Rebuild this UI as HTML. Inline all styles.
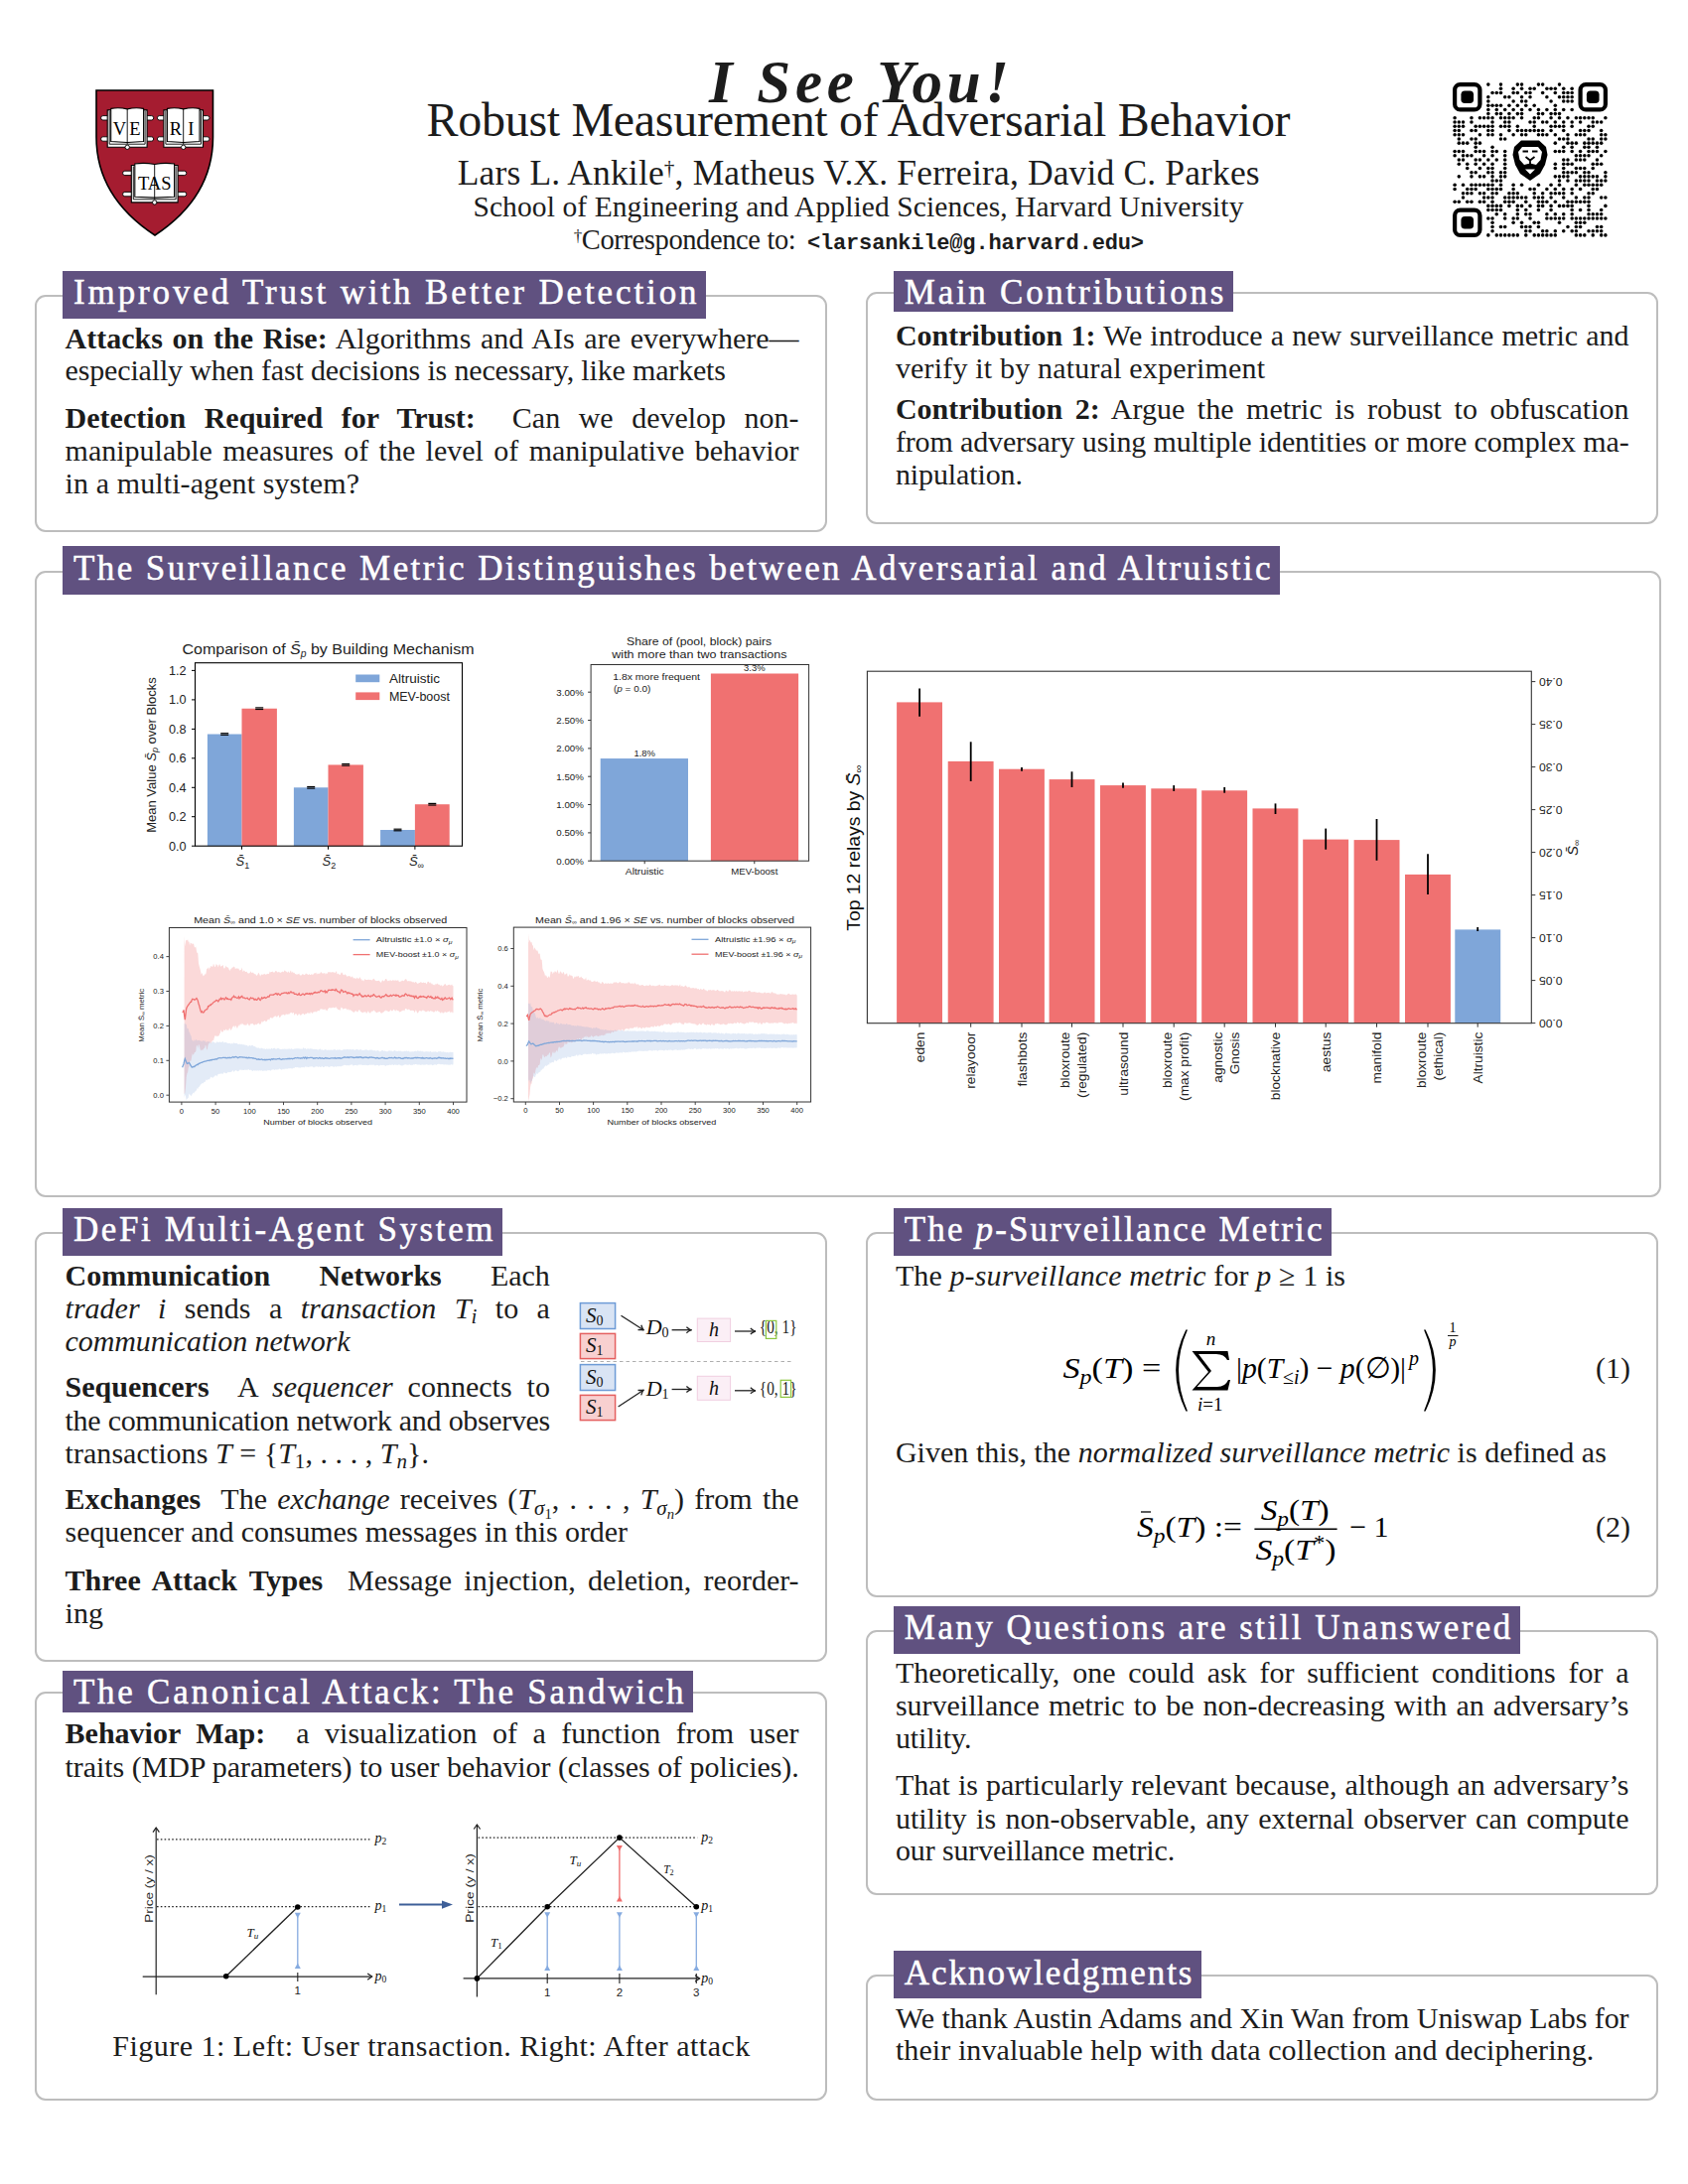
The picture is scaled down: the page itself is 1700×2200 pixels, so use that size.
<!DOCTYPE html><html><head><meta charset='utf-8'><title>I See You! Poster</title><style>
*{margin:0;padding:0;box-sizing:border-box}
html,body{width:1700px;height:2200px;background:#fff;overflow:hidden}
body{position:relative;font-family:"Liberation Serif",serif;color:#1c1c1c}
.t{position:absolute;white-space:nowrap;font-family:"Liberation Serif",serif}
.bx{position:absolute;border:2px solid #bdbdbd;border-radius:11px}
.hd{position:absolute;background:#605180}
.abs{position:absolute}
i{font-style:italic}
b{font-weight:bold}
.m{font-family:"Liberation Mono",monospace;font-weight:bold}
sub{font-size:70%;vertical-align:-0.25em;line-height:0}
sup{font-size:70%;vertical-align:0.45em;line-height:0}
svg text{font-family:"Liberation Sans",sans-serif}
svg text.ser{font-family:"Liberation Serif",serif}
</style></head><body>
<div class="bx" style="left:35.0px;top:297.0px;width:798.0px;height:239.4px"></div>
<div class="bx" style="left:871.7px;top:294.0px;width:798.1px;height:233.8px"></div>
<div class="bx" style="left:35.0px;top:574.5px;width:1637.7px;height:631.3px"></div>
<div class="bx" style="left:35.0px;top:1241.0px;width:798.0px;height:433.0px"></div>
<div class="bx" style="left:35.0px;top:1704.0px;width:798.0px;height:411.6px"></div>
<div class="bx" style="left:871.7px;top:1241.0px;width:798.0px;height:368.3px"></div>
<div class="bx" style="left:871.7px;top:1642.0px;width:798.0px;height:267.0px"></div>
<div class="bx" style="left:871.7px;top:1989.0px;width:798.0px;height:126.6px"></div>
<div class="hd" style="left:63.0px;top:272.5px;width:648.0px;height:48.5px"></div>
<div class="t" style="left:74.0px;top:277.1px;font-size:35px;line-height:35px;color:#fff;-webkit-text-stroke:0.5px #fff;letter-spacing:2.875px;">Improved Trust with Better Detection</div>
<div class="hd" style="left:900.2px;top:272.6px;width:341.6px;height:41.9px"></div>
<div class="t" style="left:910.8px;top:277.0px;font-size:35px;line-height:35px;color:#fff;-webkit-text-stroke:0.5px #fff;letter-spacing:2.726px;">Main Contributions</div>
<div class="hd" style="left:63.0px;top:550.2px;width:1226.0px;height:48.6px"></div>
<div class="t" style="left:74.0px;top:554.6px;font-size:35px;line-height:35px;color:#fff;-webkit-text-stroke:0.5px #fff;letter-spacing:2.427px;">The Surveillance Metric Distinguishes between Adversarial and Altruistic</div>
<div class="hd" style="left:63.0px;top:1217.1px;width:443.0px;height:47.7px"></div>
<div class="t" style="left:74.0px;top:1221.4px;font-size:35px;line-height:35px;color:#fff;-webkit-text-stroke:0.5px #fff;letter-spacing:2.588px;">DeFi Multi-Agent System</div>
<div class="hd" style="left:63.0px;top:1683.0px;width:635.0px;height:41.5px"></div>
<div class="t" style="left:74.0px;top:1687.0px;font-size:35px;line-height:35px;color:#fff;-webkit-text-stroke:0.5px #fff;letter-spacing:2.736px;">The Canonical Attack: The Sandwich</div>
<div class="hd" style="left:900.2px;top:1217.2px;width:440.8px;height:47.4px"></div>
<div class="t" style="left:910.8px;top:1221.4px;font-size:35px;line-height:35px;color:#fff;-webkit-text-stroke:0.5px #fff;letter-spacing:2.141px;">The <i>p</i>-Surveillance Metric</div>
<div class="hd" style="left:900.2px;top:1618.0px;width:630.6px;height:47.7px"></div>
<div class="t" style="left:910.8px;top:1622.0px;font-size:35px;line-height:35px;color:#fff;-webkit-text-stroke:0.5px #fff;letter-spacing:2.460px;">Many Questions are still Unanswered</div>
<div class="hd" style="left:900.2px;top:1965.0px;width:309.8px;height:47.9px"></div>
<div class="t" style="left:910.8px;top:1969.5px;font-size:35px;line-height:35px;color:#fff;-webkit-text-stroke:0.5px #fff;letter-spacing:1.946px;">Acknowledgments</div>
<div class="t" style="left:714.0px;top:52.2px;font-size:61px;line-height:61px;letter-spacing:4.679px;"><b><i>I See You!</i></b></div>
<div class="t" style="left:429.6px;top:97.2px;font-size:48px;line-height:48px;letter-spacing:-0.304px;">Robust Measurement of Adversarial Behavior</div>
<div class="t" style="left:460.7px;top:156.6px;font-size:35.5px;line-height:35.5px;letter-spacing:0.147px;">Lars L. Ankile<sup style='font-size:60%'>&dagger;</sup>, Matheus V.X. Ferreira, David C. Parkes</div>
<div class="t" style="left:476.4px;top:194.1px;font-size:29.5px;line-height:29.5px;letter-spacing:0.097px;">School of Engineering and Applied Sciences, Harvard University</div>
<div class="t" style="left:577.7px;top:228.4px;font-size:28.5px;line-height:28.5px;letter-spacing:-0.386px;"><sup style='font-size:60%'>&dagger;</sup>Correspondence to:</div>
<div class="t" style="left:813.0px;top:235.4px;font-size:22px;line-height:22px;font-family:'Liberation Mono',monospace;font-weight:bold;letter-spacing:-0.171px;">&lt;larsankile@g.harvard.edu&gt;</div>
<div class="t" style="left:65.6px;top:325.5px;font-size:30px;line-height:30px;width:739.0px;text-align:justify;text-align-last:justify;"><b>Attacks on the Rise:</b> Algorithms and AIs are everywhere&mdash;</div>
<div class="t" style="left:65.6px;top:358.3px;font-size:30px;line-height:30px;letter-spacing:-0.163px;">especially when fast decisions is necessary, like markets</div>
<div class="t" style="left:65.6px;top:406.1px;font-size:30px;line-height:30px;width:739.0px;text-align:justify;text-align-last:justify;"><b>Detection Required for Trust:</b>&nbsp; Can we develop non-</div>
<div class="t" style="left:65.6px;top:438.9px;font-size:30px;line-height:30px;width:739.0px;text-align:justify;text-align-last:justify;">manipulable measures of the level of manipulative behavior</div>
<div class="t" style="left:65.6px;top:471.6px;font-size:30px;line-height:30px;letter-spacing:0.100px;">in a multi-agent system?</div>
<div class="t" style="left:901.9px;top:323.0px;font-size:30px;line-height:30px;width:738.6px;text-align:justify;text-align-last:justify;"><b>Contribution 1:</b> We introduce a new surveillance metric and</div>
<div class="t" style="left:901.9px;top:355.7px;font-size:30px;line-height:30px;letter-spacing:0.185px;">verify it by natural experiment</div>
<div class="t" style="left:901.9px;top:397.0px;font-size:30px;line-height:30px;width:738.6px;text-align:justify;text-align-last:justify;"><b>Contribution 2:</b> Argue the metric is robust to obfuscation</div>
<div class="t" style="left:901.9px;top:430.3px;font-size:30px;line-height:30px;width:738.6px;text-align:justify;text-align-last:justify;letter-spacing:-0.151px;">from adversary using multiple identities or more complex ma-</div>
<div class="t" style="left:901.9px;top:462.9px;font-size:30px;line-height:30px;letter-spacing:-0.106px;">nipulation.</div>
<div class="t" style="left:65.6px;top:1269.6px;font-size:30px;line-height:30px;width:488.3px;text-align:justify;text-align-last:justify;"><b>Communication Networks</b> Each</div>
<div class="t" style="left:65.6px;top:1303.3px;font-size:30px;line-height:30px;width:488.3px;text-align:justify;text-align-last:justify;"><i>trader i</i> sends a <i>transaction T<sub>i</sub></i> to a</div>
<div class="t" style="left:65.6px;top:1335.9px;font-size:30px;line-height:30px;letter-spacing:-0.111px;"><i>communication network</i></div>
<div class="t" style="left:65.6px;top:1382.4px;font-size:30px;line-height:30px;width:488.3px;text-align:justify;text-align-last:justify;"><b>Sequencers</b>&nbsp; A <i>sequencer</i> connects to</div>
<div class="t" style="left:65.6px;top:1415.6px;font-size:30px;line-height:30px;width:488.3px;text-align:justify;text-align-last:justify;letter-spacing:-0.340px;">the communication network and observes</div>
<div class="t" style="left:65.6px;top:1449.3px;font-size:30px;line-height:30px;letter-spacing:0.040px;">transactions <i>T</i> = {<i>T</i><sub>1</sub>, . . . , <i>T<sub>n</sub></i>}.</div>
<div class="t" style="left:65.6px;top:1495.3px;font-size:30px;line-height:30px;width:739.0px;text-align:justify;text-align-last:justify;"><b>Exchanges</b>&nbsp; The <i>exchange</i> receives (<i>T</i><sub><i>&sigma;</i><sub>1</sub></sub>, . . . , <i>T</i><sub><i>&sigma;<sub>n</sub></i></sub>) from the</div>
<div class="t" style="left:65.6px;top:1527.9px;font-size:30px;line-height:30px;letter-spacing:-0.078px;">sequencer and consumes messages in this order</div>
<div class="t" style="left:65.6px;top:1576.9px;font-size:30px;line-height:30px;width:739.0px;text-align:justify;text-align-last:justify;"><b>Three Attack Types</b>&nbsp; Message injection, deletion, reorder-</div>
<div class="t" style="left:65.6px;top:1609.9px;font-size:30px;line-height:30px;">ing</div>
<div class="t" style="left:65.6px;top:1731.4px;font-size:30px;line-height:30px;width:739.0px;text-align:justify;text-align-last:justify;"><b>Behavior Map:</b>&nbsp; a visualization of a function from user</div>
<div class="t" style="left:65.6px;top:1764.6px;font-size:30px;line-height:30px;width:739.0px;text-align:justify;text-align-last:justify;letter-spacing:-0.078px;">traits (MDP parameters) to user behavior (classes of policies).</div>
<div class="t" style="left:113.3px;top:2046.1px;font-size:30px;line-height:30px;letter-spacing:0.490px;">Figure 1: Left: User transaction. Right: After attack</div>
<div class="t" style="left:901.9px;top:1269.6px;font-size:30px;line-height:30px;letter-spacing:0.115px;">The <i>p-surveillance metric</i> for <i>p</i> &ge; 1 is</div>
<div class="t" style="left:901.9px;top:1447.9px;font-size:30px;line-height:30px;letter-spacing:0.033px;">Given this, the <i>normalized surveillance metric</i> is defined as</div>
<div class="t" style="left:1607.0px;top:1362.9px;font-size:30px;line-height:30px;">(1)</div>
<div class="t" style="left:1607.0px;top:1522.9px;font-size:30px;line-height:30px;">(2)</div>
<div class="t" style="left:901.9px;top:1669.6px;font-size:30px;line-height:30px;width:738.6px;text-align:justify;text-align-last:justify;">Theoretically, one could ask for sufficient conditions for a</div>
<div class="t" style="left:901.9px;top:1703.3px;font-size:30px;line-height:30px;width:738.6px;text-align:justify;text-align-last:justify;">surveillance metric to be non-decreasing with an adversary&rsquo;s</div>
<div class="t" style="left:901.9px;top:1736.0px;font-size:30px;line-height:30px;letter-spacing:-0.105px;">utility.</div>
<div class="t" style="left:901.9px;top:1782.9px;font-size:30px;line-height:30px;width:738.6px;text-align:justify;text-align-last:justify;">That is particularly relevant because, although an adversary&rsquo;s</div>
<div class="t" style="left:901.9px;top:1816.6px;font-size:30px;line-height:30px;width:738.6px;text-align:justify;text-align-last:justify;">utility is non-observable, any external observer can compute</div>
<div class="t" style="left:901.9px;top:1849.3px;font-size:30px;line-height:30px;letter-spacing:-0.116px;">our surveillance metric.</div>
<div class="t" style="left:901.9px;top:2017.9px;font-size:30px;line-height:30px;width:738.6px;text-align:justify;text-align-last:justify;letter-spacing:-0.097px;">We thank Austin Adams and Xin Wan from Uniswap Labs for</div>
<div class="t" style="left:901.9px;top:2050.4px;font-size:30px;line-height:30px;letter-spacing:0.091px;">their invaluable help with data collection and deciphering.</div>
<svg class="abs" style="left:0;top:0" width="260" height="260" viewBox="0 0 260 260"><path d="M97,91 L214.5,91 L214.5,138 C214.5,180 194,212 156,237 C118,212 97,180 97,138 Z" fill="#a51c30" stroke="#000" stroke-width="1.6"/><rect x="101.6" y="116.6" width="53.1" height="4.4" rx="2.2" fill="#fff" stroke="#000" stroke-width="0.9"/><rect x="101.6" y="137.8" width="53.1" height="4.4" rx="2.2" fill="#fff" stroke="#000" stroke-width="0.9"/><path d="M108.2,110.9 L148.1,110.9 L148.1,148.3 L108.2,148.3 Z" fill="#fff" stroke="#000" stroke-width="1.1"/><path d="M110.2,111.8 L110.2,145.2 L146.1,145.2 L146.1,111.8" fill="none" stroke="#000" stroke-width="0.9"/><path d="M111.7,109.4 Q119.9,107.9 128.2,109.9 Q136.4,107.9 144.6,109.4 L144.6,142.6 L128.2,143.5 L111.7,142.6 Z" fill="#fff" stroke="#000" stroke-width="1.1"/><line x1="128.2" y1="109.9" x2="128.2" y2="145.2" stroke="#000" stroke-width="0.9"/><circle cx="128.2" cy="148.3" r="2.2" fill="#fff" stroke="#000" stroke-width="0.9"/><text x="120.4" y="135.6" font-size="18.5" text-anchor="middle" font-family="Liberation Serif" class="ser">V</text><text x="135.9" y="135.6" font-size="18.5" text-anchor="middle" font-family="Liberation Serif" class="ser">E</text><rect x="158.4" y="116.6" width="52.6" height="4.4" rx="2.2" fill="#fff" stroke="#000" stroke-width="0.9"/><rect x="158.4" y="137.8" width="52.6" height="4.4" rx="2.2" fill="#fff" stroke="#000" stroke-width="0.9"/><path d="M164.9,110.9 L204.5,110.9 L204.5,148.3 L164.9,148.3 Z" fill="#fff" stroke="#000" stroke-width="1.1"/><path d="M166.9,111.8 L166.9,145.2 L202.5,145.2 L202.5,111.8" fill="none" stroke="#000" stroke-width="0.9"/><path d="M168.4,109.4 Q176.5,107.9 184.7,109.9 Q192.9,107.9 201.0,109.4 L201.0,142.6 L184.7,143.5 L168.4,142.6 Z" fill="#fff" stroke="#000" stroke-width="1.1"/><line x1="184.7" y1="109.9" x2="184.7" y2="145.2" stroke="#000" stroke-width="0.9"/><circle cx="184.7" cy="148.3" r="2.2" fill="#fff" stroke="#000" stroke-width="0.9"/><text x="177.0" y="135.6" font-size="18.5" text-anchor="middle" font-family="Liberation Serif" class="ser">R</text><text x="192.4" y="135.6" font-size="18.5" text-anchor="middle" font-family="Liberation Serif" class="ser">I</text><rect x="123.6" y="172.2" width="64.2" height="4.4" rx="2.2" fill="#fff" stroke="#000" stroke-width="0.9"/><rect x="123.6" y="193.4" width="64.2" height="4.4" rx="2.2" fill="#fff" stroke="#000" stroke-width="0.9"/><path d="M132.3,166.5 L179.1,166.5 L179.1,203.9 L132.3,203.9 Z" fill="#fff" stroke="#000" stroke-width="1.1"/><path d="M134.3,167.4 L134.3,200.8 L177.1,200.8 L177.1,167.4" fill="none" stroke="#000" stroke-width="0.9"/><path d="M135.8,165.0 Q145.7,163.5 155.7,165.5 Q165.7,163.5 175.6,165.0 L175.6,198.2 L155.7,199.1 L135.8,198.2 Z" fill="#fff" stroke="#000" stroke-width="1.1"/><line x1="155.7" y1="165.5" x2="155.7" y2="200.8" stroke="#000" stroke-width="0.9"/><circle cx="155.7" cy="203.9" r="2.2" fill="#fff" stroke="#000" stroke-width="0.9"/><text x="155.7" y="191.2" font-size="18.5" text-anchor="middle" font-family="Liberation Serif" class="ser">TAS</text></svg>
<svg class="abs" style="left:1463.0px;top:83.0px" width="156.0" height="156.0" viewBox="0 0 156.0 156.0"><g fill="#000"><circle cx="35.84" cy="2.11" r="1.77"/><circle cx="48.49" cy="2.11" r="1.77"/><circle cx="65.35" cy="2.11" r="1.77"/><circle cx="69.57" cy="2.11" r="1.77"/><circle cx="86.43" cy="2.11" r="1.77"/><circle cx="90.65" cy="2.11" r="1.77"/><circle cx="107.51" cy="2.11" r="1.77"/><circle cx="48.49" cy="6.32" r="1.77"/><circle cx="61.14" cy="6.32" r="1.77"/><circle cx="69.57" cy="6.32" r="1.77"/><circle cx="78.00" cy="6.32" r="1.77"/><circle cx="82.22" cy="6.32" r="1.77"/><circle cx="94.86" cy="6.32" r="1.77"/><circle cx="99.08" cy="6.32" r="1.77"/><circle cx="103.30" cy="6.32" r="1.77"/><circle cx="111.73" cy="6.32" r="1.77"/><circle cx="120.16" cy="6.32" r="1.77"/><circle cx="40.05" cy="10.54" r="1.77"/><circle cx="44.27" cy="10.54" r="1.77"/><circle cx="48.49" cy="10.54" r="1.77"/><circle cx="61.14" cy="10.54" r="1.77"/><circle cx="65.35" cy="10.54" r="1.77"/><circle cx="73.78" cy="10.54" r="1.77"/><circle cx="78.00" cy="10.54" r="1.77"/><circle cx="90.65" cy="10.54" r="1.77"/><circle cx="103.30" cy="10.54" r="1.77"/><circle cx="111.73" cy="10.54" r="1.77"/><circle cx="115.95" cy="10.54" r="1.77"/><circle cx="120.16" cy="10.54" r="1.77"/><circle cx="35.84" cy="14.76" r="1.77"/><circle cx="52.70" cy="14.76" r="1.77"/><circle cx="56.92" cy="14.76" r="1.77"/><circle cx="69.57" cy="14.76" r="1.77"/><circle cx="78.00" cy="14.76" r="1.77"/><circle cx="94.86" cy="14.76" r="1.77"/><circle cx="107.51" cy="14.76" r="1.77"/><circle cx="111.73" cy="14.76" r="1.77"/><circle cx="115.95" cy="14.76" r="1.77"/><circle cx="120.16" cy="14.76" r="1.77"/><circle cx="35.84" cy="18.97" r="1.77"/><circle cx="61.14" cy="18.97" r="1.77"/><circle cx="69.57" cy="18.97" r="1.77"/><circle cx="73.78" cy="18.97" r="1.77"/><circle cx="99.08" cy="18.97" r="1.77"/><circle cx="111.73" cy="18.97" r="1.77"/><circle cx="115.95" cy="18.97" r="1.77"/><circle cx="120.16" cy="18.97" r="1.77"/><circle cx="35.84" cy="23.19" r="1.77"/><circle cx="40.05" cy="23.19" r="1.77"/><circle cx="44.27" cy="23.19" r="1.77"/><circle cx="48.49" cy="23.19" r="1.77"/><circle cx="56.92" cy="23.19" r="1.77"/><circle cx="65.35" cy="23.19" r="1.77"/><circle cx="73.78" cy="23.19" r="1.77"/><circle cx="82.22" cy="23.19" r="1.77"/><circle cx="103.30" cy="23.19" r="1.77"/><circle cx="35.84" cy="27.41" r="1.77"/><circle cx="44.27" cy="27.41" r="1.77"/><circle cx="52.70" cy="27.41" r="1.77"/><circle cx="61.14" cy="27.41" r="1.77"/><circle cx="69.57" cy="27.41" r="1.77"/><circle cx="78.00" cy="27.41" r="1.77"/><circle cx="86.43" cy="27.41" r="1.77"/><circle cx="94.86" cy="27.41" r="1.77"/><circle cx="103.30" cy="27.41" r="1.77"/><circle cx="111.73" cy="27.41" r="1.77"/><circle cx="120.16" cy="27.41" r="1.77"/><circle cx="35.84" cy="31.62" r="1.77"/><circle cx="44.27" cy="31.62" r="1.77"/><circle cx="48.49" cy="31.62" r="1.77"/><circle cx="56.92" cy="31.62" r="1.77"/><circle cx="65.35" cy="31.62" r="1.77"/><circle cx="69.57" cy="31.62" r="1.77"/><circle cx="86.43" cy="31.62" r="1.77"/><circle cx="90.65" cy="31.62" r="1.77"/><circle cx="99.08" cy="31.62" r="1.77"/><circle cx="103.30" cy="31.62" r="1.77"/><circle cx="107.51" cy="31.62" r="1.77"/><circle cx="2.11" cy="35.84" r="1.77"/><circle cx="18.97" cy="35.84" r="1.77"/><circle cx="27.41" cy="35.84" r="1.77"/><circle cx="31.62" cy="35.84" r="1.77"/><circle cx="35.84" cy="35.84" r="1.77"/><circle cx="40.05" cy="35.84" r="1.77"/><circle cx="48.49" cy="35.84" r="1.77"/><circle cx="52.70" cy="35.84" r="1.77"/><circle cx="56.92" cy="35.84" r="1.77"/><circle cx="61.14" cy="35.84" r="1.77"/><circle cx="69.57" cy="35.84" r="1.77"/><circle cx="82.22" cy="35.84" r="1.77"/><circle cx="86.43" cy="35.84" r="1.77"/><circle cx="99.08" cy="35.84" r="1.77"/><circle cx="107.51" cy="35.84" r="1.77"/><circle cx="115.95" cy="35.84" r="1.77"/><circle cx="124.38" cy="35.84" r="1.77"/><circle cx="128.59" cy="35.84" r="1.77"/><circle cx="132.81" cy="35.84" r="1.77"/><circle cx="137.03" cy="35.84" r="1.77"/><circle cx="141.24" cy="35.84" r="1.77"/><circle cx="153.89" cy="35.84" r="1.77"/><circle cx="2.11" cy="40.05" r="1.77"/><circle cx="6.32" cy="40.05" r="1.77"/><circle cx="10.54" cy="40.05" r="1.77"/><circle cx="18.97" cy="40.05" r="1.77"/><circle cx="40.05" cy="40.05" r="1.77"/><circle cx="52.70" cy="40.05" r="1.77"/><circle cx="56.92" cy="40.05" r="1.77"/><circle cx="78.00" cy="40.05" r="1.77"/><circle cx="82.22" cy="40.05" r="1.77"/><circle cx="90.65" cy="40.05" r="1.77"/><circle cx="94.86" cy="40.05" r="1.77"/><circle cx="103.30" cy="40.05" r="1.77"/><circle cx="111.73" cy="40.05" r="1.77"/><circle cx="120.16" cy="40.05" r="1.77"/><circle cx="128.59" cy="40.05" r="1.77"/><circle cx="141.24" cy="40.05" r="1.77"/><circle cx="145.46" cy="40.05" r="1.77"/><circle cx="149.68" cy="40.05" r="1.77"/><circle cx="2.11" cy="44.27" r="1.77"/><circle cx="6.32" cy="44.27" r="1.77"/><circle cx="10.54" cy="44.27" r="1.77"/><circle cx="23.19" cy="44.27" r="1.77"/><circle cx="27.41" cy="44.27" r="1.77"/><circle cx="31.62" cy="44.27" r="1.77"/><circle cx="35.84" cy="44.27" r="1.77"/><circle cx="40.05" cy="44.27" r="1.77"/><circle cx="48.49" cy="44.27" r="1.77"/><circle cx="52.70" cy="44.27" r="1.77"/><circle cx="56.92" cy="44.27" r="1.77"/><circle cx="65.35" cy="44.27" r="1.77"/><circle cx="82.22" cy="44.27" r="1.77"/><circle cx="99.08" cy="44.27" r="1.77"/><circle cx="103.30" cy="44.27" r="1.77"/><circle cx="107.51" cy="44.27" r="1.77"/><circle cx="111.73" cy="44.27" r="1.77"/><circle cx="120.16" cy="44.27" r="1.77"/><circle cx="137.03" cy="44.27" r="1.77"/><circle cx="141.24" cy="44.27" r="1.77"/><circle cx="2.11" cy="48.49" r="1.77"/><circle cx="6.32" cy="48.49" r="1.77"/><circle cx="18.97" cy="48.49" r="1.77"/><circle cx="23.19" cy="48.49" r="1.77"/><circle cx="35.84" cy="48.49" r="1.77"/><circle cx="40.05" cy="48.49" r="1.77"/><circle cx="56.92" cy="48.49" r="1.77"/><circle cx="65.35" cy="48.49" r="1.77"/><circle cx="69.57" cy="48.49" r="1.77"/><circle cx="73.78" cy="48.49" r="1.77"/><circle cx="78.00" cy="48.49" r="1.77"/><circle cx="82.22" cy="48.49" r="1.77"/><circle cx="86.43" cy="48.49" r="1.77"/><circle cx="90.65" cy="48.49" r="1.77"/><circle cx="99.08" cy="48.49" r="1.77"/><circle cx="111.73" cy="48.49" r="1.77"/><circle cx="128.59" cy="48.49" r="1.77"/><circle cx="132.81" cy="48.49" r="1.77"/><circle cx="137.03" cy="48.49" r="1.77"/><circle cx="149.68" cy="48.49" r="1.77"/><circle cx="2.11" cy="52.70" r="1.77"/><circle cx="6.32" cy="52.70" r="1.77"/><circle cx="10.54" cy="52.70" r="1.77"/><circle cx="27.41" cy="52.70" r="1.77"/><circle cx="35.84" cy="52.70" r="1.77"/><circle cx="40.05" cy="52.70" r="1.77"/><circle cx="48.49" cy="52.70" r="1.77"/><circle cx="61.14" cy="52.70" r="1.77"/><circle cx="69.57" cy="52.70" r="1.77"/><circle cx="73.78" cy="52.70" r="1.77"/><circle cx="86.43" cy="52.70" r="1.77"/><circle cx="90.65" cy="52.70" r="1.77"/><circle cx="94.86" cy="52.70" r="1.77"/><circle cx="103.30" cy="52.70" r="1.77"/><circle cx="115.95" cy="52.70" r="1.77"/><circle cx="124.38" cy="52.70" r="1.77"/><circle cx="128.59" cy="52.70" r="1.77"/><circle cx="132.81" cy="52.70" r="1.77"/><circle cx="149.68" cy="52.70" r="1.77"/><circle cx="153.89" cy="52.70" r="1.77"/><circle cx="6.32" cy="56.92" r="1.77"/><circle cx="18.97" cy="56.92" r="1.77"/><circle cx="23.19" cy="56.92" r="1.77"/><circle cx="48.49" cy="56.92" r="1.77"/><circle cx="52.70" cy="56.92" r="1.77"/><circle cx="107.51" cy="56.92" r="1.77"/><circle cx="111.73" cy="56.92" r="1.77"/><circle cx="115.95" cy="56.92" r="1.77"/><circle cx="137.03" cy="56.92" r="1.77"/><circle cx="141.24" cy="56.92" r="1.77"/><circle cx="149.68" cy="56.92" r="1.77"/><circle cx="153.89" cy="56.92" r="1.77"/><circle cx="6.32" cy="61.14" r="1.77"/><circle cx="10.54" cy="61.14" r="1.77"/><circle cx="14.76" cy="61.14" r="1.77"/><circle cx="23.19" cy="61.14" r="1.77"/><circle cx="27.41" cy="61.14" r="1.77"/><circle cx="103.30" cy="61.14" r="1.77"/><circle cx="115.95" cy="61.14" r="1.77"/><circle cx="120.16" cy="61.14" r="1.77"/><circle cx="124.38" cy="61.14" r="1.77"/><circle cx="132.81" cy="61.14" r="1.77"/><circle cx="137.03" cy="61.14" r="1.77"/><circle cx="141.24" cy="61.14" r="1.77"/><circle cx="145.46" cy="61.14" r="1.77"/><circle cx="149.68" cy="61.14" r="1.77"/><circle cx="23.19" cy="65.35" r="1.77"/><circle cx="40.05" cy="65.35" r="1.77"/><circle cx="111.73" cy="65.35" r="1.77"/><circle cx="120.16" cy="65.35" r="1.77"/><circle cx="132.81" cy="65.35" r="1.77"/><circle cx="137.03" cy="65.35" r="1.77"/><circle cx="145.46" cy="65.35" r="1.77"/><circle cx="2.11" cy="69.57" r="1.77"/><circle cx="6.32" cy="69.57" r="1.77"/><circle cx="10.54" cy="69.57" r="1.77"/><circle cx="23.19" cy="69.57" r="1.77"/><circle cx="27.41" cy="69.57" r="1.77"/><circle cx="31.62" cy="69.57" r="1.77"/><circle cx="40.05" cy="69.57" r="1.77"/><circle cx="44.27" cy="69.57" r="1.77"/><circle cx="52.70" cy="69.57" r="1.77"/><circle cx="103.30" cy="69.57" r="1.77"/><circle cx="107.51" cy="69.57" r="1.77"/><circle cx="111.73" cy="69.57" r="1.77"/><circle cx="120.16" cy="69.57" r="1.77"/><circle cx="128.59" cy="69.57" r="1.77"/><circle cx="137.03" cy="69.57" r="1.77"/><circle cx="141.24" cy="69.57" r="1.77"/><circle cx="145.46" cy="69.57" r="1.77"/><circle cx="153.89" cy="69.57" r="1.77"/><circle cx="2.11" cy="73.78" r="1.77"/><circle cx="10.54" cy="73.78" r="1.77"/><circle cx="14.76" cy="73.78" r="1.77"/><circle cx="18.97" cy="73.78" r="1.77"/><circle cx="31.62" cy="73.78" r="1.77"/><circle cx="40.05" cy="73.78" r="1.77"/><circle cx="52.70" cy="73.78" r="1.77"/><circle cx="124.38" cy="73.78" r="1.77"/><circle cx="128.59" cy="73.78" r="1.77"/><circle cx="132.81" cy="73.78" r="1.77"/><circle cx="137.03" cy="73.78" r="1.77"/><circle cx="149.68" cy="73.78" r="1.77"/><circle cx="6.32" cy="78.00" r="1.77"/><circle cx="10.54" cy="78.00" r="1.77"/><circle cx="23.19" cy="78.00" r="1.77"/><circle cx="27.41" cy="78.00" r="1.77"/><circle cx="35.84" cy="78.00" r="1.77"/><circle cx="44.27" cy="78.00" r="1.77"/><circle cx="52.70" cy="78.00" r="1.77"/><circle cx="111.73" cy="78.00" r="1.77"/><circle cx="115.95" cy="78.00" r="1.77"/><circle cx="124.38" cy="78.00" r="1.77"/><circle cx="128.59" cy="78.00" r="1.77"/><circle cx="132.81" cy="78.00" r="1.77"/><circle cx="145.46" cy="78.00" r="1.77"/><circle cx="6.32" cy="82.22" r="1.77"/><circle cx="14.76" cy="82.22" r="1.77"/><circle cx="23.19" cy="82.22" r="1.77"/><circle cx="31.62" cy="82.22" r="1.77"/><circle cx="40.05" cy="82.22" r="1.77"/><circle cx="52.70" cy="82.22" r="1.77"/><circle cx="103.30" cy="82.22" r="1.77"/><circle cx="111.73" cy="82.22" r="1.77"/><circle cx="115.95" cy="82.22" r="1.77"/><circle cx="120.16" cy="82.22" r="1.77"/><circle cx="141.24" cy="82.22" r="1.77"/><circle cx="145.46" cy="82.22" r="1.77"/><circle cx="149.68" cy="82.22" r="1.77"/><circle cx="14.76" cy="86.43" r="1.77"/><circle cx="27.41" cy="86.43" r="1.77"/><circle cx="35.84" cy="86.43" r="1.77"/><circle cx="40.05" cy="86.43" r="1.77"/><circle cx="52.70" cy="86.43" r="1.77"/><circle cx="103.30" cy="86.43" r="1.77"/><circle cx="111.73" cy="86.43" r="1.77"/><circle cx="124.38" cy="86.43" r="1.77"/><circle cx="128.59" cy="86.43" r="1.77"/><circle cx="132.81" cy="86.43" r="1.77"/><circle cx="141.24" cy="86.43" r="1.77"/><circle cx="18.97" cy="90.65" r="1.77"/><circle cx="23.19" cy="90.65" r="1.77"/><circle cx="35.84" cy="90.65" r="1.77"/><circle cx="40.05" cy="90.65" r="1.77"/><circle cx="48.49" cy="90.65" r="1.77"/><circle cx="52.70" cy="90.65" r="1.77"/><circle cx="111.73" cy="90.65" r="1.77"/><circle cx="115.95" cy="90.65" r="1.77"/><circle cx="120.16" cy="90.65" r="1.77"/><circle cx="124.38" cy="90.65" r="1.77"/><circle cx="132.81" cy="90.65" r="1.77"/><circle cx="137.03" cy="90.65" r="1.77"/><circle cx="153.89" cy="90.65" r="1.77"/><circle cx="6.32" cy="94.86" r="1.77"/><circle cx="18.97" cy="94.86" r="1.77"/><circle cx="27.41" cy="94.86" r="1.77"/><circle cx="31.62" cy="94.86" r="1.77"/><circle cx="40.05" cy="94.86" r="1.77"/><circle cx="48.49" cy="94.86" r="1.77"/><circle cx="52.70" cy="94.86" r="1.77"/><circle cx="103.30" cy="94.86" r="1.77"/><circle cx="107.51" cy="94.86" r="1.77"/><circle cx="111.73" cy="94.86" r="1.77"/><circle cx="115.95" cy="94.86" r="1.77"/><circle cx="128.59" cy="94.86" r="1.77"/><circle cx="132.81" cy="94.86" r="1.77"/><circle cx="137.03" cy="94.86" r="1.77"/><circle cx="141.24" cy="94.86" r="1.77"/><circle cx="145.46" cy="94.86" r="1.77"/><circle cx="153.89" cy="94.86" r="1.77"/><circle cx="40.05" cy="99.08" r="1.77"/><circle cx="44.27" cy="99.08" r="1.77"/><circle cx="48.49" cy="99.08" r="1.77"/><circle cx="107.51" cy="99.08" r="1.77"/><circle cx="115.95" cy="99.08" r="1.77"/><circle cx="124.38" cy="99.08" r="1.77"/><circle cx="128.59" cy="99.08" r="1.77"/><circle cx="132.81" cy="99.08" r="1.77"/><circle cx="137.03" cy="99.08" r="1.77"/><circle cx="145.46" cy="99.08" r="1.77"/><circle cx="149.68" cy="99.08" r="1.77"/><circle cx="153.89" cy="99.08" r="1.77"/><circle cx="2.11" cy="103.30" r="1.77"/><circle cx="10.54" cy="103.30" r="1.77"/><circle cx="18.97" cy="103.30" r="1.77"/><circle cx="23.19" cy="103.30" r="1.77"/><circle cx="27.41" cy="103.30" r="1.77"/><circle cx="31.62" cy="103.30" r="1.77"/><circle cx="35.84" cy="103.30" r="1.77"/><circle cx="40.05" cy="103.30" r="1.77"/><circle cx="48.49" cy="103.30" r="1.77"/><circle cx="61.14" cy="103.30" r="1.77"/><circle cx="69.57" cy="103.30" r="1.77"/><circle cx="86.43" cy="103.30" r="1.77"/><circle cx="99.08" cy="103.30" r="1.77"/><circle cx="107.51" cy="103.30" r="1.77"/><circle cx="124.38" cy="103.30" r="1.77"/><circle cx="132.81" cy="103.30" r="1.77"/><circle cx="137.03" cy="103.30" r="1.77"/><circle cx="141.24" cy="103.30" r="1.77"/><circle cx="145.46" cy="103.30" r="1.77"/><circle cx="149.68" cy="103.30" r="1.77"/><circle cx="2.11" cy="107.51" r="1.77"/><circle cx="14.76" cy="107.51" r="1.77"/><circle cx="18.97" cy="107.51" r="1.77"/><circle cx="23.19" cy="107.51" r="1.77"/><circle cx="35.84" cy="107.51" r="1.77"/><circle cx="40.05" cy="107.51" r="1.77"/><circle cx="44.27" cy="107.51" r="1.77"/><circle cx="48.49" cy="107.51" r="1.77"/><circle cx="61.14" cy="107.51" r="1.77"/><circle cx="78.00" cy="107.51" r="1.77"/><circle cx="82.22" cy="107.51" r="1.77"/><circle cx="94.86" cy="107.51" r="1.77"/><circle cx="103.30" cy="107.51" r="1.77"/><circle cx="111.73" cy="107.51" r="1.77"/><circle cx="120.16" cy="107.51" r="1.77"/><circle cx="128.59" cy="107.51" r="1.77"/><circle cx="141.24" cy="107.51" r="1.77"/><circle cx="145.46" cy="107.51" r="1.77"/><circle cx="10.54" cy="111.73" r="1.77"/><circle cx="14.76" cy="111.73" r="1.77"/><circle cx="18.97" cy="111.73" r="1.77"/><circle cx="27.41" cy="111.73" r="1.77"/><circle cx="31.62" cy="111.73" r="1.77"/><circle cx="40.05" cy="111.73" r="1.77"/><circle cx="44.27" cy="111.73" r="1.77"/><circle cx="56.92" cy="111.73" r="1.77"/><circle cx="61.14" cy="111.73" r="1.77"/><circle cx="65.35" cy="111.73" r="1.77"/><circle cx="82.22" cy="111.73" r="1.77"/><circle cx="90.65" cy="111.73" r="1.77"/><circle cx="99.08" cy="111.73" r="1.77"/><circle cx="103.30" cy="111.73" r="1.77"/><circle cx="107.51" cy="111.73" r="1.77"/><circle cx="111.73" cy="111.73" r="1.77"/><circle cx="120.16" cy="111.73" r="1.77"/><circle cx="137.03" cy="111.73" r="1.77"/><circle cx="141.24" cy="111.73" r="1.77"/><circle cx="10.54" cy="115.95" r="1.77"/><circle cx="31.62" cy="115.95" r="1.77"/><circle cx="35.84" cy="115.95" r="1.77"/><circle cx="40.05" cy="115.95" r="1.77"/><circle cx="52.70" cy="115.95" r="1.77"/><circle cx="56.92" cy="115.95" r="1.77"/><circle cx="61.14" cy="115.95" r="1.77"/><circle cx="65.35" cy="115.95" r="1.77"/><circle cx="69.57" cy="115.95" r="1.77"/><circle cx="73.78" cy="115.95" r="1.77"/><circle cx="82.22" cy="115.95" r="1.77"/><circle cx="86.43" cy="115.95" r="1.77"/><circle cx="90.65" cy="115.95" r="1.77"/><circle cx="99.08" cy="115.95" r="1.77"/><circle cx="111.73" cy="115.95" r="1.77"/><circle cx="124.38" cy="115.95" r="1.77"/><circle cx="132.81" cy="115.95" r="1.77"/><circle cx="137.03" cy="115.95" r="1.77"/><circle cx="149.68" cy="115.95" r="1.77"/><circle cx="153.89" cy="115.95" r="1.77"/><circle cx="2.11" cy="120.16" r="1.77"/><circle cx="6.32" cy="120.16" r="1.77"/><circle cx="14.76" cy="120.16" r="1.77"/><circle cx="18.97" cy="120.16" r="1.77"/><circle cx="27.41" cy="120.16" r="1.77"/><circle cx="31.62" cy="120.16" r="1.77"/><circle cx="40.05" cy="120.16" r="1.77"/><circle cx="52.70" cy="120.16" r="1.77"/><circle cx="56.92" cy="120.16" r="1.77"/><circle cx="61.14" cy="120.16" r="1.77"/><circle cx="73.78" cy="120.16" r="1.77"/><circle cx="86.43" cy="120.16" r="1.77"/><circle cx="90.65" cy="120.16" r="1.77"/><circle cx="94.86" cy="120.16" r="1.77"/><circle cx="103.30" cy="120.16" r="1.77"/><circle cx="115.95" cy="120.16" r="1.77"/><circle cx="120.16" cy="120.16" r="1.77"/><circle cx="124.38" cy="120.16" r="1.77"/><circle cx="128.59" cy="120.16" r="1.77"/><circle cx="132.81" cy="120.16" r="1.77"/><circle cx="137.03" cy="120.16" r="1.77"/><circle cx="35.84" cy="124.38" r="1.77"/><circle cx="40.05" cy="124.38" r="1.77"/><circle cx="44.27" cy="124.38" r="1.77"/><circle cx="48.49" cy="124.38" r="1.77"/><circle cx="56.92" cy="124.38" r="1.77"/><circle cx="65.35" cy="124.38" r="1.77"/><circle cx="69.57" cy="124.38" r="1.77"/><circle cx="78.00" cy="124.38" r="1.77"/><circle cx="86.43" cy="124.38" r="1.77"/><circle cx="90.65" cy="124.38" r="1.77"/><circle cx="99.08" cy="124.38" r="1.77"/><circle cx="107.51" cy="124.38" r="1.77"/><circle cx="111.73" cy="124.38" r="1.77"/><circle cx="115.95" cy="124.38" r="1.77"/><circle cx="120.16" cy="124.38" r="1.77"/><circle cx="137.03" cy="124.38" r="1.77"/><circle cx="153.89" cy="124.38" r="1.77"/><circle cx="35.84" cy="128.59" r="1.77"/><circle cx="40.05" cy="128.59" r="1.77"/><circle cx="44.27" cy="128.59" r="1.77"/><circle cx="48.49" cy="128.59" r="1.77"/><circle cx="65.35" cy="128.59" r="1.77"/><circle cx="73.78" cy="128.59" r="1.77"/><circle cx="86.43" cy="128.59" r="1.77"/><circle cx="99.08" cy="128.59" r="1.77"/><circle cx="120.16" cy="128.59" r="1.77"/><circle cx="128.59" cy="128.59" r="1.77"/><circle cx="137.03" cy="128.59" r="1.77"/><circle cx="149.68" cy="128.59" r="1.77"/><circle cx="44.27" cy="132.81" r="1.77"/><circle cx="52.70" cy="132.81" r="1.77"/><circle cx="65.35" cy="132.81" r="1.77"/><circle cx="73.78" cy="132.81" r="1.77"/><circle cx="78.00" cy="132.81" r="1.77"/><circle cx="94.86" cy="132.81" r="1.77"/><circle cx="103.30" cy="132.81" r="1.77"/><circle cx="111.73" cy="132.81" r="1.77"/><circle cx="120.16" cy="132.81" r="1.77"/><circle cx="137.03" cy="132.81" r="1.77"/><circle cx="141.24" cy="132.81" r="1.77"/><circle cx="145.46" cy="132.81" r="1.77"/><circle cx="149.68" cy="132.81" r="1.77"/><circle cx="35.84" cy="137.03" r="1.77"/><circle cx="40.05" cy="137.03" r="1.77"/><circle cx="52.70" cy="137.03" r="1.77"/><circle cx="61.14" cy="137.03" r="1.77"/><circle cx="65.35" cy="137.03" r="1.77"/><circle cx="78.00" cy="137.03" r="1.77"/><circle cx="94.86" cy="137.03" r="1.77"/><circle cx="99.08" cy="137.03" r="1.77"/><circle cx="103.30" cy="137.03" r="1.77"/><circle cx="107.51" cy="137.03" r="1.77"/><circle cx="111.73" cy="137.03" r="1.77"/><circle cx="120.16" cy="137.03" r="1.77"/><circle cx="124.38" cy="137.03" r="1.77"/><circle cx="128.59" cy="137.03" r="1.77"/><circle cx="132.81" cy="137.03" r="1.77"/><circle cx="137.03" cy="137.03" r="1.77"/><circle cx="141.24" cy="137.03" r="1.77"/><circle cx="145.46" cy="137.03" r="1.77"/><circle cx="149.68" cy="137.03" r="1.77"/><circle cx="153.89" cy="137.03" r="1.77"/><circle cx="40.05" cy="141.24" r="1.77"/><circle cx="61.14" cy="141.24" r="1.77"/><circle cx="69.57" cy="141.24" r="1.77"/><circle cx="82.22" cy="141.24" r="1.77"/><circle cx="86.43" cy="141.24" r="1.77"/><circle cx="107.51" cy="141.24" r="1.77"/><circle cx="124.38" cy="141.24" r="1.77"/><circle cx="128.59" cy="141.24" r="1.77"/><circle cx="132.81" cy="141.24" r="1.77"/><circle cx="40.05" cy="145.46" r="1.77"/><circle cx="48.49" cy="145.46" r="1.77"/><circle cx="52.70" cy="145.46" r="1.77"/><circle cx="69.57" cy="145.46" r="1.77"/><circle cx="73.78" cy="145.46" r="1.77"/><circle cx="78.00" cy="145.46" r="1.77"/><circle cx="86.43" cy="145.46" r="1.77"/><circle cx="115.95" cy="145.46" r="1.77"/><circle cx="124.38" cy="145.46" r="1.77"/><circle cx="128.59" cy="145.46" r="1.77"/><circle cx="145.46" cy="145.46" r="1.77"/><circle cx="149.68" cy="145.46" r="1.77"/><circle cx="40.05" cy="149.68" r="1.77"/><circle cx="73.78" cy="149.68" r="1.77"/><circle cx="78.00" cy="149.68" r="1.77"/><circle cx="90.65" cy="149.68" r="1.77"/><circle cx="94.86" cy="149.68" r="1.77"/><circle cx="103.30" cy="149.68" r="1.77"/><circle cx="111.73" cy="149.68" r="1.77"/><circle cx="120.16" cy="149.68" r="1.77"/><circle cx="124.38" cy="149.68" r="1.77"/><circle cx="137.03" cy="149.68" r="1.77"/><circle cx="141.24" cy="149.68" r="1.77"/><circle cx="145.46" cy="149.68" r="1.77"/><circle cx="149.68" cy="149.68" r="1.77"/><circle cx="35.84" cy="153.89" r="1.77"/><circle cx="44.27" cy="153.89" r="1.77"/><circle cx="48.49" cy="153.89" r="1.77"/><circle cx="52.70" cy="153.89" r="1.77"/><circle cx="56.92" cy="153.89" r="1.77"/><circle cx="61.14" cy="153.89" r="1.77"/><circle cx="65.35" cy="153.89" r="1.77"/><circle cx="73.78" cy="153.89" r="1.77"/><circle cx="82.22" cy="153.89" r="1.77"/><circle cx="86.43" cy="153.89" r="1.77"/><circle cx="90.65" cy="153.89" r="1.77"/><circle cx="94.86" cy="153.89" r="1.77"/><circle cx="99.08" cy="153.89" r="1.77"/><circle cx="103.30" cy="153.89" r="1.77"/><circle cx="124.38" cy="153.89" r="1.77"/><circle cx="128.59" cy="153.89" r="1.77"/><circle cx="132.81" cy="153.89" r="1.77"/><circle cx="141.24" cy="153.89" r="1.77"/><circle cx="149.68" cy="153.89" r="1.77"/><circle cx="153.89" cy="153.89" r="1.77"/></g><rect x="2.11" y="2.11" width="25.30" height="25.30" rx="5.48" fill="none" stroke="#000" stroke-width="4.22"/><rect x="8.43" y="8.43" width="12.65" height="12.65" rx="3.79" fill="#000"/><rect x="128.59" y="2.11" width="25.30" height="25.30" rx="5.48" fill="none" stroke="#000" stroke-width="4.22"/><rect x="134.92" y="8.43" width="12.65" height="12.65" rx="3.79" fill="#000"/><rect x="2.11" y="128.59" width="25.30" height="25.30" rx="5.48" fill="none" stroke="#000" stroke-width="4.22"/><rect x="8.43" y="134.92" width="12.65" height="12.65" rx="3.79" fill="#000"/><polygon points="69.0,58.5 87.0,58.5 94.0,65.0 95.5,73.0 93.0,83.0 88.0,92.0 78.0,99.0 68.0,92.0 63.0,83.0 60.5,73.0 62.0,65.0" fill="#000"/><polygon points="70.0,65.0 86.0,65.0 90.0,70.0 88.5,78.0 84.0,83.0 78.0,81.5 72.0,83.0 67.5,78.0 66.0,70.0" fill="#fff"/><path d="M70.5,69.5 L76.0,69.5 M80.0,69.5 L85.5,69.5 M73.5,75.0 L78.0,78.5 L82.5,75.0 M78.0,78.5 L78.0,82.0" stroke="#000" stroke-width="1.8" fill="none"/><polygon points="73.0,87.5 83.0,87.5 78.0,92.5" fill="#fff"/></svg>
<svg class="abs" style="left:0;top:0" width="1700" height="2200" viewBox="0 0 1700 2200"><rect x="208.90" y="739.52" width="34.60" height="112.68" fill="#7fa6d9" /><rect x="243.50" y="713.74" width="35.40" height="138.46" fill="#f07171" /><line x1="222.2" y1="738.7" x2="230.2" y2="738.7" stroke="#000" stroke-width="1.2" /><line x1="222.2" y1="740.3" x2="230.2" y2="740.3" stroke="#000" stroke-width="1.2" /><line x1="257.2" y1="712.9" x2="265.2" y2="712.9" stroke="#000" stroke-width="1.2" /><line x1="257.2" y1="714.5" x2="265.2" y2="714.5" stroke="#000" stroke-width="1.2" /><rect x="295.90" y="793.28" width="34.60" height="58.92" fill="#7fa6d9" /><rect x="330.50" y="770.45" width="35.40" height="81.75" fill="#f07171" /><line x1="309.2" y1="792.5" x2="317.2" y2="792.5" stroke="#000" stroke-width="1.2" /><line x1="309.2" y1="794.1" x2="317.2" y2="794.1" stroke="#000" stroke-width="1.2" /><line x1="344.2" y1="769.6" x2="352.2" y2="769.6" stroke="#000" stroke-width="1.2" /><line x1="344.2" y1="771.2" x2="352.2" y2="771.2" stroke="#000" stroke-width="1.2" /><rect x="383.10" y="836.00" width="34.80" height="16.20" fill="#7fa6d9" /><rect x="417.90" y="810.22" width="34.80" height="41.98" fill="#f07171" /><line x1="396.5" y1="835.2" x2="404.5" y2="835.2" stroke="#000" stroke-width="1.2" /><line x1="396.5" y1="836.8" x2="404.5" y2="836.8" stroke="#000" stroke-width="1.2" /><line x1="431.3" y1="809.4" x2="439.3" y2="809.4" stroke="#000" stroke-width="1.2" /><line x1="431.3" y1="811.0" x2="439.3" y2="811.0" stroke="#000" stroke-width="1.2" /><rect x="196.5" y="667.7" width="269.0" height="184.5" fill="none" stroke="#000" stroke-width="1.1"/><line x1="193.0" y1="852.2" x2="196.5" y2="852.2" stroke="#000" stroke-width="1" /><text x="187.6" y="856.5" font-size="12" text-anchor="end" textLength="17.6" lengthAdjust="spacingAndGlyphs" fill="#222" >0.0</text><line x1="193.0" y1="822.7" x2="196.5" y2="822.7" stroke="#000" stroke-width="1" /><text x="187.6" y="827.0" font-size="12" text-anchor="end" textLength="17.6" lengthAdjust="spacingAndGlyphs" fill="#222" >0.2</text><line x1="193.0" y1="793.3" x2="196.5" y2="793.3" stroke="#000" stroke-width="1" /><text x="187.6" y="797.6" font-size="12" text-anchor="end" textLength="17.6" lengthAdjust="spacingAndGlyphs" fill="#222" >0.4</text><line x1="193.0" y1="763.8" x2="196.5" y2="763.8" stroke="#000" stroke-width="1" /><text x="187.6" y="768.1" font-size="12" text-anchor="end" textLength="17.6" lengthAdjust="spacingAndGlyphs" fill="#222" >0.6</text><line x1="193.0" y1="734.4" x2="196.5" y2="734.4" stroke="#000" stroke-width="1" /><text x="187.6" y="738.7" font-size="12" text-anchor="end" textLength="17.6" lengthAdjust="spacingAndGlyphs" fill="#222" >0.8</text><line x1="193.0" y1="704.9" x2="196.5" y2="704.9" stroke="#000" stroke-width="1" /><text x="187.6" y="709.2" font-size="12" text-anchor="end" textLength="17.6" lengthAdjust="spacingAndGlyphs" fill="#222" >1.0</text><line x1="193.0" y1="675.4" x2="196.5" y2="675.4" stroke="#000" stroke-width="1" /><text x="187.6" y="679.7" font-size="12" text-anchor="end" textLength="17.6" lengthAdjust="spacingAndGlyphs" fill="#222" >1.2</text><line x1="243.5" y1="852.2" x2="243.5" y2="855.7" stroke="#000" stroke-width="1" /><text x="237.5" y="872" font-size="13" fill="#222" font-style="italic">S&#772;<tspan font-size="9" dy="3" font-style="normal">1</tspan></text><line x1="330.5" y1="852.2" x2="330.5" y2="855.7" stroke="#000" stroke-width="1" /><text x="324.5" y="872" font-size="13" fill="#222" font-style="italic">S&#772;<tspan font-size="9" dy="3" font-style="normal">2</tspan></text><line x1="417.9" y1="852.2" x2="417.9" y2="855.7" stroke="#000" stroke-width="1" /><text x="411.9" y="872" font-size="13" fill="#222" font-style="italic">S&#772;<tspan font-size="9" dy="3" font-style="normal">&#8734;</tspan></text><text x="330.5" y="658.8" font-size="15.5" text-anchor="middle" textLength="294.0" lengthAdjust="spacingAndGlyphs" fill="#222" >Comparison of <tspan font-style='italic'>S&#772;</tspan><tspan font-size='10' dy='3' font-style='italic'>p</tspan><tspan dy='-3'> by Building Mechanism</tspan></text><text x="156.9" y="760.5" font-size="13" text-anchor="middle" transform="rotate(-90 156.9 760.5)" fill="#222" >Mean Value <tspan font-style='italic'>S&#772;</tspan><tspan font-size='9' dy='2' font-style='italic'>p</tspan><tspan dy='-2'> over Blocks</tspan></text><rect x="358.20" y="679.50" width="24.10" height="7.70" fill="#7fa6d9" /><rect x="358.20" y="697.40" width="24.10" height="7.70" fill="#f07171" /><text x="391.9" y="687.5" font-size="12.2" textLength="51.1" lengthAdjust="spacingAndGlyphs" fill="#222" >Altruistic</text><text x="391.9" y="705.5" font-size="12.2" textLength="61.1" lengthAdjust="spacingAndGlyphs" fill="#222" >MEV-boost</text><rect x="604.70" y="764.06" width="88.30" height="103.14" fill="#7fa6d9" /><rect x="715.90" y="678.49" width="88.20" height="188.71" fill="#f07171" /><rect x="595.1" y="669.5" width="219.5" height="197.70000000000005" fill="none" stroke="#333" stroke-width="1"/><line x1="592.1" y1="867.2" x2="595.1" y2="867.2" stroke="#333" stroke-width="1" /><text x="587.8" y="870.5" font-size="9" text-anchor="end" textLength="27.5" lengthAdjust="spacingAndGlyphs" fill="#222" >0.00%</text><line x1="592.1" y1="838.9" x2="595.1" y2="838.9" stroke="#333" stroke-width="1" /><text x="587.8" y="842.2" font-size="9" text-anchor="end" textLength="27.5" lengthAdjust="spacingAndGlyphs" fill="#222" >0.50%</text><line x1="592.1" y1="810.5" x2="595.1" y2="810.5" stroke="#333" stroke-width="1" /><text x="587.8" y="813.8" font-size="9" text-anchor="end" textLength="27.5" lengthAdjust="spacingAndGlyphs" fill="#222" >1.00%</text><line x1="592.1" y1="782.2" x2="595.1" y2="782.2" stroke="#333" stroke-width="1" /><text x="587.8" y="785.5" font-size="9" text-anchor="end" textLength="27.5" lengthAdjust="spacingAndGlyphs" fill="#222" >1.50%</text><line x1="592.1" y1="753.9" x2="595.1" y2="753.9" stroke="#333" stroke-width="1" /><text x="587.8" y="757.2" font-size="9" text-anchor="end" textLength="27.5" lengthAdjust="spacingAndGlyphs" fill="#222" >2.00%</text><line x1="592.1" y1="725.5" x2="595.1" y2="725.5" stroke="#333" stroke-width="1" /><text x="587.8" y="728.8" font-size="9" text-anchor="end" textLength="27.5" lengthAdjust="spacingAndGlyphs" fill="#222" >2.50%</text><line x1="592.1" y1="697.2" x2="595.1" y2="697.2" stroke="#333" stroke-width="1" /><text x="587.8" y="700.5" font-size="9" text-anchor="end" textLength="27.5" lengthAdjust="spacingAndGlyphs" fill="#222" >3.00%</text><line x1="649.2" y1="867.2" x2="649.2" y2="870.2" stroke="#333" stroke-width="1" /><text x="649.2" y="880.5" font-size="9.2" text-anchor="middle" textLength="38.8" lengthAdjust="spacingAndGlyphs" fill="#222" >Altruistic</text><line x1="759.8" y1="867.2" x2="759.8" y2="870.2" stroke="#333" stroke-width="1" /><text x="759.8" y="880.5" font-size="9.2" text-anchor="middle" textLength="47.0" lengthAdjust="spacingAndGlyphs" fill="#222" >MEV-boost</text><text x="704.1" y="649.9" font-size="11" text-anchor="middle" textLength="146.2" lengthAdjust="spacingAndGlyphs" fill="#222" >Share of (pool, block) pairs</text><text x="704.4" y="663.2" font-size="11" text-anchor="middle" textLength="176.2" lengthAdjust="spacingAndGlyphs" fill="#222" >with more than two transactions</text><text x="617.2" y="684.7" font-size="9" textLength="87.8" lengthAdjust="spacingAndGlyphs" fill="#222" >1.8x more frequent</text><text x="618.0" y="696.8" font-size="9" textLength="37.3" lengthAdjust="spacingAndGlyphs" fill="#222" >(<tspan font-style='italic'>p</tspan> = 0.0)</text><text x="759.8" y="676.4" font-size="9" text-anchor="middle" textLength="21.5" lengthAdjust="spacingAndGlyphs" fill="#222" >3.3%</text><text x="649.2" y="761.5" font-size="9" text-anchor="middle" textLength="21.5" lengthAdjust="spacingAndGlyphs" fill="#222" >1.8%</text><polygon points="185.6,943.1 186.3,953.4 187.0,947.7 187.7,946.9 188.4,947.2 189.1,946.2 189.7,948.7 190.4,948.4 191.1,952.5 191.8,949.2 192.5,950.3 193.2,950.3 193.8,951.4 194.5,950.3 195.2,951.2 195.9,954.4 196.6,954.2 197.3,953.5 197.9,957.7 198.6,960.1 199.3,960.2 200.0,970.3 200.7,973.2 201.4,975.7 202.1,978.5 202.7,981.7 203.4,979.9 204.1,981.8 204.8,983.4 205.5,982.7 206.2,980.5 206.8,982.3 207.5,980.4 208.2,975.9 208.9,975.7 209.6,974.5 210.3,977.1 210.9,974.0 211.6,975.4 212.3,973.3 213.0,973.0 213.7,974.0 214.4,973.5 215.0,970.4 215.7,972.5 216.4,974.2 217.1,973.4 217.8,970.7 218.5,971.9 219.2,972.5 219.8,974.5 220.5,972.1 221.2,971.1 221.9,972.9 222.6,973.8 223.3,973.1 223.9,972.8 224.6,971.7 225.3,975.0 226.0,975.7 226.7,974.7 227.4,972.5 228.0,974.1 228.7,974.2 229.4,974.6 230.1,975.0 230.8,977.0 231.5,977.9 232.1,975.4 232.8,976.7 233.5,975.1 234.2,974.3 234.9,974.7 235.6,973.5 236.3,973.9 236.9,975.9 237.6,975.4 238.3,975.8 239.0,975.0 239.7,975.9 240.4,975.6 241.0,977.2 241.7,977.5 242.4,977.0 243.1,976.7 243.8,974.5 244.5,978.9 245.1,978.3 245.8,977.3 246.5,978.3 247.2,979.0 247.9,978.9 248.6,978.4 249.2,980.0 249.9,980.4 250.6,980.6 251.3,980.3 252.0,979.5 252.7,978.2 253.4,980.0 254.0,980.1 254.7,979.6 255.4,980.0 256.1,981.5 256.8,980.7 257.5,981.5 258.1,982.4 258.8,982.7 259.5,981.8 260.2,979.8 260.9,980.6 261.6,982.1 262.2,983.5 262.9,981.8 263.6,981.6 264.3,981.7 265.0,981.8 265.7,981.2 266.3,980.7 267.0,981.5 267.7,981.7 268.4,981.2 269.1,981.2 269.8,980.8 270.5,981.3 271.1,980.6 271.8,978.5 272.5,979.5 273.2,979.1 273.9,978.9 274.6,978.6 275.2,979.6 275.9,979.4 276.6,979.4 277.3,978.2 278.0,977.7 278.7,978.5 279.3,979.8 280.0,978.8 280.7,979.2 281.4,979.3 282.1,979.8 282.8,979.7 283.4,979.2 284.1,979.1 284.8,978.4 285.5,979.4 286.2,978.1 286.9,977.2 287.6,978.6 288.2,978.4 288.9,979.3 289.6,979.8 290.3,978.3 291.0,979.4 291.7,979.9 292.3,978.2 293.0,977.5 293.7,979.9 294.4,978.6 295.1,980.2 295.8,979.6 296.4,979.8 297.1,981.0 297.8,981.2 298.5,981.6 299.2,981.8 299.9,981.2 300.5,981.2 301.2,980.5 301.9,982.3 302.6,982.5 303.3,982.5 304.0,982.0 304.7,981.0 305.3,981.5 306.0,981.7 306.7,982.2 307.4,981.6 308.1,980.2 308.8,981.2 309.4,981.0 310.1,981.9 310.8,981.7 311.5,981.0 312.2,981.9 312.9,982.0 313.5,981.1 314.2,982.3 314.9,981.3 315.6,981.7 316.3,980.6 317.0,980.3 317.6,980.3 318.3,979.6 319.0,981.8 319.7,980.6 320.4,980.8 321.1,980.9 321.8,980.6 322.4,980.6 323.1,979.0 323.8,979.4 324.5,980.4 325.2,980.4 325.9,980.5 326.5,980.3 327.2,979.9 327.9,981.8 328.6,980.3 329.3,980.9 330.0,980.0 330.6,978.9 331.3,979.1 332.0,979.7 332.7,979.1 333.4,979.7 334.1,979.1 334.7,979.2 335.4,979.5 336.1,979.0 336.8,980.1 337.5,980.3 338.2,978.7 338.9,978.3 339.5,981.5 340.2,980.4 340.9,981.1 341.6,981.4 342.3,982.3 343.0,981.2 343.6,979.8 344.3,979.5 345.0,980.5 345.7,982.0 346.4,982.3 347.1,981.8 347.7,981.2 348.4,982.2 349.1,983.1 349.8,984.1 350.5,982.9 351.2,983.2 351.8,983.3 352.5,983.3 353.2,983.9 353.9,984.7 354.6,983.2 355.3,984.1 356.0,986.1 356.6,985.1 357.3,985.1 358.0,986.2 358.7,985.7 359.4,984.6 360.1,985.7 360.7,985.6 361.4,985.9 362.1,984.4 362.8,984.5 363.5,986.6 364.2,986.3 364.8,988.2 365.5,987.0 366.2,988.4 366.9,987.0 367.6,986.1 368.3,986.9 368.9,986.9 369.6,987.0 370.3,987.0 371.0,986.7 371.7,986.8 372.4,987.0 373.1,987.3 373.7,986.8 374.4,987.6 375.1,987.3 375.8,986.0 376.5,985.7 377.2,986.7 377.8,987.5 378.5,987.9 379.2,988.3 379.9,987.9 380.6,987.9 381.3,987.9 381.9,987.4 382.6,988.8 383.3,989.5 384.0,989.8 384.7,987.7 385.4,987.3 386.0,988.0 386.7,988.5 387.4,987.8 388.1,986.3 388.8,986.0 389.5,986.5 390.2,988.4 390.8,987.8 391.5,987.8 392.2,988.4 392.9,987.0 393.6,987.6 394.3,988.2 394.9,987.7 395.6,987.3 396.3,987.6 397.0,987.5 397.7,987.7 398.4,987.6 399.0,987.2 399.7,988.1 400.4,987.6 401.1,987.3 401.8,988.7 402.5,989.3 403.1,988.5 403.8,988.8 404.5,988.0 405.2,987.6 405.9,988.0 406.6,988.2 407.3,987.5 407.9,986.4 408.6,986.2 409.3,986.6 410.0,988.1 410.7,988.5 411.4,988.2 412.0,988.1 412.7,988.6 413.4,988.0 414.1,989.2 414.8,988.2 415.5,989.3 416.1,989.8 416.8,988.8 417.5,990.3 418.2,989.0 418.9,989.3 419.6,989.8 420.2,990.9 420.9,990.4 421.6,990.6 422.3,990.0 423.0,989.9 423.7,989.1 424.4,989.5 425.0,990.1 425.7,989.9 426.4,989.6 427.1,989.9 427.8,990.0 428.5,989.8 429.1,990.6 429.8,991.4 430.5,989.1 431.2,988.7 431.9,989.0 432.6,990.3 433.2,990.6 433.9,989.3 434.6,991.4 435.3,990.4 436.0,992.4 436.7,991.8 437.3,991.8 438.0,992.7 438.7,990.8 439.4,991.6 440.1,991.3 440.8,990.6 441.5,992.0 442.1,991.4 442.8,992.3 443.5,992.7 444.2,992.7 444.9,992.1 445.6,993.8 446.2,992.9 446.9,992.4 447.6,991.5 448.3,990.9 449.0,991.8 449.7,992.9 450.3,992.7 451.0,992.2 451.7,992.1 452.4,991.8 453.1,992.2 453.8,992.6 454.4,992.2 455.1,991.4 455.8,992.9 456.5,993.2 456.5,1019.9 455.8,1020.6 455.1,1019.1 454.4,1019.6 453.8,1020.5 453.1,1019.0 452.4,1018.4 451.7,1018.9 451.0,1019.5 450.3,1019.6 449.7,1019.8 449.0,1019.9 448.3,1019.1 447.6,1019.4 446.9,1020.9 446.2,1020.1 445.6,1020.6 444.9,1019.1 444.2,1020.5 443.5,1020.5 442.8,1019.4 442.1,1018.9 441.5,1018.9 440.8,1017.7 440.1,1018.5 439.4,1018.9 438.7,1017.7 438.0,1019.2 437.3,1019.3 436.7,1019.8 436.0,1019.1 435.3,1018.8 434.6,1018.8 433.9,1018.1 433.2,1018.5 432.6,1018.9 431.9,1019.0 431.2,1017.9 430.5,1018.6 429.8,1019.4 429.1,1018.7 428.5,1019.4 427.8,1018.1 427.1,1018.7 426.4,1017.6 425.7,1017.8 425.0,1017.8 424.4,1019.0 423.7,1018.0 423.0,1018.8 422.3,1017.8 421.6,1019.3 420.9,1020.8 420.2,1020.1 419.6,1019.1 418.9,1017.1 418.2,1018.8 417.5,1020.2 416.8,1018.0 416.1,1018.2 415.5,1017.8 414.8,1017.7 414.1,1018.0 413.4,1018.0 412.7,1017.6 412.0,1016.4 411.4,1016.7 410.7,1017.4 410.0,1016.6 409.3,1016.6 408.6,1015.8 407.9,1016.7 407.3,1018.4 406.6,1017.5 405.9,1018.1 405.2,1017.7 404.5,1018.5 403.8,1019.1 403.1,1019.3 402.5,1019.4 401.8,1018.8 401.1,1018.1 400.4,1017.9 399.7,1017.7 399.0,1017.0 398.4,1018.7 397.7,1017.9 397.0,1017.1 396.3,1016.7 395.6,1018.0 394.9,1018.4 394.3,1018.3 393.6,1017.0 392.9,1018.3 392.2,1018.7 391.5,1019.2 390.8,1018.6 390.2,1018.8 389.5,1018.2 388.8,1017.3 388.1,1018.8 387.4,1017.9 386.7,1019.2 386.0,1019.4 385.4,1020.0 384.7,1020.5 384.0,1020.5 383.3,1020.3 382.6,1019.1 381.9,1019.0 381.3,1019.4 380.6,1019.5 379.9,1020.1 379.2,1020.2 378.5,1019.5 377.8,1018.7 377.2,1018.6 376.5,1017.6 375.8,1018.3 375.1,1019.1 374.4,1018.5 373.7,1019.3 373.1,1020.8 372.4,1020.2 371.7,1020.3 371.0,1018.3 370.3,1018.9 369.6,1020.4 368.9,1020.7 368.3,1019.0 367.6,1019.4 366.9,1019.6 366.2,1019.4 365.5,1020.3 364.8,1020.1 364.2,1019.5 363.5,1019.2 362.8,1018.6 362.1,1016.9 361.4,1017.6 360.7,1018.4 360.1,1019.7 359.4,1019.0 358.7,1018.4 358.0,1017.9 357.3,1019.3 356.6,1019.4 356.0,1020.3 355.3,1018.7 354.6,1018.8 353.9,1017.8 353.2,1017.7 352.5,1017.1 351.8,1018.0 351.2,1016.8 350.5,1016.5 349.8,1017.5 349.1,1016.5 348.4,1015.7 347.7,1015.7 347.1,1016.1 346.4,1016.1 345.7,1017.0 345.0,1015.4 344.3,1015.3 343.6,1014.4 343.0,1016.4 342.3,1018.1 341.6,1017.0 340.9,1017.3 340.2,1016.8 339.5,1015.4 338.9,1015.7 338.2,1013.8 337.5,1015.3 336.8,1015.0 336.1,1015.5 335.4,1014.5 334.7,1015.4 334.1,1014.8 333.4,1015.4 332.7,1015.6 332.0,1014.9 331.3,1015.3 330.6,1016.0 330.0,1016.9 329.3,1018.5 328.6,1017.3 327.9,1017.8 327.2,1016.0 326.5,1017.2 325.9,1016.6 325.2,1017.2 324.5,1016.5 323.8,1016.4 323.1,1016.3 322.4,1016.8 321.8,1018.1 321.1,1018.6 320.4,1017.8 319.7,1018.8 319.0,1018.6 318.3,1019.8 317.6,1018.5 317.0,1020.1 316.3,1018.7 315.6,1019.6 314.9,1020.4 314.2,1020.8 313.5,1019.8 312.9,1019.1 312.2,1021.2 311.5,1020.5 310.8,1020.5 310.1,1020.4 309.4,1020.2 308.8,1021.3 308.1,1021.3 307.4,1021.3 306.7,1022.4 306.0,1021.6 305.3,1020.7 304.7,1021.2 304.0,1021.4 303.3,1022.4 302.6,1022.8 301.9,1022.0 301.2,1020.9 300.5,1021.8 299.9,1023.3 299.2,1022.5 298.5,1021.2 297.8,1021.2 297.1,1021.6 296.4,1022.9 295.8,1019.9 295.1,1020.1 294.4,1021.0 293.7,1019.8 293.0,1020.3 292.3,1020.3 291.7,1021.1 291.0,1022.1 290.3,1021.2 289.6,1021.7 288.9,1021.9 288.2,1021.2 287.6,1021.7 286.9,1023.2 286.2,1021.9 285.5,1021.7 284.8,1022.7 284.1,1021.7 283.4,1022.9 282.8,1023.5 282.1,1025.1 281.4,1025.0 280.7,1022.8 280.0,1022.7 279.3,1024.3 278.7,1024.7 278.0,1023.4 277.3,1023.5 276.6,1023.8 275.9,1023.9 275.2,1024.9 274.6,1025.7 273.9,1025.3 273.2,1025.4 272.5,1024.8 271.8,1026.1 271.1,1027.7 270.5,1026.7 269.8,1026.8 269.1,1028.0 268.4,1028.9 267.7,1029.3 267.0,1027.9 266.3,1028.3 265.7,1029.1 265.0,1028.5 264.3,1029.9 263.6,1028.5 262.9,1031.3 262.2,1031.6 261.6,1031.9 260.9,1030.9 260.2,1030.6 259.5,1031.2 258.8,1031.8 258.1,1032.5 257.5,1031.6 256.8,1032.3 256.1,1032.8 255.4,1032.3 254.7,1031.0 254.0,1031.3 253.4,1031.3 252.7,1031.5 252.0,1031.6 251.3,1033.4 250.6,1032.8 249.9,1031.9 249.2,1030.6 248.6,1032.4 247.9,1032.4 247.2,1032.7 246.5,1032.5 245.8,1032.6 245.1,1032.0 244.5,1030.9 243.8,1032.3 243.1,1030.6 242.4,1032.3 241.7,1031.7 241.0,1034.2 240.4,1032.2 239.7,1033.9 239.0,1036.2 238.3,1034.8 237.6,1033.4 236.9,1032.9 236.3,1035.4 235.6,1033.2 234.9,1033.7 234.2,1034.7 233.5,1036.2 232.8,1037.7 232.1,1037.4 231.5,1035.6 230.8,1036.3 230.1,1038.4 229.4,1037.3 228.7,1038.6 228.0,1036.5 227.4,1037.1 226.7,1038.0 226.0,1038.3 225.3,1037.0 224.6,1039.7 223.9,1038.9 223.3,1040.1 222.6,1037.0 221.9,1040.6 221.2,1041.6 220.5,1043.2 219.8,1043.4 219.2,1043.9 218.5,1043.5 217.8,1044.2 217.1,1043.1 216.4,1043.5 215.7,1045.5 215.0,1048.8 214.4,1047.4 213.7,1048.5 213.0,1049.8 212.3,1051.6 211.6,1049.1 210.9,1051.7 210.3,1050.4 209.6,1052.8 208.9,1056.5 208.2,1057.8 207.5,1053.4 206.8,1052.8 206.2,1055.5 205.5,1056.0 204.8,1056.8 204.1,1058.0 203.4,1057.4 202.7,1057.5 202.1,1058.4 201.4,1055.9 200.7,1052.8 200.0,1052.0 199.3,1056.0 198.6,1053.1 197.9,1053.2 197.3,1058.7 196.6,1059.9 195.9,1060.1 195.2,1061.9 194.5,1062.7 193.8,1061.2 193.2,1064.1 192.5,1068.3 191.8,1069.5 191.1,1068.1 190.4,1074.7 189.7,1075.4 189.1,1080.3 188.4,1081.2 187.7,1085.2 187.0,1095.1 186.3,1101.0 185.6,1102.1" fill="#f07171" fill-opacity="0.27"/><polygon points="185.6,1031.6 186.3,1030.4 187.0,1032.3 187.7,1031.4 188.4,1036.0 189.1,1036.1 189.7,1036.2 190.4,1039.4 191.1,1040.2 191.8,1042.5 192.5,1043.4 193.2,1047.4 193.8,1048.0 194.5,1049.0 195.2,1047.0 195.9,1048.9 196.6,1047.8 197.3,1047.5 197.9,1047.1 198.6,1048.6 199.3,1048.0 200.0,1048.3 200.7,1047.4 201.4,1048.5 202.1,1048.6 202.7,1048.6 203.4,1049.5 204.1,1048.0 204.8,1048.3 205.5,1048.8 206.2,1048.6 206.8,1048.5 207.5,1050.6 208.2,1049.0 208.9,1049.4 209.6,1049.2 210.3,1049.6 210.9,1049.1 211.6,1049.5 212.3,1050.8 213.0,1050.6 213.7,1049.4 214.4,1048.8 215.0,1050.3 215.7,1049.5 216.4,1050.4 217.1,1050.7 217.8,1050.2 218.5,1049.3 219.2,1049.7 219.8,1049.7 220.5,1050.0 221.2,1049.5 221.9,1049.4 222.6,1050.1 223.3,1050.1 223.9,1049.2 224.6,1049.1 225.3,1050.4 226.0,1049.9 226.7,1050.1 227.4,1049.9 228.0,1050.3 228.7,1050.5 229.4,1051.1 230.1,1051.1 230.8,1051.1 231.5,1050.7 232.1,1051.5 232.8,1051.5 233.5,1050.8 234.2,1051.7 234.9,1050.8 235.6,1050.2 236.3,1051.0 236.9,1050.9 237.6,1050.9 238.3,1051.1 239.0,1051.1 239.7,1052.0 240.4,1051.7 241.0,1051.9 241.7,1051.6 242.4,1052.1 243.1,1052.3 243.8,1051.5 244.5,1052.4 245.1,1052.3 245.8,1052.3 246.5,1052.7 247.2,1052.6 247.9,1053.3 248.6,1052.8 249.2,1053.3 249.9,1054.2 250.6,1053.5 251.3,1053.1 252.0,1053.1 252.7,1053.8 253.4,1053.1 254.0,1052.7 254.7,1053.1 255.4,1054.0 256.1,1053.8 256.8,1054.2 257.5,1054.4 258.1,1055.4 258.8,1055.3 259.5,1055.8 260.2,1055.5 260.9,1055.4 261.6,1056.2 262.2,1056.4 262.9,1055.5 263.6,1055.7 264.3,1056.0 265.0,1056.4 265.7,1056.6 266.3,1056.3 267.0,1056.8 267.7,1056.9 268.4,1056.2 269.1,1056.5 269.8,1056.7 270.5,1056.5 271.1,1056.5 271.8,1056.4 272.5,1056.9 273.2,1055.7 273.9,1056.1 274.6,1056.8 275.2,1055.9 275.9,1056.1 276.6,1055.6 277.3,1056.5 278.0,1056.8 278.7,1056.4 279.3,1056.2 280.0,1055.5 280.7,1056.2 281.4,1056.4 282.1,1056.9 282.8,1057.1 283.4,1057.0 284.1,1056.9 284.8,1056.5 285.5,1056.9 286.2,1056.0 286.9,1057.3 287.6,1056.5 288.2,1056.4 288.9,1057.2 289.6,1056.4 290.3,1056.6 291.0,1056.8 291.7,1056.2 292.3,1056.7 293.0,1056.8 293.7,1056.1 294.4,1057.0 295.1,1056.7 295.8,1057.1 296.4,1056.4 297.1,1056.2 297.8,1056.4 298.5,1056.3 299.2,1056.2 299.9,1056.2 300.5,1056.2 301.2,1056.4 301.9,1056.3 302.6,1056.8 303.3,1056.5 304.0,1056.7 304.7,1056.7 305.3,1055.3 306.0,1055.8 306.7,1056.5 307.4,1055.8 308.1,1056.4 308.8,1057.2 309.4,1056.3 310.1,1056.4 310.8,1056.3 311.5,1056.7 312.2,1056.6 312.9,1056.0 313.5,1056.4 314.2,1056.4 314.9,1056.7 315.6,1057.1 316.3,1056.7 317.0,1056.9 317.6,1057.1 318.3,1057.0 319.0,1056.7 319.7,1057.4 320.4,1057.6 321.1,1057.2 321.8,1056.7 322.4,1056.3 323.1,1057.5 323.8,1057.6 324.5,1057.3 325.2,1057.8 325.9,1057.9 326.5,1057.6 327.2,1057.3 327.9,1056.9 328.6,1057.6 329.3,1058.0 330.0,1057.4 330.6,1057.8 331.3,1057.5 332.0,1058.1 332.7,1057.5 333.4,1057.5 334.1,1057.7 334.7,1057.8 335.4,1057.4 336.1,1057.4 336.8,1057.0 337.5,1057.1 338.2,1057.9 338.9,1058.0 339.5,1057.3 340.2,1057.5 340.9,1057.7 341.6,1057.3 342.3,1057.3 343.0,1057.9 343.6,1057.9 344.3,1057.9 345.0,1057.8 345.7,1057.3 346.4,1057.0 347.1,1057.5 347.7,1057.1 348.4,1057.3 349.1,1057.1 349.8,1056.9 350.5,1057.0 351.2,1057.4 351.8,1057.0 352.5,1056.9 353.2,1057.4 353.9,1057.0 354.6,1057.6 355.3,1056.8 356.0,1057.3 356.6,1057.6 357.3,1057.7 358.0,1057.5 358.7,1057.2 359.4,1056.7 360.1,1057.3 360.7,1057.5 361.4,1057.8 362.1,1057.2 362.8,1057.4 363.5,1057.1 364.2,1057.5 364.8,1058.2 365.5,1057.7 366.2,1057.9 366.9,1057.7 367.6,1057.5 368.3,1057.4 368.9,1057.3 369.6,1057.4 370.3,1057.9 371.0,1058.0 371.7,1058.2 372.4,1057.4 373.1,1057.5 373.7,1057.8 374.4,1057.6 375.1,1057.8 375.8,1058.2 376.5,1058.2 377.2,1058.2 377.8,1057.9 378.5,1058.8 379.2,1058.8 379.9,1058.1 380.6,1058.1 381.3,1059.1 381.9,1058.3 382.6,1059.4 383.3,1059.0 384.0,1058.5 384.7,1057.9 385.4,1058.0 386.0,1058.3 386.7,1059.1 387.4,1058.3 388.1,1058.9 388.8,1059.1 389.5,1059.2 390.2,1059.3 390.8,1059.0 391.5,1058.5 392.2,1058.1 392.9,1058.8 393.6,1058.5 394.3,1058.4 394.9,1058.8 395.6,1059.3 396.3,1058.7 397.0,1058.2 397.7,1057.9 398.4,1058.5 399.0,1058.9 399.7,1058.8 400.4,1059.0 401.1,1058.9 401.8,1058.2 402.5,1059.1 403.1,1058.3 403.8,1058.9 404.5,1059.2 405.2,1059.1 405.9,1059.5 406.6,1059.1 407.3,1058.9 407.9,1058.4 408.6,1059.0 409.3,1058.5 410.0,1058.5 410.7,1059.3 411.4,1058.6 412.0,1059.2 412.7,1059.4 413.4,1059.6 414.1,1059.2 414.8,1059.4 415.5,1059.1 416.1,1059.8 416.8,1059.1 417.5,1058.9 418.2,1058.8 418.9,1058.8 419.6,1059.2 420.2,1058.4 420.9,1058.3 421.6,1058.7 422.3,1058.9 423.0,1058.6 423.7,1058.8 424.4,1058.8 425.0,1059.4 425.7,1058.5 426.4,1059.4 427.1,1059.5 427.8,1059.4 428.5,1059.3 429.1,1058.9 429.8,1059.2 430.5,1059.3 431.2,1059.3 431.9,1059.4 432.6,1059.5 433.2,1058.9 433.9,1059.1 434.6,1060.0 435.3,1059.7 436.0,1059.6 436.7,1059.5 437.3,1059.5 438.0,1059.5 438.7,1059.3 439.4,1059.7 440.1,1059.8 440.8,1059.9 441.5,1058.9 442.1,1059.5 442.8,1058.7 443.5,1059.1 444.2,1059.4 444.9,1059.6 445.6,1059.8 446.2,1059.1 446.9,1059.7 447.6,1059.8 448.3,1059.8 449.0,1060.1 449.7,1060.2 450.3,1060.1 451.0,1059.8 451.7,1060.4 452.4,1060.3 453.1,1059.5 453.8,1060.0 454.4,1060.0 455.1,1059.8 455.8,1060.1 456.5,1059.9 456.5,1072.2 455.8,1072.5 455.1,1072.4 454.4,1072.1 453.8,1072.7 453.1,1072.5 452.4,1072.8 451.7,1072.7 451.0,1072.5 450.3,1072.4 449.7,1072.4 449.0,1072.5 448.3,1072.2 447.6,1072.6 446.9,1072.5 446.2,1072.3 445.6,1072.0 444.9,1072.3 444.2,1071.9 443.5,1072.3 442.8,1071.9 442.1,1071.8 441.5,1071.7 440.8,1071.9 440.1,1072.3 439.4,1072.9 438.7,1072.4 438.0,1072.3 437.3,1072.5 436.7,1072.7 436.0,1072.9 435.3,1073.3 434.6,1072.3 433.9,1072.8 433.2,1072.2 432.6,1072.7 431.9,1072.6 431.2,1073.0 430.5,1072.6 429.8,1072.0 429.1,1072.5 428.5,1072.5 427.8,1072.8 427.1,1072.4 426.4,1072.7 425.7,1072.2 425.0,1072.8 424.4,1072.6 423.7,1072.9 423.0,1072.6 422.3,1072.5 421.6,1072.4 420.9,1072.5 420.2,1072.5 419.6,1072.2 418.9,1072.1 418.2,1072.1 417.5,1072.5 416.8,1072.2 416.1,1072.5 415.5,1072.9 414.8,1072.4 414.1,1073.3 413.4,1072.8 412.7,1072.2 412.0,1072.6 411.4,1072.7 410.7,1072.7 410.0,1072.7 409.3,1072.4 408.6,1072.3 407.9,1072.4 407.3,1072.6 406.6,1072.8 405.9,1073.5 405.2,1073.3 404.5,1073.4 403.8,1073.2 403.1,1072.9 402.5,1072.4 401.8,1072.6 401.1,1072.6 400.4,1072.9 399.7,1073.0 399.0,1072.3 398.4,1073.0 397.7,1072.3 397.0,1073.0 396.3,1072.9 395.6,1072.3 394.9,1072.7 394.3,1072.5 393.6,1073.0 392.9,1072.6 392.2,1072.7 391.5,1072.9 390.8,1073.0 390.2,1073.3 389.5,1072.9 388.8,1073.7 388.1,1073.7 387.4,1073.3 386.7,1072.9 386.0,1072.8 385.4,1073.1 384.7,1072.9 384.0,1072.9 383.3,1072.7 382.6,1073.0 381.9,1073.9 381.3,1073.3 380.6,1073.1 379.9,1072.7 379.2,1073.0 378.5,1073.2 377.8,1073.3 377.2,1073.2 376.5,1072.6 375.8,1072.4 375.1,1073.0 374.4,1072.5 373.7,1072.7 373.1,1072.7 372.4,1072.5 371.7,1073.0 371.0,1072.9 370.3,1073.2 369.6,1072.9 368.9,1073.3 368.3,1072.4 367.6,1073.0 366.9,1072.8 366.2,1073.1 365.5,1073.1 364.8,1073.1 364.2,1072.5 363.5,1072.5 362.8,1072.8 362.1,1072.2 361.4,1072.8 360.7,1072.6 360.1,1073.6 359.4,1073.2 358.7,1072.7 358.0,1073.1 357.3,1073.1 356.6,1073.5 356.0,1072.8 355.3,1073.8 354.6,1072.1 353.9,1072.7 353.2,1072.4 352.5,1072.8 351.8,1073.2 351.2,1073.4 350.5,1072.9 349.8,1073.1 349.1,1073.4 348.4,1073.0 347.7,1073.0 347.1,1072.5 346.4,1073.1 345.7,1073.2 345.0,1073.7 344.3,1073.8 343.6,1074.2 343.0,1074.5 342.3,1074.0 341.6,1074.0 340.9,1074.5 340.2,1073.9 339.5,1074.3 338.9,1074.5 338.2,1074.7 337.5,1074.1 336.8,1074.7 336.1,1074.7 335.4,1074.4 334.7,1073.9 334.1,1074.2 333.4,1074.1 332.7,1074.6 332.0,1074.5 331.3,1075.3 330.6,1074.5 330.0,1074.6 329.3,1074.1 328.6,1074.6 327.9,1074.0 327.2,1074.3 326.5,1075.1 325.9,1074.9 325.2,1074.9 324.5,1074.1 323.8,1074.4 323.1,1075.1 322.4,1075.0 321.8,1074.3 321.1,1074.5 320.4,1074.9 319.7,1074.2 319.0,1074.6 318.3,1074.3 317.6,1074.8 317.0,1074.6 316.3,1075.4 315.6,1075.3 314.9,1074.4 314.2,1074.2 313.5,1074.3 312.9,1074.9 312.2,1074.1 311.5,1074.7 310.8,1075.0 310.1,1075.0 309.4,1074.5 308.8,1075.3 308.1,1074.1 307.4,1074.4 306.7,1075.4 306.0,1074.9 305.3,1075.2 304.7,1075.0 304.0,1075.4 303.3,1074.9 302.6,1075.7 301.9,1075.4 301.2,1075.4 300.5,1075.6 299.9,1074.9 299.2,1075.2 298.5,1075.3 297.8,1074.9 297.1,1075.0 296.4,1075.9 295.8,1075.7 295.1,1076.0 294.4,1076.4 293.7,1076.5 293.0,1075.9 292.3,1076.2 291.7,1076.3 291.0,1076.2 290.3,1076.3 289.6,1076.7 288.9,1076.5 288.2,1076.8 287.6,1076.8 286.9,1076.3 286.2,1077.5 285.5,1077.0 284.8,1076.8 284.1,1077.4 283.4,1077.7 282.8,1077.0 282.1,1077.2 281.4,1076.3 280.7,1076.9 280.0,1077.7 279.3,1077.3 278.7,1077.4 278.0,1077.5 277.3,1077.3 276.6,1077.9 275.9,1077.5 275.2,1077.3 274.6,1077.5 273.9,1077.4 273.2,1078.1 272.5,1078.7 271.8,1078.2 271.1,1078.0 270.5,1078.3 269.8,1077.8 269.1,1078.5 268.4,1078.7 267.7,1078.2 267.0,1079.1 266.3,1078.3 265.7,1078.5 265.0,1079.0 264.3,1078.7 263.6,1078.1 262.9,1078.8 262.2,1078.3 261.6,1078.1 260.9,1079.2 260.2,1078.1 259.5,1078.2 258.8,1079.1 258.1,1077.9 257.5,1078.5 256.8,1078.4 256.1,1078.5 255.4,1078.0 254.7,1079.0 254.0,1078.7 253.4,1078.2 252.7,1077.4 252.0,1078.1 251.3,1077.9 250.6,1077.2 249.9,1077.1 249.2,1078.3 248.6,1077.8 247.9,1077.6 247.2,1078.1 246.5,1077.6 245.8,1078.1 245.1,1078.0 244.5,1077.7 243.8,1078.2 243.1,1077.4 242.4,1077.7 241.7,1077.6 241.0,1078.0 240.4,1078.9 239.7,1079.3 239.0,1079.1 238.3,1078.5 237.6,1078.1 236.9,1078.4 236.3,1078.7 235.6,1080.2 234.9,1078.5 234.2,1078.2 233.5,1079.6 232.8,1079.8 232.1,1080.0 231.5,1080.0 230.8,1080.2 230.1,1080.0 229.4,1079.7 228.7,1081.1 228.0,1081.3 227.4,1081.1 226.7,1080.8 226.0,1080.6 225.3,1080.3 224.6,1081.8 223.9,1081.9 223.3,1081.2 222.6,1081.6 221.9,1081.7 221.2,1081.7 220.5,1081.7 219.8,1082.1 219.2,1082.8 218.5,1084.4 217.8,1083.1 217.1,1083.4 216.4,1083.4 215.7,1085.0 215.0,1084.3 214.4,1085.9 213.7,1085.5 213.0,1085.3 212.3,1084.5 211.6,1086.1 210.9,1087.7 210.3,1086.9 209.6,1087.4 208.9,1087.5 208.2,1088.5 207.5,1087.2 206.8,1089.8 206.2,1089.7 205.5,1090.1 204.8,1090.9 204.1,1091.6 203.4,1091.0 202.7,1092.0 202.1,1092.4 201.4,1093.6 200.7,1094.9 200.0,1094.8 199.3,1096.9 198.6,1096.0 197.9,1098.3 197.3,1098.7 196.6,1099.4 195.9,1100.1 195.2,1101.5 194.5,1100.5 193.8,1102.0 193.2,1102.8 192.5,1104.3 191.8,1103.3 191.1,1102.4 190.4,1101.4 189.7,1105.8 189.1,1106.3 188.4,1107.0 187.7,1108.4 187.0,1104.2 186.3,1102.6 185.6,1105.9" fill="#7fa6d9" fill-opacity="0.22"/><polyline points="183.6,1019.6 184.3,1019.2 185.0,1017.4 185.6,1022.6 186.3,1027.2 187.0,1021.4 187.7,1016.0 188.4,1014.2 189.1,1013.2 189.7,1012.1 190.4,1011.6 191.1,1010.3 191.8,1009.4 192.5,1009.3 193.2,1007.2 193.8,1006.3 194.5,1006.5 195.2,1006.6 195.9,1007.2 196.6,1007.0 197.3,1006.1 197.9,1005.5 198.6,1006.6 199.3,1008.1 200.0,1011.1 200.7,1013.0 201.4,1015.8 202.1,1018.5 202.7,1019.6 203.4,1018.7 204.1,1019.9 204.8,1020.1 205.5,1019.4 206.2,1018.0 206.8,1017.6 207.5,1016.9 208.2,1016.9 208.9,1016.1 209.6,1013.6 210.3,1013.8 210.9,1012.9 211.6,1012.3 212.3,1012.5 213.0,1011.4 213.7,1011.2 214.4,1010.4 215.0,1009.6 215.7,1009.0 216.4,1008.8 217.1,1008.2 217.8,1007.5 218.5,1007.7 219.2,1008.2 219.8,1008.9 220.5,1007.7 221.2,1006.4 221.9,1006.7 222.6,1005.4 223.3,1006.6 223.9,1005.9 224.6,1005.7 225.3,1006.0 226.0,1007.0 226.7,1006.4 227.4,1004.8 228.0,1005.3 228.7,1006.4 229.4,1005.9 230.1,1006.7 230.8,1006.7 231.5,1006.7 232.1,1006.4 232.8,1007.2 233.5,1005.7 234.2,1004.5 234.9,1004.2 235.6,1003.3 236.3,1004.7 236.9,1004.4 237.6,1004.4 238.3,1005.3 239.0,1005.6 239.7,1004.9 240.4,1003.9 241.0,1005.7 241.7,1004.6 242.4,1004.7 243.1,1003.6 243.8,1003.4 244.5,1004.9 245.1,1005.1 245.8,1005.0 246.5,1005.4 247.2,1005.8 247.9,1005.7 248.6,1005.4 249.2,1005.3 249.9,1006.2 250.6,1006.7 251.3,1006.9 252.0,1005.6 252.7,1004.9 253.4,1005.7 254.0,1005.7 254.7,1005.3 255.4,1006.2 256.1,1007.2 256.8,1006.5 257.5,1006.5 258.1,1007.4 258.8,1007.3 259.5,1006.5 260.2,1005.2 260.9,1005.7 261.6,1007.0 262.2,1007.5 262.9,1006.5 263.6,1005.0 264.3,1005.8 265.0,1005.1 265.7,1005.2 266.3,1004.5 267.0,1004.7 267.7,1005.5 268.4,1005.0 269.1,1004.6 269.8,1003.8 270.5,1004.0 271.1,1004.1 271.8,1002.3 272.5,1002.1 273.2,1002.2 273.9,1002.1 274.6,1002.1 275.2,1002.2 275.9,1001.6 276.6,1001.6 277.3,1000.8 278.0,1000.5 278.7,1001.6 279.3,1002.0 280.0,1000.8 280.7,1001.0 281.4,1002.1 282.1,1002.4 282.8,1001.6 283.4,1001.0 284.1,1000.4 284.8,1000.6 285.5,1000.5 286.2,1000.0 286.9,1000.2 287.6,1000.1 288.2,999.8 288.9,1000.6 289.6,1000.7 290.3,999.8 291.0,1000.7 291.7,1000.5 292.3,999.2 293.0,998.9 293.7,999.8 294.4,999.8 295.1,1000.1 295.8,999.8 296.4,1001.4 297.1,1001.3 297.8,1001.2 298.5,1001.4 299.2,1002.1 299.9,1002.2 300.5,1001.5 301.2,1000.7 301.9,1002.2 302.6,1002.6 303.3,1002.5 304.0,1001.7 304.7,1001.1 305.3,1001.1 306.0,1001.7 306.7,1002.3 307.4,1001.4 308.1,1000.7 308.8,1001.2 309.4,1000.6 310.1,1001.2 310.8,1001.1 311.5,1000.7 312.2,1001.6 312.9,1000.5 313.5,1000.4 314.2,1001.5 314.9,1000.8 315.6,1000.7 316.3,999.7 317.0,1000.2 317.6,999.4 318.3,999.7 319.0,1000.2 319.7,999.7 320.4,999.3 321.1,999.8 321.8,999.4 322.4,998.7 323.1,997.7 323.8,997.9 324.5,998.5 325.2,998.8 325.9,998.6 326.5,998.7 327.2,998.0 327.9,999.8 328.6,998.8 329.3,999.7 330.0,998.5 330.6,997.4 331.3,997.2 332.0,997.3 332.7,997.4 333.4,997.5 334.1,996.9 334.7,997.3 335.4,997.0 336.1,997.2 336.8,997.5 337.5,997.8 338.2,996.3 338.9,997.0 339.5,998.4 340.2,998.6 340.9,999.2 341.6,999.2 342.3,1000.2 343.0,998.8 343.6,997.1 344.3,997.4 345.0,998.0 345.7,999.5 346.4,999.2 347.1,998.9 347.7,998.5 348.4,999.0 349.1,999.8 349.8,1000.8 350.5,999.7 351.2,1000.0 351.8,1000.6 352.5,1000.2 353.2,1000.8 353.9,1001.2 354.6,1001.0 355.3,1001.4 356.0,1003.2 356.6,1002.2 357.3,1002.2 358.0,1002.0 358.7,1002.0 359.4,1001.8 360.1,1002.7 360.7,1002.0 361.4,1001.8 362.1,1000.7 362.8,1001.6 363.5,1002.9 364.2,1002.9 364.8,1004.1 365.5,1003.6 366.2,1003.9 366.9,1003.3 367.6,1002.8 368.3,1003.0 368.9,1003.8 369.6,1003.7 370.3,1003.0 371.0,1002.5 371.7,1003.5 372.4,1003.6 373.1,1004.0 373.7,1003.0 374.4,1003.1 375.1,1003.2 375.8,1002.2 376.5,1001.7 377.2,1002.7 377.8,1003.1 378.5,1003.7 379.2,1004.3 379.9,1004.0 380.6,1003.7 381.3,1003.7 381.9,1003.2 382.6,1004.0 383.3,1004.9 384.0,1005.1 384.7,1004.1 385.4,1003.7 386.0,1003.7 386.7,1003.9 387.4,1002.9 388.1,1002.6 388.8,1001.7 389.5,1002.4 390.2,1003.6 390.8,1003.2 391.5,1003.5 392.2,1003.6 392.9,1002.7 393.6,1002.3 394.3,1003.3 394.9,1003.0 395.6,1002.6 396.3,1002.1 397.0,1002.3 397.7,1002.8 398.4,1003.1 399.0,1002.1 399.7,1002.9 400.4,1002.7 401.1,1002.7 401.8,1003.7 402.5,1004.3 403.1,1003.9 403.8,1003.9 404.5,1003.2 405.2,1002.7 405.9,1003.1 406.6,1002.9 407.3,1003.0 407.9,1001.5 408.6,1001.0 409.3,1001.6 410.0,1002.4 410.7,1002.9 411.4,1002.4 412.0,1002.2 412.7,1003.1 413.4,1003.0 414.1,1003.6 414.8,1003.0 415.5,1003.5 416.1,1004.0 416.8,1003.4 417.5,1005.2 418.2,1003.9 418.9,1003.2 419.6,1004.4 420.2,1005.5 420.9,1005.6 421.6,1005.0 422.3,1003.9 423.0,1004.3 423.7,1003.5 424.4,1004.2 425.0,1003.9 425.7,1003.9 426.4,1003.6 427.1,1004.3 427.8,1004.1 428.5,1004.6 429.1,1004.6 429.8,1005.4 430.5,1003.8 431.2,1003.3 431.9,1004.0 432.6,1004.6 433.2,1004.5 433.9,1003.7 434.6,1005.1 435.3,1004.6 436.0,1005.7 436.7,1005.8 437.3,1005.5 438.0,1006.0 438.7,1004.3 439.4,1005.2 440.1,1004.9 440.8,1004.1 441.5,1005.5 442.1,1005.2 442.8,1005.8 443.5,1006.6 444.2,1006.6 444.9,1005.6 445.6,1007.2 446.2,1006.5 446.9,1006.7 447.6,1005.5 448.3,1005.0 449.0,1005.9 449.7,1006.3 450.3,1006.1 451.0,1005.8 451.7,1005.5 452.4,1005.1 453.1,1005.6 453.8,1006.6 454.4,1005.9 455.1,1005.2 455.8,1006.8 456.5,1006.6" fill="none" stroke="#f07171" stroke-width="1.3"/><polyline points="183.6,1075.2 184.3,1073.5 185.0,1071.7 185.6,1068.8 186.3,1066.5 187.0,1068.2 187.7,1069.9 188.4,1071.5 189.1,1071.2 189.7,1071.0 190.4,1070.4 191.1,1071.3 191.8,1072.9 192.5,1073.9 193.2,1075.1 193.8,1075.0 194.5,1074.7 195.2,1074.3 195.9,1074.5 196.6,1073.6 197.3,1073.1 197.9,1072.7 198.6,1072.3 199.3,1072.5 200.0,1071.6 200.7,1071.2 201.4,1071.1 202.1,1070.5 202.7,1070.3 203.4,1070.3 204.1,1069.8 204.8,1069.6 205.5,1069.4 206.2,1069.2 206.8,1069.2 207.5,1068.9 208.2,1068.7 208.9,1068.4 209.6,1068.3 210.3,1068.2 210.9,1068.4 211.6,1067.8 212.3,1067.6 213.0,1068.0 213.7,1067.4 214.4,1067.3 215.0,1067.3 215.7,1067.3 216.4,1066.9 217.1,1067.1 217.8,1066.7 218.5,1066.9 219.2,1066.2 219.8,1065.9 220.5,1065.9 221.2,1065.6 221.9,1065.6 222.6,1065.8 223.3,1065.7 223.9,1065.6 224.6,1065.4 225.3,1065.4 226.0,1065.3 226.7,1065.5 227.4,1065.5 228.0,1065.8 228.7,1065.8 229.4,1065.4 230.1,1065.5 230.8,1065.6 231.5,1065.3 232.1,1065.7 232.8,1065.7 233.5,1065.2 234.2,1065.0 234.9,1064.6 235.6,1065.2 236.3,1064.9 236.9,1064.6 237.6,1064.5 238.3,1064.8 239.0,1065.1 239.7,1065.7 240.4,1065.3 241.0,1064.9 241.7,1064.6 242.4,1064.9 243.1,1064.8 243.8,1064.8 244.5,1065.0 245.1,1065.1 245.8,1065.2 246.5,1065.2 247.2,1065.4 247.9,1065.5 248.6,1065.3 249.2,1065.8 249.9,1065.6 250.6,1065.3 251.3,1065.5 252.0,1065.6 252.7,1065.6 253.4,1065.7 254.0,1065.7 254.7,1066.1 255.4,1066.0 256.1,1066.2 256.8,1066.3 257.5,1066.4 258.1,1066.7 258.8,1067.2 259.5,1067.0 260.2,1066.8 260.9,1067.3 261.6,1067.1 262.2,1067.4 262.9,1067.2 263.6,1066.9 264.3,1067.3 265.0,1067.7 265.7,1067.5 266.3,1067.3 267.0,1067.9 267.7,1067.5 268.4,1067.4 269.1,1067.5 269.8,1067.3 270.5,1067.4 271.1,1067.2 271.8,1067.3 272.5,1067.8 273.2,1066.9 273.9,1066.7 274.6,1067.2 275.2,1066.6 275.9,1066.8 276.6,1066.8 277.3,1066.9 278.0,1067.1 278.7,1066.9 279.3,1066.7 280.0,1066.6 280.7,1066.6 281.4,1066.3 282.1,1067.0 282.8,1067.1 283.4,1067.3 284.1,1067.2 284.8,1066.7 285.5,1066.9 286.2,1066.8 286.9,1066.8 287.6,1066.7 288.2,1066.6 288.9,1066.8 289.6,1066.5 290.3,1066.5 291.0,1066.5 291.7,1066.3 292.3,1066.5 293.0,1066.3 293.7,1066.3 294.4,1066.7 295.1,1066.4 295.8,1066.4 296.4,1066.2 297.1,1065.6 297.8,1065.7 298.5,1065.8 299.2,1065.7 299.9,1065.5 300.5,1065.9 301.2,1065.9 301.9,1065.8 302.6,1066.2 303.3,1065.7 304.0,1066.0 304.7,1065.8 305.3,1065.3 306.0,1065.4 306.7,1066.0 307.4,1065.1 308.1,1065.3 308.8,1066.3 309.4,1065.4 310.1,1065.7 310.8,1065.7 311.5,1065.7 312.2,1065.3 312.9,1065.4 313.5,1065.4 314.2,1065.3 314.9,1065.5 315.6,1066.2 316.3,1066.1 317.0,1065.8 317.6,1066.0 318.3,1065.6 319.0,1065.6 319.7,1065.8 320.4,1066.2 321.1,1065.9 321.8,1065.5 322.4,1065.7 323.1,1066.3 323.8,1066.0 324.5,1065.7 325.2,1066.3 325.9,1066.4 326.5,1066.4 327.2,1065.8 327.9,1065.5 328.6,1066.1 329.3,1066.0 330.0,1066.0 330.6,1066.2 331.3,1066.4 332.0,1066.3 332.7,1066.0 333.4,1065.8 334.1,1065.9 334.7,1065.9 335.4,1065.9 336.1,1066.0 336.8,1065.9 337.5,1065.6 338.2,1066.3 338.9,1066.2 339.5,1065.8 340.2,1065.7 340.9,1066.1 341.6,1065.6 342.3,1065.7 343.0,1066.2 343.6,1066.1 344.3,1065.8 345.0,1065.7 345.7,1065.3 346.4,1065.0 347.1,1065.0 347.7,1065.0 348.4,1065.2 349.1,1065.3 349.8,1065.0 350.5,1064.9 351.2,1065.4 351.8,1065.1 352.5,1064.8 353.2,1064.9 353.9,1064.8 354.6,1064.9 355.3,1065.3 356.0,1065.1 356.6,1065.5 357.3,1065.4 358.0,1065.3 358.7,1065.0 359.4,1064.9 360.1,1065.4 360.7,1065.0 361.4,1065.3 362.1,1064.7 362.8,1065.1 363.5,1064.8 364.2,1065.0 364.8,1065.6 365.5,1065.4 366.2,1065.5 366.9,1065.2 367.6,1065.2 368.3,1064.9 368.9,1065.3 369.6,1065.2 370.3,1065.6 371.0,1065.4 371.7,1065.6 372.4,1065.0 373.1,1065.1 373.7,1065.2 374.4,1065.0 375.1,1065.4 375.8,1065.3 376.5,1065.4 377.2,1065.7 377.8,1065.6 378.5,1066.0 379.2,1065.9 379.9,1065.4 380.6,1065.6 381.3,1066.2 381.9,1066.1 382.6,1066.2 383.3,1065.9 384.0,1065.7 384.7,1065.4 385.4,1065.5 386.0,1065.6 386.7,1066.0 387.4,1065.8 388.1,1066.3 388.8,1066.4 389.5,1066.1 390.2,1066.3 390.8,1066.0 391.5,1065.7 392.2,1065.4 392.9,1065.7 393.6,1065.7 394.3,1065.5 394.9,1065.7 395.6,1065.8 396.3,1065.8 397.0,1065.6 397.7,1065.1 398.4,1065.8 399.0,1065.6 399.7,1065.9 400.4,1065.9 401.1,1065.7 401.8,1065.4 402.5,1065.7 403.1,1065.6 403.8,1066.1 404.5,1066.3 405.2,1066.2 405.9,1066.5 406.6,1065.9 407.3,1065.8 407.9,1065.4 408.6,1065.7 409.3,1065.4 410.0,1065.6 410.7,1066.0 411.4,1065.7 412.0,1065.9 412.7,1065.8 413.4,1066.2 414.1,1066.2 414.8,1065.9 415.5,1066.0 416.1,1066.1 416.8,1065.7 417.5,1065.7 418.2,1065.4 418.9,1065.5 419.6,1065.7 420.2,1065.5 420.9,1065.4 421.6,1065.6 422.3,1065.7 423.0,1065.6 423.7,1065.8 424.4,1065.7 425.0,1066.1 425.7,1065.4 426.4,1066.0 427.1,1066.0 427.8,1066.1 428.5,1065.9 429.1,1065.7 429.8,1065.6 430.5,1065.9 431.2,1066.1 431.9,1066.0 432.6,1066.1 433.2,1065.6 433.9,1066.0 434.6,1066.2 435.3,1066.5 436.0,1066.2 436.7,1066.1 437.3,1066.0 438.0,1065.9 438.7,1065.9 439.4,1066.3 440.1,1066.1 440.8,1065.9 441.5,1065.3 442.1,1065.6 442.8,1065.3 443.5,1065.7 444.2,1065.6 444.9,1066.0 445.6,1065.9 446.2,1065.7 446.9,1066.1 447.6,1066.2 448.3,1066.0 449.0,1066.3 449.7,1066.3 450.3,1066.2 451.0,1066.2 451.7,1066.5 452.4,1066.6 453.1,1066.0 453.8,1066.4 454.4,1066.1 455.1,1066.1 455.8,1066.3 456.5,1066.0" fill="none" stroke="#7fa6d9" stroke-width="1.3"/><rect x="170.4" y="934.5" width="299.6" height="175.6" fill="none" stroke="#333" stroke-width="1"/><line x1="167.4" y1="1103.2" x2="170.4" y2="1103.2" stroke="#333" stroke-width="0.9" /><text x="164.9" y="1105.8" font-size="7.6" text-anchor="end" fill="#222" >0.0</text><line x1="167.4" y1="1068.3" x2="170.4" y2="1068.3" stroke="#333" stroke-width="0.9" /><text x="164.9" y="1070.9" font-size="7.6" text-anchor="end" fill="#222" >0.1</text><line x1="167.4" y1="1033.4" x2="170.4" y2="1033.4" stroke="#333" stroke-width="0.9" /><text x="164.9" y="1036.0" font-size="7.6" text-anchor="end" fill="#222" >0.2</text><line x1="167.4" y1="998.5" x2="170.4" y2="998.5" stroke="#333" stroke-width="0.9" /><text x="164.9" y="1001.1" font-size="7.6" text-anchor="end" fill="#222" >0.3</text><line x1="167.4" y1="963.6" x2="170.4" y2="963.6" stroke="#333" stroke-width="0.9" /><text x="164.9" y="966.2" font-size="7.6" text-anchor="end" fill="#222" >0.4</text><line x1="182.9" y1="1110.1" x2="182.9" y2="1113.1" stroke="#333" stroke-width="0.9" /><text x="182.9" y="1121.5" font-size="7.6" text-anchor="middle" fill="#222" >0</text><line x1="217.1" y1="1110.1" x2="217.1" y2="1113.1" stroke="#333" stroke-width="0.9" /><text x="217.1" y="1121.5" font-size="7.6" text-anchor="middle" fill="#222" >50</text><line x1="251.3" y1="1110.1" x2="251.3" y2="1113.1" stroke="#333" stroke-width="0.9" /><text x="251.3" y="1121.5" font-size="7.6" text-anchor="middle" fill="#222" >100</text><line x1="285.5" y1="1110.1" x2="285.5" y2="1113.1" stroke="#333" stroke-width="0.9" /><text x="285.5" y="1121.5" font-size="7.6" text-anchor="middle" fill="#222" >150</text><line x1="319.7" y1="1110.1" x2="319.7" y2="1113.1" stroke="#333" stroke-width="0.9" /><text x="319.7" y="1121.5" font-size="7.6" text-anchor="middle" fill="#222" >200</text><line x1="353.9" y1="1110.1" x2="353.9" y2="1113.1" stroke="#333" stroke-width="0.9" /><text x="353.9" y="1121.5" font-size="7.6" text-anchor="middle" fill="#222" >250</text><line x1="388.1" y1="1110.1" x2="388.1" y2="1113.1" stroke="#333" stroke-width="0.9" /><text x="388.1" y="1121.5" font-size="7.6" text-anchor="middle" fill="#222" >300</text><line x1="422.3" y1="1110.1" x2="422.3" y2="1113.1" stroke="#333" stroke-width="0.9" /><text x="422.3" y="1121.5" font-size="7.6" text-anchor="middle" fill="#222" >350</text><line x1="456.5" y1="1110.1" x2="456.5" y2="1113.1" stroke="#333" stroke-width="0.9" /><text x="456.5" y="1121.5" font-size="7.6" text-anchor="middle" fill="#222" >400</text><text x="320.2" y="1132.9" font-size="7.8" text-anchor="middle" textLength="109.8" lengthAdjust="spacingAndGlyphs" fill="#222" >Number of blocks observed</text><text x="145.4" y="1022.8" font-size="7.8" text-anchor="middle" transform="rotate(-90 145.4 1022.8)" fill="#222" >Mean S&#772;<tspan font-size='5' dy='1'>&#8734;</tspan><tspan dy='-1'> metric</tspan></text><text x="322.7" y="929.9" font-size="9.3" text-anchor="middle" textLength="255.1" lengthAdjust="spacingAndGlyphs" fill="#222" >Mean <tspan font-style='italic'>S&#772;</tspan><tspan font-size='6' dy='1.5'>&#8734;</tspan><tspan dy='-1.5'> and 1.0 &#215; </tspan><tspan font-style='italic'>SE</tspan> vs. number of blocks observed</text><line x1="355.6" y1="946.7" x2="372.6" y2="946.7" stroke="#7fa6d9" stroke-width="1.3" /><line x1="355.6" y1="961.6" x2="372.6" y2="961.6" stroke="#f07171" stroke-width="1.3" /><text x="378.8" y="949.3" font-size="7.6" textLength="76.7" lengthAdjust="spacingAndGlyphs" fill="#222" >Altruistic &#177;1.0 &#215; <tspan font-style='italic'>&#963;</tspan><tspan font-size='5.5' dy='1.5' font-style='italic'>&#956;</tspan></text><text x="378.8" y="964.2" font-size="7.6" textLength="82.9" lengthAdjust="spacingAndGlyphs" fill="#222" >MEV-boost &#177;1.0 &#215; <tspan font-style='italic'>&#963;</tspan><tspan font-size='5.5' dy='1.5' font-style='italic'>&#956;</tspan></text><polygon points="532.0,940.8 532.7,949.4 533.4,946.4 534.1,948.3 534.8,949.6 535.5,949.0 536.1,952.3 536.8,952.3 537.5,957.2 538.2,954.2 538.9,955.4 539.6,956.5 540.2,958.1 540.9,956.9 541.6,957.9 542.3,960.8 543.0,960.7 543.7,960.5 544.3,965.3 545.0,967.3 545.7,966.6 546.4,975.7 547.1,977.8 547.8,979.0 548.4,980.6 549.1,983.4 549.8,982.0 550.5,983.3 551.2,984.9 551.9,984.6 552.5,982.9 553.2,985.1 553.9,983.4 554.6,978.6 555.3,978.8 556.0,978.8 556.6,981.6 557.3,978.8 558.0,980.5 558.7,978.2 559.4,978.4 560.1,979.6 560.7,979.4 561.4,976.6 562.1,979.1 562.8,981.0 563.5,980.5 564.2,978.1 564.8,979.2 565.5,979.5 566.2,981.3 566.9,979.4 567.6,979.0 568.3,980.7 568.9,982.4 569.6,981.0 570.3,981.1 571.0,980.0 571.7,983.4 572.4,983.6 573.0,982.9 573.7,981.3 574.4,982.7 575.1,982.3 575.8,982.9 576.5,982.9 577.1,985.2 577.8,986.1 578.5,983.6 579.2,984.6 579.9,983.6 580.6,983.4 581.2,984.0 581.9,983.1 582.6,982.9 583.3,985.1 584.0,984.6 584.7,984.5 585.3,983.6 586.0,984.9 586.7,985.0 587.4,985.9 588.1,986.7 588.8,986.2 589.4,986.4 590.1,984.2 590.8,988.0 591.5,987.3 592.2,986.4 592.9,987.2 593.5,987.6 594.2,987.7 594.9,987.3 595.6,989.0 596.3,989.0 597.0,989.0 597.6,988.6 598.3,988.4 599.0,987.4 599.7,988.9 600.4,988.9 601.1,988.6 601.8,988.6 602.4,989.7 603.1,989.1 603.8,990.0 604.5,990.4 605.2,990.9 605.9,990.3 606.5,988.8 607.2,989.5 607.9,990.3 608.6,991.5 609.3,990.3 610.0,990.8 610.6,990.6 611.3,991.0 612.0,990.4 612.7,990.2 613.4,990.9 614.1,990.7 614.7,990.4 615.4,990.6 616.1,990.7 616.8,991.1 617.5,990.2 618.2,989.0 618.8,990.1 619.5,989.6 620.2,989.5 620.9,989.2 621.6,990.2 622.3,990.3 622.9,990.3 623.6,989.4 624.3,989.1 625.0,989.3 625.7,990.5 626.4,990.1 627.0,990.4 627.7,989.9 628.4,990.3 629.1,990.7 629.8,990.4 630.5,990.6 631.1,989.8 631.8,990.9 632.5,989.8 633.2,988.7 633.9,990.2 634.6,990.2 635.2,990.7 635.9,991.2 636.6,990.1 637.3,990.7 638.0,991.4 638.7,990.2 639.3,989.7 640.0,991.7 640.7,990.4 641.4,991.9 642.1,991.5 642.8,990.9 643.4,992.2 644.1,992.5 644.8,992.8 645.5,992.6 646.2,991.9 646.9,992.3 647.5,991.9 648.2,993.1 648.9,993.1 649.6,993.2 650.3,993.1 651.0,992.3 651.6,992.8 652.3,992.7 653.0,992.9 653.7,992.7 654.4,991.6 655.1,992.4 655.7,992.5 656.4,993.2 657.1,993.0 657.8,992.4 658.5,993.0 659.2,993.6 659.8,992.7 660.5,993.4 661.2,992.7 661.9,993.3 662.6,992.6 663.3,992.0 663.9,992.4 664.6,991.5 665.3,993.6 666.0,992.6 666.7,993.0 667.4,992.9 668.1,992.8 668.7,993.1 669.4,992.0 670.1,992.2 670.8,993.0 671.5,992.8 672.2,993.1 672.8,992.7 673.5,992.8 674.2,993.8 674.9,992.7 675.6,992.9 676.3,992.6 676.9,991.9 677.6,992.3 678.3,992.9 679.0,992.2 679.7,992.7 680.4,992.4 681.0,992.3 681.7,992.8 682.4,992.2 683.1,993.2 683.8,993.2 684.5,992.3 685.1,991.6 685.8,994.2 686.5,992.9 687.2,993.3 687.9,993.7 688.6,994.1 689.2,993.7 689.9,993.1 690.6,992.6 691.3,993.4 692.0,994.2 692.7,994.7 693.3,994.2 694.0,993.9 694.7,994.6 695.4,995.2 696.1,995.7 696.8,995.0 697.4,995.2 698.1,994.9 698.8,995.2 699.5,995.5 700.2,996.1 700.9,994.7 701.5,995.4 702.2,996.6 702.9,996.0 703.6,996.1 704.3,997.3 705.0,996.7 705.6,995.7 706.3,996.4 707.0,996.7 707.7,997.1 708.4,996.1 709.1,995.7 709.7,997.3 710.4,997.0 711.1,998.4 711.8,997.3 712.5,998.7 713.2,997.5 713.8,996.9 714.5,997.6 715.2,997.1 715.9,997.3 716.6,997.7 717.3,997.6 717.9,997.1 718.6,997.3 719.3,997.4 720.0,997.4 720.7,998.3 721.4,997.9 722.0,997.1 722.7,997.0 723.4,997.5 724.1,998.2 724.8,998.3 725.5,998.4 726.1,998.1 726.8,998.3 727.5,998.3 728.2,998.0 728.9,999.1 729.6,999.3 730.2,999.5 730.9,997.8 731.6,997.7 732.3,998.4 733.0,998.8 733.7,998.6 734.3,997.2 735.0,997.3 735.7,997.4 736.4,998.8 737.1,998.4 737.8,998.3 738.5,998.9 739.1,997.8 739.8,998.6 740.5,998.8 741.2,998.3 741.9,998.2 742.6,998.7 743.2,998.6 743.9,998.5 744.6,998.2 745.3,998.3 746.0,998.9 746.7,998.4 747.3,998.1 748.0,999.0 748.7,999.4 749.4,998.8 750.1,999.0 750.8,998.6 751.4,998.5 752.1,998.7 752.8,999.0 753.5,998.2 754.2,997.8 754.9,997.9 755.5,998.0 756.2,999.2 756.9,999.2 757.6,999.2 758.3,999.2 759.0,999.2 759.6,998.7 760.3,999.6 761.0,999.0 761.7,999.8 762.4,1000.1 763.1,999.4 763.7,1000.0 764.4,999.3 765.1,1000.0 765.8,999.8 766.5,1000.5 767.2,999.9 767.8,1000.5 768.5,1000.4 769.2,1000.0 769.9,999.6 770.6,999.6 771.3,1000.4 771.9,1000.3 772.6,1000.1 773.3,1000.0 774.0,1000.3 774.7,999.8 775.4,1000.6 776.0,1001.1 776.7,999.4 777.4,999.3 778.1,999.3 778.8,1000.4 779.5,1000.6 780.1,999.7 780.8,1001.2 781.5,1000.5 782.2,1002.0 782.9,1001.3 783.6,1001.4 784.2,1002.2 784.9,1001.0 785.6,1001.4 786.3,1001.3 787.0,1000.9 787.7,1001.7 788.3,1001.2 789.0,1001.8 789.7,1001.8 790.4,1001.8 791.1,1001.7 791.8,1002.7 792.4,1002.1 793.1,1001.5 793.8,1001.1 794.5,1000.8 795.2,1001.3 795.9,1002.1 796.5,1002.1 797.2,1001.7 797.9,1001.8 798.6,1001.6 799.3,1001.8 800.0,1001.8 800.6,1001.7 801.3,1001.2 802.0,1002.0 802.7,1002.4 802.7,1030.7 802.0,1031.4 801.3,1030.5 800.6,1030.7 800.0,1031.4 799.3,1030.3 798.6,1029.9 797.9,1030.2 797.2,1030.7 796.5,1030.6 795.9,1030.8 795.2,1031.1 794.5,1030.7 793.8,1030.8 793.1,1031.8 792.4,1031.0 791.8,1031.1 791.1,1030.4 790.4,1031.4 789.7,1031.3 789.0,1030.6 788.3,1030.4 787.7,1030.3 787.0,1029.6 786.3,1030.1 785.6,1030.3 784.9,1029.6 784.2,1030.3 783.6,1030.6 782.9,1031.0 782.2,1030.3 781.5,1030.6 780.8,1030.3 780.1,1030.3 779.5,1030.3 778.8,1030.6 778.1,1031.1 777.4,1030.2 776.7,1030.8 776.0,1030.8 775.4,1030.4 774.7,1031.2 774.0,1030.1 773.3,1030.6 772.6,1029.8 771.9,1029.9 771.3,1029.8 770.6,1031.0 769.9,1030.3 769.2,1030.7 768.5,1029.9 767.8,1030.9 767.2,1032.1 766.5,1031.5 765.8,1031.0 765.1,1029.5 764.4,1031.0 763.7,1031.7 763.1,1030.4 762.4,1030.2 761.7,1030.0 761.0,1030.3 760.3,1030.3 759.6,1030.6 759.0,1030.1 758.3,1029.2 757.6,1029.4 756.9,1030.0 756.2,1029.4 755.5,1029.8 754.9,1029.2 754.2,1029.9 753.5,1031.0 752.8,1030.1 752.1,1030.6 751.4,1030.4 750.8,1030.9 750.1,1031.2 749.4,1031.5 748.7,1031.3 748.0,1031.0 747.3,1030.8 746.7,1030.6 746.0,1030.3 745.3,1030.0 744.6,1031.2 743.9,1030.6 743.2,1030.0 742.6,1029.6 741.9,1030.7 741.2,1031.0 740.5,1030.7 739.8,1029.9 739.1,1031.1 738.5,1031.0 737.8,1031.6 737.1,1031.1 736.4,1031.1 735.7,1031.1 735.0,1030.6 734.3,1031.6 733.7,1030.6 733.0,1031.4 732.3,1031.7 731.6,1032.3 730.9,1032.6 730.2,1032.1 729.6,1032.1 728.9,1031.3 728.2,1031.5 727.5,1031.7 726.8,1031.8 726.1,1032.3 725.5,1032.3 724.8,1031.8 724.1,1031.2 723.4,1031.4 722.7,1030.8 722.0,1031.3 721.4,1031.6 720.7,1031.1 720.0,1031.9 719.3,1033.0 718.6,1032.6 717.9,1032.7 717.3,1031.2 716.6,1031.5 715.9,1032.8 715.2,1033.0 714.5,1031.7 713.8,1032.2 713.2,1032.1 712.5,1031.6 711.8,1032.7 711.1,1032.2 710.4,1032.2 709.7,1031.8 709.1,1032.0 708.4,1030.6 707.7,1030.8 707.0,1031.5 706.3,1032.5 705.6,1032.2 705.0,1031.5 704.3,1030.9 703.6,1032.3 702.9,1032.5 702.2,1032.9 701.5,1032.2 700.9,1032.4 700.2,1031.2 699.5,1031.4 698.8,1031.0 698.1,1031.8 697.4,1030.9 696.8,1030.7 696.1,1031.2 695.4,1030.6 694.7,1030.3 694.0,1030.5 693.3,1030.6 692.7,1030.5 692.0,1031.3 691.3,1030.5 690.6,1030.6 689.9,1029.8 689.2,1031.0 688.6,1032.2 687.9,1031.5 687.2,1031.8 686.5,1031.5 685.8,1030.1 685.1,1031.2 684.5,1029.6 683.8,1030.4 683.1,1030.2 682.4,1030.9 681.7,1029.9 681.0,1030.8 680.4,1030.3 679.7,1030.6 679.0,1031.0 678.3,1030.2 677.6,1030.7 676.9,1031.4 676.3,1031.8 675.6,1032.8 674.9,1032.0 674.2,1032.0 673.5,1031.1 672.8,1031.9 672.2,1031.4 671.5,1031.9 670.8,1031.4 670.1,1031.5 669.4,1031.5 668.7,1031.5 668.1,1032.6 667.4,1032.9 666.7,1032.3 666.0,1033.2 665.3,1032.7 664.6,1034.2 663.9,1033.0 663.3,1034.2 662.6,1033.1 661.9,1033.5 661.2,1034.2 660.5,1034.3 659.8,1033.8 659.2,1033.0 658.5,1034.7 657.8,1034.4 657.1,1034.2 656.4,1034.1 655.7,1034.1 655.1,1034.9 654.4,1035.2 653.7,1034.8 653.0,1035.6 652.3,1035.1 651.6,1034.4 651.0,1035.0 650.3,1034.8 649.6,1035.5 648.9,1035.8 648.2,1035.2 647.5,1034.8 646.9,1035.4 646.2,1036.6 645.5,1035.8 644.8,1034.8 644.1,1034.9 643.4,1035.3 642.8,1036.6 642.1,1034.3 641.4,1034.3 640.7,1035.4 640.0,1034.1 639.3,1035.1 638.7,1035.0 638.0,1035.2 637.3,1036.1 636.6,1035.7 635.9,1035.6 635.2,1036.0 634.6,1035.6 633.9,1035.9 633.2,1037.6 632.5,1036.2 631.8,1035.8 631.1,1036.8 630.5,1035.8 629.8,1036.7 629.1,1037.1 628.4,1038.4 627.7,1038.4 627.0,1036.7 626.4,1036.7 625.7,1037.8 625.0,1038.4 624.3,1037.5 623.6,1037.5 622.9,1037.4 622.3,1037.5 621.6,1038.3 620.9,1039.1 620.2,1038.8 619.5,1038.8 618.8,1038.2 618.2,1039.6 617.5,1040.3 616.8,1039.3 616.1,1039.5 615.4,1040.4 614.7,1041.1 614.1,1041.2 613.4,1040.2 612.7,1040.7 612.0,1041.2 611.3,1040.5 610.6,1041.7 610.0,1040.6 609.3,1042.8 608.6,1042.6 607.9,1043.3 607.2,1042.8 606.5,1042.8 605.9,1042.7 605.2,1043.0 604.5,1043.6 603.8,1043.1 603.1,1043.9 602.4,1044.1 601.8,1044.1 601.1,1043.1 600.4,1043.2 599.7,1043.3 599.0,1043.9 598.3,1043.7 597.6,1044.9 597.0,1044.3 596.3,1043.7 595.6,1042.7 594.9,1044.6 594.2,1044.5 593.5,1044.7 592.9,1044.7 592.2,1045.1 591.5,1044.3 590.8,1043.3 590.1,1045.5 589.4,1043.6 588.8,1044.9 588.1,1044.2 587.4,1046.3 586.7,1045.2 586.0,1046.4 585.3,1048.5 584.7,1047.2 584.0,1046.1 583.3,1045.7 582.6,1048.2 581.9,1046.5 581.2,1046.6 580.6,1047.5 579.9,1048.5 579.2,1049.3 578.5,1049.4 577.8,1047.3 577.1,1048.1 576.5,1050.3 575.8,1049.5 575.1,1050.7 574.4,1049.0 573.7,1049.9 573.0,1050.0 572.4,1050.0 571.7,1049.2 571.0,1052.2 570.3,1051.3 569.6,1052.2 568.9,1049.5 568.3,1052.6 567.6,1053.9 566.9,1054.9 566.2,1054.5 565.5,1055.4 564.8,1055.2 564.2,1056.1 563.5,1054.4 562.8,1054.6 562.1,1056.6 561.4,1059.8 560.7,1057.9 560.1,1058.6 559.4,1060.0 558.7,1061.3 558.0,1058.8 557.3,1061.2 556.6,1059.3 556.0,1062.0 555.3,1064.6 554.6,1065.6 553.9,1060.9 553.2,1060.0 552.5,1062.5 551.9,1062.4 551.2,1062.9 550.5,1064.2 549.8,1064.2 549.1,1063.8 548.4,1065.4 547.8,1064.2 547.1,1062.3 546.4,1062.4 545.7,1068.3 545.0,1065.9 544.3,1066.7 543.7,1072.1 543.0,1072.9 542.3,1073.0 541.6,1075.3 540.9,1076.2 540.2,1074.7 539.6,1077.3 538.9,1080.7 538.2,1081.9 537.5,1080.0 536.8,1086.3 536.1,1086.8 535.5,1091.4 534.8,1091.8 534.1,1095.1 533.4,1102.8 532.7,1106.1 532.0,1109.7" fill="#f07171" fill-opacity="0.27"/><polygon points="532.0,1010.8 532.7,1010.7 533.4,1011.8 534.1,1010.0 534.8,1014.1 535.5,1014.3 536.1,1014.5 536.8,1018.3 537.5,1018.6 538.2,1020.2 538.9,1020.7 539.6,1024.3 540.2,1024.9 540.9,1026.2 541.6,1024.3 542.3,1026.2 543.0,1025.5 543.7,1025.4 544.3,1025.2 545.0,1027.0 545.7,1026.3 546.4,1027.1 547.1,1026.4 547.8,1027.5 548.4,1027.9 549.1,1028.1 549.8,1029.1 550.5,1027.7 551.2,1028.1 551.9,1028.7 552.5,1028.6 553.2,1028.5 553.9,1030.9 554.6,1029.2 555.3,1029.8 556.0,1029.7 556.6,1030.1 557.3,1029.6 558.0,1030.3 558.7,1031.7 559.4,1031.4 560.1,1030.4 560.7,1029.8 561.4,1031.4 562.1,1030.5 562.8,1031.8 563.5,1032.0 564.2,1031.6 564.8,1030.5 565.5,1031.3 566.2,1031.5 566.9,1031.9 567.6,1031.4 568.3,1031.4 568.9,1031.9 569.6,1032.1 570.3,1031.2 571.0,1031.1 571.7,1032.5 572.4,1032.1 573.0,1032.2 573.7,1032.0 574.4,1032.2 575.1,1032.4 575.8,1033.3 576.5,1033.2 577.1,1033.1 577.8,1032.9 578.5,1033.4 579.2,1033.6 579.9,1033.1 580.6,1034.1 581.2,1033.3 581.9,1032.4 582.6,1033.5 583.3,1033.4 584.0,1033.5 584.7,1033.6 585.3,1033.4 586.0,1034.1 586.7,1033.9 587.4,1034.3 588.1,1034.2 588.8,1034.6 589.4,1034.8 590.1,1034.0 590.8,1034.8 591.5,1034.6 592.2,1034.6 592.9,1035.1 593.5,1034.9 594.2,1035.6 594.9,1035.1 595.6,1035.3 596.3,1036.4 597.0,1035.8 597.6,1035.3 598.3,1035.3 599.0,1036.0 599.7,1035.3 600.4,1034.8 601.1,1035.0 601.8,1036.0 602.4,1035.8 603.1,1036.1 603.8,1036.2 604.5,1037.2 605.2,1036.7 605.9,1037.4 606.5,1037.2 607.2,1036.8 607.9,1037.8 608.6,1037.8 609.3,1037.0 610.0,1037.3 610.6,1037.5 611.3,1037.7 612.0,1037.9 612.7,1037.8 613.4,1037.9 614.1,1038.3 614.7,1037.6 615.4,1037.9 616.1,1038.3 616.8,1037.9 617.5,1038.0 618.2,1037.9 618.8,1038.1 619.5,1037.3 620.2,1037.8 620.9,1038.4 621.6,1037.8 622.3,1037.8 622.9,1037.3 623.6,1038.2 624.3,1038.4 625.0,1038.1 625.7,1038.0 626.4,1037.3 627.0,1038.1 627.7,1038.4 628.4,1038.5 629.1,1038.8 629.8,1038.5 630.5,1038.5 631.1,1038.4 631.8,1038.6 632.5,1037.8 633.2,1039.1 633.9,1038.4 634.6,1038.2 635.2,1039.0 635.9,1038.3 636.6,1038.5 637.3,1038.7 638.0,1038.3 638.7,1038.6 639.3,1038.8 640.0,1038.1 640.7,1038.9 641.4,1038.7 642.1,1039.1 642.8,1038.5 643.4,1038.5 644.1,1038.8 644.8,1038.5 645.5,1038.5 646.2,1038.5 646.9,1038.4 647.5,1038.6 648.2,1038.6 648.9,1038.8 649.6,1038.8 650.3,1038.9 651.0,1039.0 651.6,1037.8 652.3,1038.3 653.0,1038.7 653.7,1038.4 654.4,1039.0 655.1,1039.3 655.7,1038.8 656.4,1038.7 657.1,1038.7 657.8,1039.0 658.5,1039.1 659.2,1038.4 659.8,1038.9 660.5,1038.9 661.2,1039.1 661.9,1039.2 662.6,1038.9 663.3,1039.2 663.9,1039.3 664.6,1039.4 665.3,1039.0 666.0,1039.8 666.7,1039.7 667.4,1039.5 668.1,1039.1 668.7,1038.6 669.4,1039.6 670.1,1039.8 670.8,1039.7 671.5,1039.9 672.2,1039.9 672.8,1039.6 673.5,1039.7 674.2,1039.4 674.9,1039.8 675.6,1040.3 676.3,1039.6 676.9,1040.0 677.6,1039.5 678.3,1040.2 679.0,1039.7 679.7,1039.9 680.4,1040.0 681.0,1040.1 681.7,1039.6 682.4,1039.6 683.1,1039.3 683.8,1039.5 684.5,1040.0 685.1,1040.1 685.8,1039.6 686.5,1039.8 687.2,1039.9 687.9,1039.7 688.6,1039.7 689.2,1040.1 689.9,1040.2 690.6,1040.3 691.3,1040.2 692.0,1039.9 692.7,1039.7 693.3,1040.2 694.0,1039.8 694.7,1040.0 695.4,1039.7 696.1,1039.7 696.8,1039.7 697.4,1039.9 698.1,1039.7 698.8,1039.7 699.5,1040.2 700.2,1039.8 700.9,1040.5 701.5,1039.4 702.2,1040.0 702.9,1040.1 703.6,1040.3 704.3,1040.1 705.0,1039.9 705.6,1039.4 706.3,1039.9 707.0,1040.2 707.7,1040.4 708.4,1040.1 709.1,1040.1 709.7,1039.9 710.4,1040.3 711.1,1040.6 711.8,1040.3 712.5,1040.4 713.2,1040.3 713.8,1040.1 714.5,1040.2 715.2,1039.9 715.9,1040.1 716.6,1040.4 717.3,1040.5 717.9,1040.7 718.6,1040.2 719.3,1040.2 720.0,1040.5 720.7,1040.3 721.4,1040.3 722.0,1040.9 722.7,1040.8 723.4,1040.6 724.1,1040.3 724.8,1041.1 725.5,1041.2 726.1,1040.7 726.8,1040.6 727.5,1041.3 728.2,1040.5 728.9,1041.7 729.6,1041.4 730.2,1040.9 730.9,1040.5 731.6,1040.5 732.3,1040.8 733.0,1041.5 733.7,1040.7 734.3,1041.1 735.0,1041.2 735.7,1041.5 736.4,1041.4 737.1,1041.3 737.8,1041.0 738.5,1040.7 739.1,1041.3 739.8,1040.9 740.5,1041.0 741.2,1041.2 741.9,1041.8 742.6,1041.1 743.2,1040.7 743.9,1040.7 744.6,1041.0 745.3,1041.5 746.0,1041.1 746.7,1041.3 747.3,1041.3 748.0,1040.8 748.7,1041.5 749.4,1040.8 750.1,1041.2 750.8,1041.4 751.4,1041.3 752.1,1041.6 752.8,1041.4 753.5,1041.4 754.2,1041.0 754.9,1041.5 755.5,1041.1 756.2,1041.0 756.9,1041.7 757.6,1041.1 758.3,1041.6 759.0,1041.9 759.6,1041.9 760.3,1041.4 761.0,1041.8 761.7,1041.5 762.4,1042.1 763.1,1041.6 763.7,1041.4 764.4,1041.4 765.1,1041.4 765.8,1041.7 766.5,1041.0 767.2,1040.9 767.8,1041.2 768.5,1041.3 769.2,1041.1 769.9,1041.2 770.6,1041.3 771.3,1041.7 771.9,1041.1 772.6,1041.7 773.3,1041.9 774.0,1041.7 774.7,1041.7 775.4,1041.4 776.0,1041.7 776.7,1041.6 777.4,1041.6 778.1,1041.8 778.8,1041.8 779.5,1041.5 780.1,1041.4 780.8,1042.3 781.5,1041.8 782.2,1041.8 782.9,1041.8 783.6,1041.8 784.2,1041.9 784.9,1041.8 785.6,1041.9 786.3,1042.2 787.0,1042.3 787.7,1041.6 788.3,1042.0 789.0,1041.4 789.7,1041.6 790.4,1041.9 791.1,1042.0 791.8,1042.2 792.4,1041.6 793.1,1042.0 793.8,1042.1 794.5,1042.2 795.2,1042.3 795.9,1042.5 796.5,1042.4 797.2,1042.1 797.9,1042.5 798.6,1042.4 799.3,1041.9 800.0,1042.2 800.6,1042.4 801.3,1042.1 802.0,1042.3 802.7,1042.2 802.7,1055.3 802.0,1055.5 801.3,1055.5 800.6,1055.2 800.0,1055.7 799.3,1055.6 798.6,1055.7 797.9,1055.6 797.2,1055.6 796.5,1055.4 795.9,1055.4 795.2,1055.5 794.5,1055.4 793.8,1055.6 793.1,1055.6 792.4,1055.6 791.8,1055.2 791.1,1055.5 790.4,1055.2 789.7,1055.6 789.0,1055.4 788.3,1055.1 787.7,1055.2 787.0,1055.1 786.3,1055.4 785.6,1055.9 784.9,1055.6 784.2,1055.5 783.6,1055.6 782.9,1055.8 782.2,1055.9 781.5,1056.2 780.8,1055.4 780.1,1056.0 779.5,1055.5 778.8,1055.8 778.1,1055.8 777.4,1056.1 776.7,1055.8 776.0,1055.4 775.4,1055.8 774.7,1055.7 774.0,1055.9 773.3,1055.6 772.6,1055.8 771.9,1055.7 771.3,1055.9 770.6,1055.9 769.9,1056.1 769.2,1056.0 768.5,1055.8 767.8,1055.8 767.2,1056.0 766.5,1055.9 765.8,1055.5 765.1,1055.5 764.4,1055.5 763.7,1055.8 763.1,1055.5 762.4,1055.5 761.7,1056.1 761.0,1055.6 760.3,1056.4 759.6,1055.8 759.0,1055.4 758.3,1055.8 757.6,1056.0 756.9,1055.8 756.2,1056.0 755.5,1055.8 754.9,1055.7 754.2,1055.9 753.5,1055.9 752.8,1056.0 752.1,1056.5 751.4,1056.4 750.8,1056.4 750.1,1056.4 749.4,1056.3 748.7,1055.7 748.0,1056.1 747.3,1055.9 746.7,1056.1 746.0,1056.3 745.3,1055.6 744.6,1056.3 743.9,1055.9 743.2,1056.4 742.6,1056.2 741.9,1055.5 741.2,1056.0 740.5,1056.0 739.8,1056.3 739.1,1055.9 738.5,1056.2 737.8,1056.2 737.1,1056.2 736.4,1056.4 735.7,1056.1 735.0,1056.7 734.3,1056.8 733.7,1056.6 733.0,1056.1 732.3,1056.2 731.6,1056.5 730.9,1056.4 730.2,1056.2 729.6,1056.0 728.9,1056.0 728.2,1057.1 727.5,1056.4 726.8,1056.5 726.1,1056.2 725.5,1056.2 724.8,1056.4 724.1,1056.7 723.4,1056.6 722.7,1056.0 722.0,1055.9 721.4,1056.5 720.7,1056.1 720.0,1056.2 719.3,1056.4 718.6,1056.2 717.9,1056.4 717.3,1056.3 716.6,1056.6 715.9,1056.5 715.2,1056.8 714.5,1056.1 713.8,1056.5 713.2,1056.4 712.5,1056.5 711.8,1056.6 711.1,1056.5 710.4,1056.2 709.7,1056.3 709.1,1056.4 708.4,1056.1 707.7,1056.3 707.0,1056.3 706.3,1057.1 705.6,1056.9 705.0,1056.4 704.3,1056.6 703.6,1056.6 702.9,1056.9 702.2,1056.5 701.5,1057.4 700.9,1055.8 700.2,1056.5 699.5,1056.1 698.8,1056.5 698.1,1056.9 697.4,1056.9 696.8,1056.6 696.1,1056.8 695.4,1057.0 694.7,1056.6 694.0,1056.7 693.3,1056.2 692.7,1056.8 692.0,1056.8 691.3,1057.0 690.6,1057.1 689.9,1057.4 689.2,1057.6 688.6,1057.4 687.9,1057.4 687.2,1057.7 686.5,1057.3 685.8,1057.7 685.1,1057.7 684.5,1057.8 683.8,1057.5 683.1,1058.1 682.4,1057.9 681.7,1057.8 681.0,1057.2 680.4,1057.5 679.7,1057.4 679.0,1057.8 678.3,1057.7 677.6,1058.4 676.9,1057.7 676.3,1057.9 675.6,1057.3 674.9,1057.9 674.2,1057.5 673.5,1057.6 672.8,1058.3 672.2,1058.0 671.5,1058.0 670.8,1057.5 670.1,1057.7 669.4,1058.3 668.7,1058.5 668.1,1057.9 667.4,1057.9 666.7,1058.0 666.0,1057.6 665.3,1058.0 664.6,1057.7 663.9,1058.1 663.3,1058.1 662.6,1058.7 661.9,1058.5 661.2,1057.9 660.5,1057.8 659.8,1057.9 659.2,1058.5 658.5,1057.7 657.8,1058.2 657.1,1058.5 656.4,1058.5 655.7,1058.1 655.1,1058.5 654.4,1057.7 653.7,1058.1 653.0,1058.8 652.3,1058.5 651.6,1058.9 651.0,1058.4 650.3,1058.7 649.6,1058.4 648.9,1058.9 648.2,1058.8 647.5,1058.8 646.9,1059.0 646.2,1058.5 645.5,1058.7 644.8,1058.7 644.1,1058.4 643.4,1058.5 642.8,1059.2 642.1,1058.8 641.4,1059.2 640.7,1059.4 640.0,1059.7 639.3,1059.1 638.7,1059.4 638.0,1059.6 637.3,1059.3 636.6,1059.5 635.9,1059.8 635.2,1059.5 634.6,1059.9 633.9,1059.9 633.2,1059.2 632.5,1060.5 631.8,1059.9 631.1,1059.9 630.5,1060.3 629.8,1060.4 629.1,1059.9 628.4,1060.1 627.7,1059.5 627.0,1060.1 626.4,1060.9 625.7,1060.3 625.0,1060.3 624.3,1060.4 623.6,1060.3 622.9,1061.0 622.3,1060.6 621.6,1060.4 620.9,1060.4 620.2,1060.5 619.5,1061.1 618.8,1061.3 618.2,1061.0 617.5,1060.8 616.8,1061.1 616.1,1060.6 615.4,1061.2 614.7,1061.5 614.1,1060.9 613.4,1061.6 612.7,1061.1 612.0,1061.2 611.3,1061.7 610.6,1061.5 610.0,1061.1 609.3,1061.8 608.6,1061.1 607.9,1061.0 607.2,1062.1 606.5,1061.2 605.9,1061.1 605.2,1062.0 604.5,1061.1 603.8,1061.8 603.1,1061.7 602.4,1061.9 601.8,1061.5 601.1,1062.6 600.4,1062.4 599.7,1061.9 599.0,1061.1 598.3,1061.8 597.6,1061.6 597.0,1061.0 596.3,1060.7 595.6,1061.9 594.9,1061.7 594.2,1061.4 593.5,1062.0 592.9,1061.5 592.2,1062.0 591.5,1061.9 590.8,1061.7 590.1,1062.3 589.4,1061.5 588.8,1061.7 588.1,1061.8 587.4,1062.0 586.7,1062.8 586.0,1063.1 585.3,1063.1 584.7,1062.6 584.0,1062.4 583.3,1062.6 582.6,1062.8 581.9,1064.2 581.2,1062.7 580.6,1062.3 579.9,1063.6 579.2,1063.6 578.5,1063.8 577.8,1064.0 577.1,1064.0 576.5,1063.9 575.8,1063.6 575.1,1064.9 574.4,1065.1 573.7,1065.0 573.0,1064.8 572.4,1064.7 571.7,1064.3 571.0,1065.8 570.3,1065.9 569.6,1065.1 568.9,1065.4 568.3,1065.7 567.6,1065.7 566.9,1065.5 566.2,1065.9 565.5,1066.4 564.8,1067.9 564.2,1066.6 563.5,1066.7 562.8,1066.7 562.1,1068.3 561.4,1067.5 560.7,1069.2 560.1,1068.7 559.4,1068.2 558.7,1067.5 558.0,1069.2 557.3,1070.5 556.6,1069.8 556.0,1070.3 555.3,1070.3 554.6,1071.2 553.9,1069.8 553.2,1072.4 552.5,1072.3 551.9,1072.5 551.2,1073.3 550.5,1073.9 549.8,1073.1 549.1,1074.1 548.4,1074.4 547.8,1075.5 547.1,1076.7 546.4,1076.4 545.7,1078.2 545.0,1077.3 544.3,1079.5 543.7,1079.8 543.0,1080.2 542.3,1080.6 541.6,1082.2 540.9,1080.8 540.2,1082.3 539.6,1083.1 538.9,1085.3 538.2,1084.8 537.5,1084.6 536.8,1084.0 536.1,1088.4 535.5,1088.8 534.8,1089.4 534.1,1091.8 533.4,1088.1 532.7,1087.4 532.0,1089.7" fill="#7fa6d9" fill-opacity="0.22"/><polyline points="530.0,1023.6 530.7,1023.4 531.4,1022.4 532.0,1025.2 532.7,1027.8 533.4,1024.6 534.1,1021.7 534.8,1020.7 535.5,1020.2 536.1,1019.6 536.8,1019.3 537.5,1018.6 538.2,1018.1 538.9,1018.0 539.6,1016.9 540.2,1016.4 540.9,1016.5 541.6,1016.6 542.3,1016.9 543.0,1016.8 543.7,1016.3 544.3,1016.0 545.0,1016.6 545.7,1017.4 546.4,1019.0 547.1,1020.1 547.8,1021.6 548.4,1023.0 549.1,1023.6 549.8,1023.1 550.5,1023.8 551.2,1023.9 551.9,1023.5 552.5,1022.7 553.2,1022.5 553.9,1022.2 554.6,1022.1 555.3,1021.7 556.0,1020.4 556.6,1020.5 557.3,1020.0 558.0,1019.7 558.7,1019.8 559.4,1019.2 560.1,1019.1 560.7,1018.7 561.4,1018.2 562.1,1017.9 562.8,1017.8 563.5,1017.5 564.2,1017.1 564.8,1017.2 565.5,1017.4 566.2,1017.9 566.9,1017.2 567.6,1016.5 568.3,1016.7 568.9,1015.9 569.6,1016.6 570.3,1016.2 571.0,1016.1 571.7,1016.3 572.4,1016.8 573.0,1016.5 573.7,1015.6 574.4,1015.9 575.1,1016.5 575.8,1016.2 576.5,1016.6 577.1,1016.6 577.8,1016.7 578.5,1016.5 579.2,1016.9 579.9,1016.1 580.6,1015.5 581.2,1015.3 581.9,1014.8 582.6,1015.5 583.3,1015.4 584.0,1015.4 584.7,1015.9 585.3,1016.1 586.0,1015.7 586.7,1015.1 587.4,1016.1 588.1,1015.5 588.8,1015.5 589.4,1015.0 590.1,1014.8 590.8,1015.7 591.5,1015.8 592.2,1015.7 592.9,1015.9 593.5,1016.2 594.2,1016.1 594.9,1015.9 595.6,1015.9 596.3,1016.3 597.0,1016.6 597.6,1016.7 598.3,1016.0 599.0,1015.6 599.7,1016.1 600.4,1016.1 601.1,1015.9 601.8,1016.4 602.4,1016.9 603.1,1016.5 603.8,1016.6 604.5,1017.0 605.2,1016.9 605.9,1016.5 606.5,1015.8 607.2,1016.1 607.9,1016.8 608.6,1017.1 609.3,1016.5 610.0,1015.7 610.6,1016.2 611.3,1015.8 612.0,1015.8 612.7,1015.5 613.4,1015.5 614.1,1016.0 614.7,1015.7 615.4,1015.5 616.1,1015.1 616.8,1015.2 617.5,1015.3 618.2,1014.3 618.8,1014.2 619.5,1014.2 620.2,1014.2 620.9,1014.2 621.6,1014.2 622.3,1013.9 622.9,1013.9 623.6,1013.5 624.3,1013.3 625.0,1013.9 625.7,1014.1 626.4,1013.4 627.0,1013.6 627.7,1014.2 628.4,1014.3 629.1,1013.9 629.8,1013.6 630.5,1013.2 631.1,1013.3 631.8,1013.3 632.5,1013.0 633.2,1013.1 633.9,1013.1 634.6,1012.9 635.2,1013.3 635.9,1013.4 636.6,1012.9 637.3,1013.4 638.0,1013.3 638.7,1012.6 639.3,1012.4 640.0,1012.9 640.7,1012.9 641.4,1013.1 642.1,1012.9 642.8,1013.7 643.4,1013.7 644.1,1013.7 644.8,1013.8 645.5,1014.2 646.2,1014.2 646.9,1013.8 647.5,1013.4 648.2,1014.2 648.9,1014.4 649.6,1014.3 650.3,1013.9 651.0,1013.6 651.6,1013.6 652.3,1013.9 653.0,1014.2 653.7,1013.8 654.4,1013.4 655.1,1013.7 655.7,1013.3 656.4,1013.6 657.1,1013.6 657.8,1013.4 658.5,1013.9 659.2,1013.3 659.8,1013.3 660.5,1013.8 661.2,1013.5 661.9,1013.4 662.6,1012.8 663.3,1013.1 663.9,1012.7 664.6,1012.8 665.3,1013.1 666.0,1012.9 666.7,1012.6 667.4,1012.9 668.1,1012.7 668.7,1012.3 669.4,1011.8 670.1,1011.9 670.8,1012.2 671.5,1012.4 672.2,1012.2 672.8,1012.3 673.5,1011.9 674.2,1012.9 674.9,1012.4 675.6,1012.9 676.3,1012.2 676.9,1011.6 677.6,1011.5 678.3,1011.5 679.0,1011.6 679.7,1011.7 680.4,1011.3 681.0,1011.6 681.7,1011.4 682.4,1011.5 683.1,1011.7 683.8,1011.8 684.5,1011.0 685.1,1011.4 685.8,1012.2 686.5,1012.2 687.2,1012.6 687.9,1012.6 688.6,1013.1 689.2,1012.4 689.9,1011.5 690.6,1011.6 691.3,1011.9 692.0,1012.8 692.7,1012.6 693.3,1012.4 694.0,1012.2 694.7,1012.4 695.4,1012.9 696.1,1013.4 696.8,1012.8 697.4,1013.0 698.1,1013.4 698.8,1013.1 699.5,1013.4 700.2,1013.7 700.9,1013.6 701.5,1013.8 702.2,1014.7 702.9,1014.2 703.6,1014.2 704.3,1014.1 705.0,1014.1 705.6,1014.0 706.3,1014.5 707.0,1014.1 707.7,1014.0 708.4,1013.4 709.1,1013.9 709.7,1014.6 710.4,1014.6 711.1,1015.3 711.8,1015.0 712.5,1015.1 713.2,1014.8 713.8,1014.5 714.5,1014.6 715.2,1015.1 715.9,1015.0 716.6,1014.6 717.3,1014.4 717.9,1014.9 718.6,1015.0 719.3,1015.2 720.0,1014.7 720.7,1014.7 721.4,1014.8 722.0,1014.2 722.7,1013.9 723.4,1014.5 724.1,1014.7 724.8,1015.0 725.5,1015.3 726.1,1015.2 726.8,1015.0 727.5,1015.0 728.2,1014.7 728.9,1015.2 729.6,1015.7 730.2,1015.8 730.9,1015.2 731.6,1015.0 732.3,1015.0 733.0,1015.1 733.7,1014.6 734.3,1014.4 735.0,1013.9 735.7,1014.3 736.4,1015.0 737.1,1014.7 737.8,1014.9 738.5,1014.9 739.1,1014.5 739.8,1014.2 740.5,1014.8 741.2,1014.7 741.9,1014.4 742.6,1014.2 743.2,1014.3 743.9,1014.5 744.6,1014.7 745.3,1014.1 746.0,1014.6 746.7,1014.5 747.3,1014.5 748.0,1015.0 748.7,1015.4 749.4,1015.1 750.1,1015.1 750.8,1014.8 751.4,1014.5 752.1,1014.7 752.8,1014.6 753.5,1014.6 754.2,1013.9 754.9,1013.6 755.5,1013.9 756.2,1014.3 756.9,1014.6 757.6,1014.3 758.3,1014.2 759.0,1014.7 759.6,1014.7 760.3,1015.0 761.0,1014.6 761.7,1014.9 762.4,1015.2 763.1,1014.9 763.7,1015.9 764.4,1015.1 765.1,1014.7 765.8,1015.4 766.5,1016.0 767.2,1016.0 767.8,1015.7 768.5,1015.1 769.2,1015.4 769.9,1014.9 770.6,1015.3 771.3,1015.1 771.9,1015.1 772.6,1015.0 773.3,1015.3 774.0,1015.2 774.7,1015.5 775.4,1015.5 776.0,1015.9 776.7,1015.1 777.4,1014.8 778.1,1015.2 778.8,1015.5 779.5,1015.5 780.1,1015.0 780.8,1015.8 781.5,1015.5 782.2,1016.1 782.9,1016.1 783.6,1016.0 784.2,1016.2 784.9,1015.3 785.6,1015.8 786.3,1015.7 787.0,1015.2 787.7,1016.0 788.3,1015.8 789.0,1016.2 789.7,1016.6 790.4,1016.6 791.1,1016.1 791.8,1016.9 792.4,1016.5 793.1,1016.6 793.8,1016.0 794.5,1015.7 795.2,1016.2 795.9,1016.4 796.5,1016.3 797.2,1016.2 797.9,1016.0 798.6,1015.8 799.3,1016.0 800.0,1016.6 800.6,1016.2 801.3,1015.8 802.0,1016.7 802.7,1016.6" fill="none" stroke="#f07171" stroke-width="1.3"/><polyline points="530.0,1053.7 530.7,1052.8 531.4,1051.9 532.0,1050.2 532.7,1049.0 533.4,1050.0 534.1,1050.9 534.8,1051.7 535.5,1051.6 536.1,1051.5 536.8,1051.1 537.5,1051.6 538.2,1052.5 538.9,1053.0 539.6,1053.7 540.2,1053.6 540.9,1053.5 541.6,1053.2 542.3,1053.4 543.0,1052.9 543.7,1052.6 544.3,1052.4 545.0,1052.2 545.7,1052.3 546.4,1051.8 547.1,1051.6 547.8,1051.5 548.4,1051.2 549.1,1051.1 549.8,1051.1 550.5,1050.8 551.2,1050.7 551.9,1050.6 552.5,1050.5 553.2,1050.5 553.9,1050.3 554.6,1050.2 555.3,1050.1 556.0,1050.0 556.6,1050.0 557.3,1050.1 558.0,1049.7 558.7,1049.6 559.4,1049.8 560.1,1049.5 560.7,1049.5 561.4,1049.5 562.1,1049.4 562.8,1049.3 563.5,1049.3 564.2,1049.1 564.8,1049.2 565.5,1048.9 566.2,1048.7 566.9,1048.7 567.6,1048.5 568.3,1048.5 568.9,1048.7 569.6,1048.6 570.3,1048.5 571.0,1048.5 571.7,1048.4 572.4,1048.4 573.0,1048.5 573.7,1048.5 574.4,1048.7 575.1,1048.6 575.8,1048.4 576.5,1048.5 577.1,1048.5 577.8,1048.4 578.5,1048.6 579.2,1048.6 579.9,1048.3 580.6,1048.2 581.2,1048.0 581.9,1048.3 582.6,1048.1 583.3,1048.0 584.0,1047.9 584.7,1048.1 585.3,1048.3 586.0,1048.6 586.7,1048.4 587.4,1048.2 588.1,1048.0 588.8,1048.1 589.4,1048.1 590.1,1048.1 590.8,1048.2 591.5,1048.3 592.2,1048.3 592.9,1048.3 593.5,1048.4 594.2,1048.5 594.9,1048.4 595.6,1048.6 596.3,1048.5 597.0,1048.4 597.6,1048.5 598.3,1048.5 599.0,1048.5 599.7,1048.6 600.4,1048.6 601.1,1048.8 601.8,1048.7 602.4,1048.8 603.1,1048.9 603.8,1049.0 604.5,1049.1 605.2,1049.4 605.9,1049.3 606.5,1049.2 607.2,1049.5 607.9,1049.4 608.6,1049.5 609.3,1049.4 610.0,1049.2 610.6,1049.5 611.3,1049.7 612.0,1049.6 612.7,1049.5 613.4,1049.8 614.1,1049.6 614.7,1049.5 615.4,1049.6 616.1,1049.4 616.8,1049.5 617.5,1049.4 618.2,1049.4 618.8,1049.7 619.5,1049.2 620.2,1049.2 620.9,1049.4 621.6,1049.1 622.3,1049.2 622.9,1049.2 623.6,1049.2 624.3,1049.4 625.0,1049.2 625.7,1049.2 626.4,1049.1 627.0,1049.1 627.7,1048.9 628.4,1049.3 629.1,1049.3 629.8,1049.5 630.5,1049.4 631.1,1049.1 631.8,1049.3 632.5,1049.2 633.2,1049.2 633.9,1049.1 634.6,1049.1 635.2,1049.2 635.9,1049.1 636.6,1049.0 637.3,1049.0 638.0,1048.9 638.7,1049.0 639.3,1048.9 640.0,1048.9 640.7,1049.1 641.4,1049.0 642.1,1049.0 642.8,1048.9 643.4,1048.5 644.1,1048.6 644.8,1048.6 645.5,1048.6 646.2,1048.5 646.9,1048.7 647.5,1048.7 648.2,1048.7 648.9,1048.9 649.6,1048.6 650.3,1048.8 651.0,1048.7 651.6,1048.4 652.3,1048.4 653.0,1048.7 653.7,1048.3 654.4,1048.4 655.1,1048.9 655.7,1048.4 656.4,1048.6 657.1,1048.6 657.8,1048.6 658.5,1048.4 659.2,1048.4 659.8,1048.4 660.5,1048.4 661.2,1048.5 661.9,1048.8 662.6,1048.8 663.3,1048.6 663.9,1048.7 664.6,1048.6 665.3,1048.5 666.0,1048.7 666.7,1048.9 667.4,1048.7 668.1,1048.5 668.7,1048.6 669.4,1048.9 670.1,1048.7 670.8,1048.6 671.5,1048.9 672.2,1048.9 672.8,1049.0 673.5,1048.6 674.2,1048.5 674.9,1048.8 675.6,1048.8 676.3,1048.8 676.9,1048.8 677.6,1048.9 678.3,1048.9 679.0,1048.8 679.7,1048.6 680.4,1048.7 681.0,1048.7 681.7,1048.7 682.4,1048.8 683.1,1048.7 683.8,1048.5 684.5,1048.9 685.1,1048.9 685.8,1048.6 686.5,1048.6 687.2,1048.8 687.9,1048.6 688.6,1048.6 689.2,1048.9 689.9,1048.8 690.6,1048.7 691.3,1048.6 692.0,1048.4 692.7,1048.2 693.3,1048.2 694.0,1048.2 694.7,1048.3 695.4,1048.4 696.1,1048.2 696.8,1048.2 697.4,1048.4 698.1,1048.3 698.8,1048.1 699.5,1048.2 700.2,1048.1 700.9,1048.2 701.5,1048.4 702.2,1048.3 702.9,1048.5 703.6,1048.4 704.3,1048.4 705.0,1048.2 705.6,1048.2 706.3,1048.5 707.0,1048.2 707.7,1048.4 708.4,1048.1 709.1,1048.3 709.7,1048.1 710.4,1048.2 711.1,1048.6 711.8,1048.4 712.5,1048.5 713.2,1048.3 713.8,1048.3 714.5,1048.2 715.2,1048.4 715.9,1048.3 716.6,1048.5 717.3,1048.4 717.9,1048.5 718.6,1048.2 719.3,1048.3 720.0,1048.3 720.7,1048.2 721.4,1048.4 722.0,1048.4 722.7,1048.4 723.4,1048.6 724.1,1048.5 724.8,1048.8 725.5,1048.7 726.1,1048.4 726.8,1048.5 727.5,1048.9 728.2,1048.8 728.9,1048.9 729.6,1048.7 730.2,1048.6 730.9,1048.4 731.6,1048.5 732.3,1048.5 733.0,1048.8 733.7,1048.7 734.3,1048.9 735.0,1049.0 735.7,1048.8 736.4,1048.9 737.1,1048.8 737.8,1048.6 738.5,1048.4 739.1,1048.6 739.8,1048.6 740.5,1048.5 741.2,1048.6 741.9,1048.6 742.6,1048.7 743.2,1048.5 743.9,1048.3 744.6,1048.6 745.3,1048.5 746.0,1048.7 746.7,1048.7 747.3,1048.6 748.0,1048.4 748.7,1048.6 749.4,1048.5 750.1,1048.8 750.8,1048.9 751.4,1048.9 752.1,1049.0 752.8,1048.7 753.5,1048.6 754.2,1048.4 754.9,1048.6 755.5,1048.5 756.2,1048.5 756.9,1048.8 757.6,1048.6 758.3,1048.7 759.0,1048.6 759.6,1048.9 760.3,1048.9 761.0,1048.7 761.7,1048.8 762.4,1048.8 763.1,1048.6 763.7,1048.6 764.4,1048.4 765.1,1048.5 765.8,1048.6 766.5,1048.5 767.2,1048.4 767.8,1048.5 768.5,1048.6 769.2,1048.5 769.9,1048.7 770.6,1048.6 771.3,1048.8 771.9,1048.4 772.6,1048.8 773.3,1048.7 774.0,1048.8 774.7,1048.7 775.4,1048.6 776.0,1048.6 776.7,1048.7 777.4,1048.8 778.1,1048.8 778.8,1048.8 779.5,1048.5 780.1,1048.7 780.8,1048.8 781.5,1049.0 782.2,1048.9 782.9,1048.8 783.6,1048.7 784.2,1048.7 784.9,1048.7 785.6,1048.9 786.3,1048.8 787.0,1048.7 787.7,1048.4 788.3,1048.5 789.0,1048.4 789.7,1048.6 790.4,1048.5 791.1,1048.7 791.8,1048.7 792.4,1048.6 793.1,1048.8 793.8,1048.9 794.5,1048.8 795.2,1048.9 795.9,1048.9 796.5,1048.9 797.2,1048.8 797.9,1049.0 798.6,1049.1 799.3,1048.7 800.0,1048.9 800.6,1048.8 801.3,1048.8 802.0,1048.9 802.7,1048.8" fill="none" stroke="#7fa6d9" stroke-width="1.3"/><rect x="517.3" y="934.1" width="299.3" height="175.9" fill="none" stroke="#333" stroke-width="1"/><line x1="514.3" y1="1106.7" x2="517.3" y2="1106.7" stroke="#333" stroke-width="0.9" /><text x="511.8" y="1109.3" font-size="7.6" text-anchor="end" fill="#222" >&#8722;0.2</text><line x1="514.3" y1="1068.9" x2="517.3" y2="1068.9" stroke="#333" stroke-width="0.9" /><text x="511.8" y="1071.5" font-size="7.6" text-anchor="end" fill="#222" >0.0</text><line x1="514.3" y1="1031.1" x2="517.3" y2="1031.1" stroke="#333" stroke-width="0.9" /><text x="511.8" y="1033.7" font-size="7.6" text-anchor="end" fill="#222" >0.2</text><line x1="514.3" y1="993.3" x2="517.3" y2="993.3" stroke="#333" stroke-width="0.9" /><text x="511.8" y="995.9" font-size="7.6" text-anchor="end" fill="#222" >0.4</text><line x1="514.3" y1="955.5" x2="517.3" y2="955.5" stroke="#333" stroke-width="0.9" /><text x="511.8" y="958.1" font-size="7.6" text-anchor="end" fill="#222" >0.6</text><line x1="529.3" y1="1110.0" x2="529.3" y2="1113.0" stroke="#333" stroke-width="0.9" /><text x="529.3" y="1121.4" font-size="7.6" text-anchor="middle" fill="#222" >0</text><line x1="563.5" y1="1110.0" x2="563.5" y2="1113.0" stroke="#333" stroke-width="0.9" /><text x="563.5" y="1121.4" font-size="7.6" text-anchor="middle" fill="#222" >50</text><line x1="597.6" y1="1110.0" x2="597.6" y2="1113.0" stroke="#333" stroke-width="0.9" /><text x="597.6" y="1121.4" font-size="7.6" text-anchor="middle" fill="#222" >100</text><line x1="631.8" y1="1110.0" x2="631.8" y2="1113.0" stroke="#333" stroke-width="0.9" /><text x="631.8" y="1121.4" font-size="7.6" text-anchor="middle" fill="#222" >150</text><line x1="666.0" y1="1110.0" x2="666.0" y2="1113.0" stroke="#333" stroke-width="0.9" /><text x="666.0" y="1121.4" font-size="7.6" text-anchor="middle" fill="#222" >200</text><line x1="700.2" y1="1110.0" x2="700.2" y2="1113.0" stroke="#333" stroke-width="0.9" /><text x="700.2" y="1121.4" font-size="7.6" text-anchor="middle" fill="#222" >250</text><line x1="734.3" y1="1110.0" x2="734.3" y2="1113.0" stroke="#333" stroke-width="0.9" /><text x="734.3" y="1121.4" font-size="7.6" text-anchor="middle" fill="#222" >300</text><line x1="768.5" y1="1110.0" x2="768.5" y2="1113.0" stroke="#333" stroke-width="0.9" /><text x="768.5" y="1121.4" font-size="7.6" text-anchor="middle" fill="#222" >350</text><line x1="802.7" y1="1110.0" x2="802.7" y2="1113.0" stroke="#333" stroke-width="0.9" /><text x="802.7" y="1121.4" font-size="7.6" text-anchor="middle" fill="#222" >400</text><text x="666.5" y="1132.8" font-size="7.8" text-anchor="middle" textLength="109.8" lengthAdjust="spacingAndGlyphs" fill="#222" >Number of blocks observed</text><text x="485.8" y="1022.5" font-size="7.8" text-anchor="middle" transform="rotate(-90 485.8 1022.5)" fill="#222" >Mean S&#772;<tspan font-size='5' dy='1'>&#8734;</tspan><tspan dy='-1'> metric</tspan></text><text x="669.5" y="929.5" font-size="9.3" text-anchor="middle" textLength="260.9" lengthAdjust="spacingAndGlyphs" fill="#222" >Mean <tspan font-style='italic'>S&#772;</tspan><tspan font-size='6' dy='1.5'>&#8734;</tspan><tspan dy='-1.5'> and 1.96 &#215; </tspan><tspan font-style='italic'>SE</tspan> vs. number of blocks observed</text><line x1="696.5" y1="946.3" x2="713.5" y2="946.3" stroke="#7fa6d9" stroke-width="1.3" /><line x1="696.5" y1="961.2" x2="713.5" y2="961.2" stroke="#f07171" stroke-width="1.3" /><text x="720.0" y="948.9" font-size="7.6" textLength="81.6" lengthAdjust="spacingAndGlyphs" fill="#222" >Altruistic &#177;1.96 &#215; <tspan font-style='italic'>&#963;</tspan><tspan font-size='5.5' dy='1.5' font-style='italic'>&#956;</tspan></text><text x="720.0" y="963.8" font-size="7.6" textLength="88.0" lengthAdjust="spacingAndGlyphs" fill="#222" >MEV-boost &#177;1.96 &#215; <tspan font-style='italic'>&#963;</tspan><tspan font-size='5.5' dy='1.5' font-style='italic'>&#956;</tspan></text><rect x="903.10" y="707.40" width="45.90" height="323.30" fill="#f07171" /><line x1="926.1" y1="693.4" x2="926.1" y2="721.8" stroke="#000" stroke-width="1.8" /><line x1="926.1" y1="1030.7" x2="926.1" y2="1034.7" stroke="#333" stroke-width="1" /><text x="930.9" y="1039.7" font-size="13.7" text-anchor="end" transform="rotate(-90 930.9 1039.7)" fill="#222" >eden</text><rect x="954.70" y="766.90" width="45.90" height="263.80" fill="#f07171" /><line x1="977.7" y1="747.3" x2="977.7" y2="787.0" stroke="#000" stroke-width="1.8" /><line x1="977.7" y1="1030.7" x2="977.7" y2="1034.7" stroke="#333" stroke-width="1" /><text x="982.5" y="1039.7" font-size="13.7" text-anchor="end" transform="rotate(-90 982.5 1039.7)" fill="#222" >relayooor</text><rect x="1006.00" y="774.70" width="45.90" height="256.00" fill="#f07171" /><line x1="1029.0" y1="772.9" x2="1029.0" y2="776.8" stroke="#000" stroke-width="1.8" /><line x1="1029.0" y1="1030.7" x2="1029.0" y2="1034.7" stroke="#333" stroke-width="1" /><text x="1033.8" y="1039.7" font-size="13.7" text-anchor="end" transform="rotate(-90 1033.8 1039.7)" fill="#222" >flashbots</text><rect x="1056.60" y="785.10" width="45.90" height="245.60" fill="#f07171" /><line x1="1079.5" y1="777.3" x2="1079.5" y2="793.0" stroke="#000" stroke-width="1.8" /><line x1="1079.5" y1="1030.7" x2="1079.5" y2="1034.7" stroke="#333" stroke-width="1" /><text x="1077.5" y="1039.7" font-size="13.7" text-anchor="end" transform="rotate(-90 1077.5 1039.7)" fill="#222" >bloxroute</text><text x="1094.5" y="1039.7" font-size="13.7" text-anchor="end" transform="rotate(-90 1094.5 1039.7)" fill="#222" >(regulated)</text><rect x="1108.00" y="791.10" width="45.90" height="239.60" fill="#f07171" /><line x1="1131.0" y1="788.5" x2="1131.0" y2="793.7" stroke="#000" stroke-width="1.8" /><line x1="1131.0" y1="1030.7" x2="1131.0" y2="1034.7" stroke="#333" stroke-width="1" /><text x="1135.8" y="1039.7" font-size="13.7" text-anchor="end" transform="rotate(-90 1135.8 1039.7)" fill="#222" >ultrasound</text><rect x="1159.30" y="794.30" width="45.90" height="236.40" fill="#f07171" /><line x1="1182.2" y1="791.1" x2="1182.2" y2="796.9" stroke="#000" stroke-width="1.8" /><line x1="1182.2" y1="1030.7" x2="1182.2" y2="1034.7" stroke="#333" stroke-width="1" /><text x="1180.2" y="1039.7" font-size="13.7" text-anchor="end" transform="rotate(-90 1180.2 1039.7)" fill="#222" >bloxroute</text><text x="1197.2" y="1039.7" font-size="13.7" text-anchor="end" transform="rotate(-90 1197.2 1039.7)" fill="#222" >(max profit)</text><rect x="1210.20" y="796.30" width="45.90" height="234.40" fill="#f07171" /><line x1="1233.2" y1="793.0" x2="1233.2" y2="798.7" stroke="#000" stroke-width="1.8" /><line x1="1233.2" y1="1030.7" x2="1233.2" y2="1034.7" stroke="#333" stroke-width="1" /><text x="1231.2" y="1039.7" font-size="13.7" text-anchor="end" transform="rotate(-90 1231.2 1039.7)" fill="#222" >agnostic</text><text x="1248.2" y="1039.7" font-size="13.7" text-anchor="end" transform="rotate(-90 1248.2 1039.7)" fill="#222" >Gnosis</text><rect x="1261.50" y="814.40" width="45.90" height="216.30" fill="#f07171" /><line x1="1284.5" y1="809.4" x2="1284.5" y2="820.0" stroke="#000" stroke-width="1.8" /><line x1="1284.5" y1="1030.7" x2="1284.5" y2="1034.7" stroke="#333" stroke-width="1" /><text x="1289.2" y="1039.7" font-size="13.7" text-anchor="end" transform="rotate(-90 1289.2 1039.7)" fill="#222" >blocknative</text><rect x="1312.20" y="845.60" width="45.90" height="185.10" fill="#f07171" /><line x1="1335.2" y1="834.6" x2="1335.2" y2="855.7" stroke="#000" stroke-width="1.8" /><line x1="1335.2" y1="1030.7" x2="1335.2" y2="1034.7" stroke="#333" stroke-width="1" /><text x="1340.0" y="1039.7" font-size="13.7" text-anchor="end" transform="rotate(-90 1340.0 1039.7)" fill="#222" >aestus</text><rect x="1363.60" y="846.10" width="45.90" height="184.60" fill="#f07171" /><line x1="1386.5" y1="825.0" x2="1386.5" y2="866.8" stroke="#000" stroke-width="1.8" /><line x1="1386.5" y1="1030.7" x2="1386.5" y2="1034.7" stroke="#333" stroke-width="1" /><text x="1391.3" y="1039.7" font-size="13.7" text-anchor="end" transform="rotate(-90 1391.3 1039.7)" fill="#222" >manifold</text><rect x="1415.00" y="880.90" width="45.90" height="149.80" fill="#f07171" /><line x1="1438.0" y1="860.2" x2="1438.0" y2="901.0" stroke="#000" stroke-width="1.8" /><line x1="1438.0" y1="1030.7" x2="1438.0" y2="1034.7" stroke="#333" stroke-width="1" /><text x="1436.0" y="1039.7" font-size="13.7" text-anchor="end" transform="rotate(-90 1436.0 1039.7)" fill="#222" >bloxroute</text><text x="1453.0" y="1039.7" font-size="13.7" text-anchor="end" transform="rotate(-90 1453.0 1039.7)" fill="#222" >(ethical)</text><rect x="1465.30" y="936.40" width="45.90" height="94.30" fill="#7fa6d9" /><line x1="1488.2" y1="934.0" x2="1488.2" y2="938.0" stroke="#000" stroke-width="1.8" /><line x1="1488.2" y1="1030.7" x2="1488.2" y2="1034.7" stroke="#333" stroke-width="1" /><text x="1493.0" y="1039.7" font-size="13.7" text-anchor="end" transform="rotate(-90 1493.0 1039.7)" fill="#222" >Altruistic</text><rect x="873.4" y="676.2" width="668.9" height="354.5" fill="none" stroke="#333" stroke-width="1.1"/><line x1="1542.3" y1="1030.6" x2="1546.3" y2="1030.6" stroke="#333" stroke-width="1" /><text x="1550.0" y="1026.8" font-size="10.5" text-anchor="end" textLength="23.6" lengthAdjust="spacingAndGlyphs" transform="rotate(180 1550.0 1026.8)" fill="#222" >0.00</text><line x1="1542.3" y1="987.6" x2="1546.3" y2="987.6" stroke="#333" stroke-width="1" /><text x="1550.0" y="983.8" font-size="10.5" text-anchor="end" textLength="23.6" lengthAdjust="spacingAndGlyphs" transform="rotate(180 1550.0 983.8)" fill="#222" >0.05</text><line x1="1542.3" y1="944.6" x2="1546.3" y2="944.6" stroke="#333" stroke-width="1" /><text x="1550.0" y="940.8" font-size="10.5" text-anchor="end" textLength="23.6" lengthAdjust="spacingAndGlyphs" transform="rotate(180 1550.0 940.8)" fill="#222" >0.10</text><line x1="1542.3" y1="901.6" x2="1546.3" y2="901.6" stroke="#333" stroke-width="1" /><text x="1550.0" y="897.8" font-size="10.5" text-anchor="end" textLength="23.6" lengthAdjust="spacingAndGlyphs" transform="rotate(180 1550.0 897.8)" fill="#222" >0.15</text><line x1="1542.3" y1="858.6" x2="1546.3" y2="858.6" stroke="#333" stroke-width="1" /><text x="1550.0" y="854.8" font-size="10.5" text-anchor="end" textLength="23.6" lengthAdjust="spacingAndGlyphs" transform="rotate(180 1550.0 854.8)" fill="#222" >0.20</text><line x1="1542.3" y1="815.6" x2="1546.3" y2="815.6" stroke="#333" stroke-width="1" /><text x="1550.0" y="811.8" font-size="10.5" text-anchor="end" textLength="23.6" lengthAdjust="spacingAndGlyphs" transform="rotate(180 1550.0 811.8)" fill="#222" >0.25</text><line x1="1542.3" y1="772.6" x2="1546.3" y2="772.6" stroke="#333" stroke-width="1" /><text x="1550.0" y="768.8" font-size="10.5" text-anchor="end" textLength="23.6" lengthAdjust="spacingAndGlyphs" transform="rotate(180 1550.0 768.8)" fill="#222" >0.30</text><line x1="1542.3" y1="729.6" x2="1546.3" y2="729.6" stroke="#333" stroke-width="1" /><text x="1550.0" y="725.8" font-size="10.5" text-anchor="end" textLength="23.6" lengthAdjust="spacingAndGlyphs" transform="rotate(180 1550.0 725.8)" fill="#222" >0.35</text><line x1="1542.3" y1="686.6" x2="1546.3" y2="686.6" stroke="#333" stroke-width="1" /><text x="1550.0" y="682.8" font-size="10.5" text-anchor="end" textLength="23.6" lengthAdjust="spacingAndGlyphs" transform="rotate(180 1550.0 682.8)" fill="#222" >0.40</text><text x="1589.0" y="862.0" font-size="15" transform="rotate(-90 1589.0 862.0)" fill="#111" ><tspan font-style='italic'>S&#772;</tspan><tspan font-size='9' dy='2'>&#8734;</tspan></text><text x="866.5" y="854.2" font-size="17.5" text-anchor="middle" textLength="167.0" lengthAdjust="spacingAndGlyphs" transform="rotate(-90 866.5 854.2)" fill="#111" >Top 12 relays by <tspan font-style='italic'>S&#772;</tspan><tspan font-size='10' dy='2'>&#8734;</tspan></text><rect x="584.4" y="1312.6" width="35.2" height="25.9" fill="#d9e4f4" stroke="#6d9bd6" stroke-width="1.5"/><text x="589.9" y="1332.0" font-size="21" class="ser" font-style="italic" fill="#111">S<tspan font-size="14" dy="3" font-style="normal">0</tspan></text><rect x="584.4" y="1343.4" width="35.2" height="25.2" fill="#f8d0d0" stroke="#e45f5f" stroke-width="1.5"/><text x="589.9" y="1362.1" font-size="21" class="ser" font-style="italic" fill="#111">S<tspan font-size="14" dy="3" font-style="normal">1</tspan></text><rect x="584.4" y="1374.6" width="35.2" height="25.9" fill="#d9e4f4" stroke="#6d9bd6" stroke-width="1.5"/><text x="589.9" y="1394.0" font-size="21" class="ser" font-style="italic" fill="#111">S<tspan font-size="14" dy="3" font-style="normal">0</tspan></text><rect x="584.4" y="1405.4" width="35.2" height="25.2" fill="#f8d0d0" stroke="#e45f5f" stroke-width="1.5"/><text x="589.9" y="1424.1" font-size="21" class="ser" font-style="italic" fill="#111">S<tspan font-size="14" dy="3" font-style="normal">1</tspan></text><line x1="585" y1="1371.5" x2="798" y2="1371.5" stroke="#999" stroke-width="0.8" stroke-dasharray="3.5,3"/><line x1="625.5" y1="1325.2" x2="648.5" y2="1340.0" stroke="#222" stroke-width="1.3"/><path d="M642.5,1339.7 Q647.2,1339.2 648.5,1340.0 Q647.2,1339.2 645.8,1334.7" fill="none" stroke="#222" stroke-width="1.3"/><line x1="622.6" y1="1417.0" x2="648.5" y2="1400.0" stroke="#222" stroke-width="1.3"/><path d="M645.8,1405.4 Q647.2,1400.8 648.5,1400.0 Q647.2,1400.8 642.5,1400.3" fill="none" stroke="#222" stroke-width="1.3"/><text x="650.7" y="1344.4" font-size="22" class="ser" font-style="italic" fill="#111">D<tspan font-size="14" dy="3" font-style="normal">0</tspan></text><line x1="676.6" y1="1339.7" x2="696.6" y2="1339.7" stroke="#222" stroke-width="1.3"/><path d="M691.4,1342.7 Q695.1,1339.7 696.6,1339.7 Q695.1,1339.7 691.4,1336.7" fill="none" stroke="#222" stroke-width="1.3"/><rect x="702.3" y="1328.1" width="33.3" height="23.4" fill="#fbeff6" stroke="#f0cfe0" stroke-width="1"/><text x="719" y="1346.0" font-size="20" class="ser" font-style="italic" text-anchor="middle" fill="#111">h</text><line x1="740.0" y1="1341.0" x2="761.0" y2="1341.0" stroke="#222" stroke-width="1.3"/><path d="M755.8,1344.0 Q759.5,1341.0 761.0,1341.0 Q759.5,1341.0 755.8,1338.0" fill="none" stroke="#222" stroke-width="1.3"/><text x="764.8" y="1343.4" font-size="19" class="ser" fill="#222" textLength="37.7" lengthAdjust="spacingAndGlyphs">{0, 1}</text><rect x="771.4" y="1330.4" width="10.4" height="18.0" fill="none" stroke="#8cc63f" stroke-width="1.2"/><text x="650.7" y="1405.9" font-size="22" class="ser" font-style="italic" fill="#111">D<tspan font-size="14" dy="3" font-style="normal">1</tspan></text><line x1="676.6" y1="1399.5" x2="696.6" y2="1399.5" stroke="#222" stroke-width="1.3"/><path d="M691.4,1402.5 Q695.1,1399.5 696.6,1399.5 Q695.1,1399.5 691.4,1396.5" fill="none" stroke="#222" stroke-width="1.3"/><rect x="702.3" y="1386.3" width="33.3" height="24.0" fill="#fbeff6" stroke="#f0cfe0" stroke-width="1"/><text x="719" y="1404.8" font-size="20" class="ser" font-style="italic" text-anchor="middle" fill="#111">h</text><line x1="740.0" y1="1400.8" x2="761.0" y2="1400.8" stroke="#222" stroke-width="1.3"/><path d="M755.8,1403.8 Q759.5,1400.8 761.0,1400.8 Q759.5,1400.8 755.8,1397.8" fill="none" stroke="#222" stroke-width="1.3"/><text x="764.8" y="1404.9" font-size="19" class="ser" fill="#222" textLength="37.7" lengthAdjust="spacingAndGlyphs">{0, 1}</text><rect x="786.2" y="1390.3" width="10.4" height="17.1" fill="none" stroke="#8cc63f" stroke-width="1.2"/><line x1="157.2" y1="2009.3" x2="157.2" y2="1841.1" stroke="#222" stroke-width="1.2"/><path d="M160.4,1845.6 L157.2,1841.1 L154.0,1845.6" fill="none" stroke="#222" stroke-width="1.2"/><line x1="143.7" y1="1991.1" x2="374.7" y2="1991.1" stroke="#222" stroke-width="1.2"/><path d="M370.2,1994.3 L374.7,1991.1 L370.2,1987.9" fill="none" stroke="#222" stroke-width="1.2"/><line x1="158.0" y1="1852.8" x2="374.0" y2="1852.8" stroke="#222" stroke-width="1.3" stroke-dasharray="1.6,2.2"/><line x1="158.0" y1="1920.6" x2="374.0" y2="1920.6" stroke="#222" stroke-width="1.3" stroke-dasharray="1.6,2.2"/><line x1="227.7" y1="1990.7" x2="299.8" y2="1921" stroke="#222" stroke-width="1.3"/><circle cx="227.7" cy="1990.7" r="2.8" fill="#000"/><circle cx="299.8" cy="1921" r="2.8" fill="#000"/><line x1="299.8" y1="1930.7" x2="299.8" y2="1979.0" stroke="#86abe0" stroke-width="1.3"/><path d="M296.8,1926.7 L302.8,1926.7 L299.8,1932.2 Z" fill="#86abe0"/><path d="M296.8,1983.0 L302.8,1983.0 L299.8,1977.5 Z" fill="#86abe0"/><line x1="299.8" y1="1987.0" x2="299.8" y2="1996.0" stroke="#222" stroke-width="1.1" /><text x="299.8" y="2008.5" font-size="11.5" text-anchor="middle" fill="#222" >1</text><text x="153.6" y="1902.5" font-size="11.5" text-anchor="middle" textLength="68.4" lengthAdjust="spacingAndGlyphs" transform="rotate(-90 153.6 1902.5)" fill="#222" >Price (y / x)</text><text x="248.5" y="1951" font-size="13" class="ser" font-style="italic" fill="#111">T<tspan font-size="9" dy="2">u</tspan></text><text x="377.5" y="1856.0" font-size="14" class="ser" font-style="italic" fill="#111">p<tspan font-size="9.5" dy="2" font-style="normal">2</tspan></text><text x="377.5" y="1924.0" font-size="14" class="ser" font-style="italic" fill="#111">p<tspan font-size="9.5" dy="2" font-style="normal">1</tspan></text><text x="377.5" y="1995.0" font-size="14" class="ser" font-style="italic" fill="#111">p<tspan font-size="9.5" dy="2" font-style="normal">0</tspan></text><line x1="402" y1="1918.6" x2="448" y2="1918.6" stroke="#3e5f98" stroke-width="2"/><path d="M445,1914.5 L456,1918.6 L445,1922.7 Z" fill="#3e5f98"/><line x1="480.4" y1="2011.6" x2="480.4" y2="1838.0" stroke="#222" stroke-width="1.2"/><path d="M483.6,1842.5 L480.4,1838.0 L477.2,1842.5" fill="none" stroke="#222" stroke-width="1.2"/><line x1="466.6" y1="1992.9" x2="704.6" y2="1992.9" stroke="#222" stroke-width="1.2"/><path d="M700.1,1996.1 L704.6,1992.9 L700.1,1989.7" fill="none" stroke="#222" stroke-width="1.2"/><line x1="481.6" y1="1851.1" x2="702.2" y2="1851.1" stroke="#222" stroke-width="1.3" stroke-dasharray="1.6,2.2"/><line x1="481.6" y1="1920.7" x2="701.0" y2="1920.7" stroke="#222" stroke-width="1.3" stroke-dasharray="1.6,2.2"/><polyline points="480.4,1992.9 551.2,1920.7 623.9,1851.1 701.3,1920.7" fill="none" stroke="#222" stroke-width="1.3"/><circle cx="480.4" cy="1992.9" r="2.8" fill="#000"/><circle cx="551.2" cy="1920.7" r="2.8" fill="#000"/><circle cx="623.9" cy="1851.1" r="2.8" fill="#000"/><circle cx="701.3" cy="1920.7" r="2.8" fill="#000"/><line x1="623.9" y1="1863.0" x2="623.9" y2="1911.4" stroke="#ee6b6b" stroke-width="1.3"/><path d="M620.9,1859.0 L626.9,1859.0 L623.9,1864.5 Z" fill="#ee6b6b"/><path d="M620.9,1915.4 L626.9,1915.4 L623.9,1909.9 Z" fill="#ee6b6b"/><line x1="551.2" y1="1930.2" x2="551.2" y2="1981.1" stroke="#86abe0" stroke-width="1.3"/><path d="M548.2,1926.2 L554.2,1926.2 L551.2,1931.7 Z" fill="#86abe0"/><path d="M548.2,1985.1 L554.2,1985.1 L551.2,1979.6 Z" fill="#86abe0"/><line x1="551.2" y1="1988.0" x2="551.2" y2="1998.0" stroke="#222" stroke-width="1.1" /><line x1="623.9" y1="1930.2" x2="623.9" y2="1981.1" stroke="#86abe0" stroke-width="1.3"/><path d="M620.9,1926.2 L626.9,1926.2 L623.9,1931.7 Z" fill="#86abe0"/><path d="M620.9,1985.1 L626.9,1985.1 L623.9,1979.6 Z" fill="#86abe0"/><line x1="623.9" y1="1988.0" x2="623.9" y2="1998.0" stroke="#222" stroke-width="1.1" /><line x1="701.3" y1="1930.2" x2="701.3" y2="1981.1" stroke="#86abe0" stroke-width="1.3"/><path d="M698.3,1926.2 L704.3,1926.2 L701.3,1931.7 Z" fill="#86abe0"/><path d="M698.3,1985.1 L704.3,1985.1 L701.3,1979.6 Z" fill="#86abe0"/><line x1="701.3" y1="1988.0" x2="701.3" y2="1998.0" stroke="#222" stroke-width="1.1" /><text x="551.2" y="2010.5" font-size="11.5" text-anchor="middle" fill="#222" >1</text><text x="623.9" y="2010.5" font-size="11.5" text-anchor="middle" fill="#222" >2</text><text x="701.3" y="2010.5" font-size="11.5" text-anchor="middle" fill="#222" >3</text><text x="476.8" y="1902.0" font-size="11.5" text-anchor="middle" textLength="69.7" lengthAdjust="spacingAndGlyphs" transform="rotate(-90 476.8 1902.0)" fill="#222" >Price (y / x)</text><text x="494" y="1961" font-size="13" class="ser" font-style="italic" fill="#111">T<tspan font-size="9" dy="2" font-style="normal">1</tspan></text><text x="573.6" y="1878" font-size="13" class="ser" font-style="italic" fill="#111">T<tspan font-size="9" dy="2">u</tspan></text><text x="668.2" y="1887" font-size="11.5" class="ser" font-style="italic" fill="#111">T<tspan font-size="8" dy="2" font-style="normal">2</tspan></text><text x="706.3" y="1854.5" font-size="14" class="ser" font-style="italic" fill="#111">p<tspan font-size="9.5" dy="2" font-style="normal">2</tspan></text><text x="706.3" y="1924.0" font-size="14" class="ser" font-style="italic" fill="#111">p<tspan font-size="9.5" dy="2" font-style="normal">1</tspan></text><text x="706.3" y="1996.5" font-size="14" class="ser" font-style="italic" fill="#111">p<tspan font-size="9.5" dy="2" font-style="normal">0</tspan></text><text x="1070.4" y="1387.7" font-size="30" class="ser" font-style="italic" fill="#000" textLength="99" lengthAdjust="spacingAndGlyphs">S<tspan font-size="21" dy="6">p</tspan><tspan dy="-6" font-style="normal">(</tspan>T<tspan font-style="normal">) =</tspan></text><path d="M1196,1339.5 Q1178,1380 1196,1421.5 L1194.3,1421.5 Q1174,1380 1194.3,1339.5 Z" fill="#000"/><path d="M1434,1339.5 Q1452,1380 1434,1421.5 L1435.7,1421.5 Q1456,1380 1435.7,1339.5 Z" fill="#000"/><path d="M1200.5,1361 L1236.5,1361 L1238,1370 L1236,1370 Q1233,1364 1225,1364 L1207,1364 L1220,1381 L1205.5,1397 L1226,1397 Q1234,1397 1237,1390 L1239,1390 L1236.5,1400.5 L1200.5,1400.5 L1217,1382 Z" fill="#000"/><text x="1219.4" y="1354.6" font-size="19" class="ser" font-style="italic" text-anchor="middle">n</text><text x="1218.8" y="1420.5" font-size="19" class="ser" text-anchor="middle"><tspan font-style="italic">i</tspan>=1</text><text x="1245" y="1387.7" font-size="30" class="ser" fill="#000" textLength="171" lengthAdjust="spacingAndGlyphs">|<tspan font-style="italic">p</tspan>(<tspan font-style="italic">T</tspan><tspan font-size="20" dy="6">&#8804;<tspan font-style="italic">i</tspan></tspan><tspan dy="-6">) &#8722; </tspan><tspan font-style="italic">p</tspan>(&#8709;)|</text><text x="1419" y="1375" font-size="20" class="ser" font-style="italic">p</text><text x="1463" y="1342" font-size="14" class="ser" text-anchor="middle">1</text><line x1="1458" y1="1345.5" x2="1468.5" y2="1345.5" stroke="#000" stroke-width="0.9"/><text x="1463" y="1355.5" font-size="14" class="ser" font-style="italic" text-anchor="middle">p</text><text x="1145" y="1548" font-size="30" class="ser" font-style="italic" fill="#000" textLength="106" lengthAdjust="spacingAndGlyphs">S<tspan font-size="21" dy="6">p</tspan><tspan dy="-6" font-style="normal">(</tspan>T<tspan font-style="normal">) :=</tspan></text><line x1="1149" y1="1523" x2="1159" y2="1523" stroke="#000" stroke-width="1.3"/><line x1="1263.4" y1="1540.2" x2="1346.6" y2="1540.2" stroke="#000" stroke-width="1.4"/><text x="1269.7" y="1530.8" font-size="30" class="ser" font-style="italic" textLength="69" lengthAdjust="spacingAndGlyphs">S<tspan font-size="21" dy="6">p</tspan><tspan dy="-6" font-style="normal">(</tspan>T<tspan font-style="normal">)</tspan></text><text x="1264.5" y="1571" font-size="30" class="ser" font-style="italic" textLength="81" lengthAdjust="spacingAndGlyphs">S<tspan font-size="21" dy="6">p</tspan><tspan dy="-6" font-style="normal">(</tspan>T<tspan font-size="20" dy="-10" font-style="normal">*</tspan><tspan dy="10" font-style="normal">)</tspan></text><text x="1359.2" y="1548" font-size="30" class="ser">&#8722; 1</text></svg>
</body></html>
